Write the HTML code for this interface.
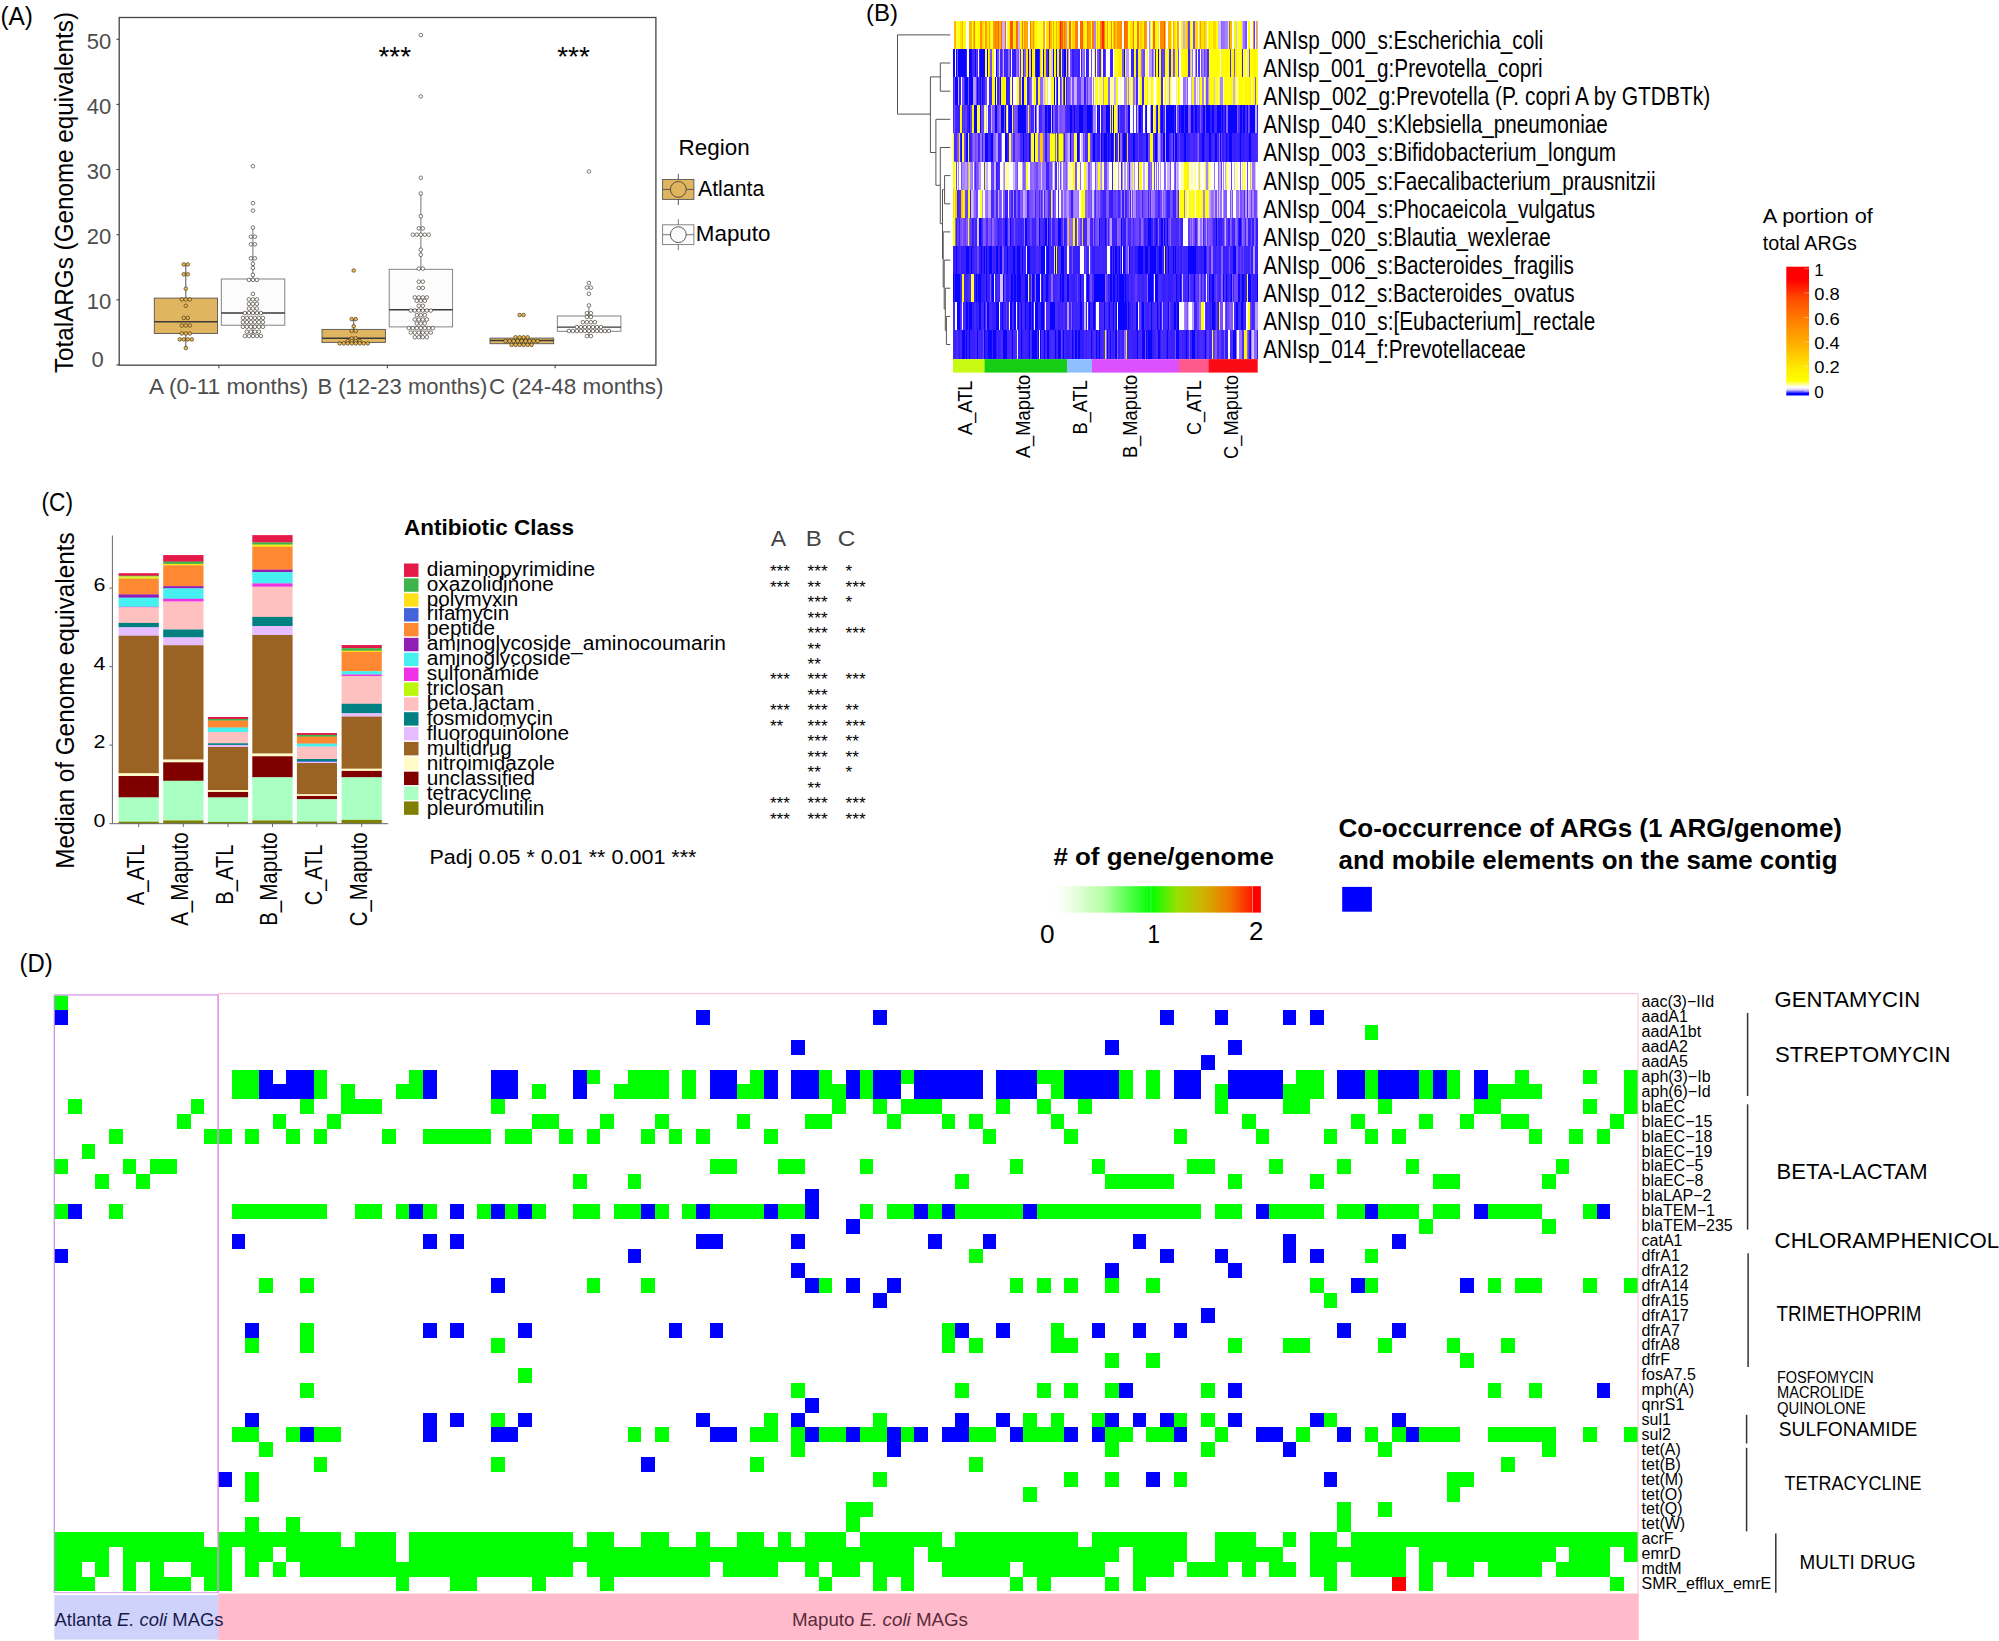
<!DOCTYPE html><html><head><meta charset="utf-8"><title>Figure</title><style>html,body{margin:0;padding:0;background:#fff}svg{display:block}text{font-family:'Liberation Sans', sans-serif;}</style></head><body>
<svg width="1999" height="1641" viewBox="0 0 1999 1641">
<rect width="1999" height="1641" fill="#fff"/>
<g id="panelA">
<text x="0.5" y="24.6" font-size="26" textLength="32.5" lengthAdjust="spacingAndGlyphs">(A)</text>
<rect x="119.2" y="17.5" width="536.7" height="347.7" fill="#fff" stroke="#444" stroke-width="1.3"/>
<line x1="116.4" x2="119.2" y1="364.9" y2="364.9" stroke="#444" stroke-width="1.1"/>
<text x="103.8" y="367.0" font-size="22" fill="#4d4d4d" text-anchor="end">0</text>
<line x1="116.4" x2="119.2" y1="299.8" y2="299.8" stroke="#444" stroke-width="1.1"/>
<text x="111.2" y="309.0" font-size="22" fill="#4d4d4d" text-anchor="end">10</text>
<line x1="116.4" x2="119.2" y1="234.7" y2="234.7" stroke="#444" stroke-width="1.1"/>
<text x="111.2" y="243.9" font-size="22" fill="#4d4d4d" text-anchor="end">20</text>
<line x1="116.4" x2="119.2" y1="169.5" y2="169.5" stroke="#444" stroke-width="1.1"/>
<text x="111.2" y="178.7" font-size="22" fill="#4d4d4d" text-anchor="end">30</text>
<line x1="116.4" x2="119.2" y1="104.4" y2="104.4" stroke="#444" stroke-width="1.1"/>
<text x="111.2" y="113.6" font-size="22" fill="#4d4d4d" text-anchor="end">40</text>
<line x1="116.4" x2="119.2" y1="39.3" y2="39.3" stroke="#444" stroke-width="1.1"/>
<text x="111.2" y="48.5" font-size="22" fill="#4d4d4d" text-anchor="end">50</text>
<text x="73.3" y="373.0" font-size="25" textLength="361.0" lengthAdjust="spacingAndGlyphs" transform="rotate(-90 73.3 373.0)">TotalARGs (Genome equivalents)</text>
<line x1="218.9" x2="218.9" y1="365.2" y2="368.2" stroke="#444" stroke-width="1.1"/>
<line x1="387.4" x2="387.4" y1="365.2" y2="368.2" stroke="#444" stroke-width="1.1"/>
<line x1="555.1" x2="555.1" y1="365.2" y2="368.2" stroke="#444" stroke-width="1.1"/>
<text x="148.9" y="394.2" font-size="22" fill="#4d4d4d" textLength="159.3" lengthAdjust="spacingAndGlyphs">A (0-11 months)</text>
<text x="317.4" y="394.2" font-size="22" fill="#4d4d4d" textLength="170.0" lengthAdjust="spacingAndGlyphs">B (12-23 months)</text>
<text x="489.0" y="394.2" font-size="22" fill="#4d4d4d" textLength="174.5" lengthAdjust="spacingAndGlyphs">C (24-48 months)</text>
<line x1="185.8" x2="185.8" y1="264.4" y2="298.1" stroke="#555" stroke-width="1"/>
<line x1="185.8" x2="185.8" y1="333.5" y2="348.0" stroke="#555" stroke-width="1"/>
<rect x="154.3" y="298.1" width="63.2" height="35.4" fill="#E0B55F" stroke="#555" stroke-width="0.9"/>
<line x1="154.3" x2="217.5" y1="321.7" y2="321.7" stroke="#3a3a3a" stroke-width="1.4"/>
<line x1="252.9" x2="252.9" y1="227.6" y2="279.0" stroke="#777" stroke-width="1"/>
<line x1="252.9" x2="252.9" y1="325.2" y2="336.0" stroke="#777" stroke-width="1"/>
<rect x="221.3" y="279.0" width="63.5" height="46.2" fill="#fcfcfc" stroke="#777" stroke-width="0.9"/>
<line x1="221.3" x2="284.8" y1="313.0" y2="313.0" stroke="#3a3a3a" stroke-width="1.4"/>
<line x1="353.7" x2="353.7" y1="319.1" y2="329.4" stroke="#555" stroke-width="1"/>
<line x1="353.7" x2="353.7" y1="342.4" y2="343.4" stroke="#555" stroke-width="1"/>
<rect x="322.0" y="329.4" width="63.4" height="13.0" fill="#E0B55F" stroke="#555" stroke-width="0.9"/>
<line x1="322.0" x2="385.4" y1="338.3" y2="338.3" stroke="#3a3a3a" stroke-width="1.4"/>
<line x1="420.9" x2="420.9" y1="193.8" y2="269.3" stroke="#777" stroke-width="1"/>
<line x1="420.9" x2="420.9" y1="326.9" y2="338.4" stroke="#777" stroke-width="1"/>
<rect x="389.2" y="269.3" width="63.4" height="57.6" fill="#fcfcfc" stroke="#777" stroke-width="0.9"/>
<line x1="389.2" x2="452.6" y1="309.7" y2="309.7" stroke="#3a3a3a" stroke-width="1.4"/>
<line x1="521.6" x2="521.6" y1="337.3" y2="338.1" stroke="#555" stroke-width="1"/>
<line x1="521.6" x2="521.6" y1="343.7" y2="344.9" stroke="#555" stroke-width="1"/>
<rect x="490.0" y="338.1" width="63.7" height="5.6" fill="#E0B55F" stroke="#555" stroke-width="0.9"/>
<line x1="490.0" x2="553.7" y1="340.5" y2="340.5" stroke="#3a3a3a" stroke-width="1.4"/>
<line x1="588.9" x2="588.9" y1="305.6" y2="316.0" stroke="#777" stroke-width="1"/>
<line x1="588.9" x2="588.9" y1="331.3" y2="336.0" stroke="#777" stroke-width="1"/>
<rect x="557.3" y="316.0" width="63.6" height="15.3" fill="#fcfcfc" stroke="#777" stroke-width="0.9"/>
<line x1="557.3" x2="620.9" y1="327.1" y2="327.1" stroke="#3a3a3a" stroke-width="1.4"/>
<circle cx="183.8" cy="264.4" r="1.8" fill="#eeb84c" stroke="#2a2418" stroke-width="0.6"/>
<circle cx="187.8" cy="264.4" r="1.8" fill="#eeb84c" stroke="#2a2418" stroke-width="0.6"/>
<circle cx="183.8" cy="274.3" r="1.8" fill="#eeb84c" stroke="#2a2418" stroke-width="0.6"/>
<circle cx="187.8" cy="274.3" r="1.8" fill="#eeb84c" stroke="#2a2418" stroke-width="0.6"/>
<circle cx="185.8" cy="288.7" r="1.8" fill="#eeb84c" stroke="#2a2418" stroke-width="0.6"/>
<circle cx="181.8" cy="299.4" r="1.8" fill="#eeb84c" stroke="#2a2418" stroke-width="0.6"/>
<circle cx="185.8" cy="299.4" r="1.8" fill="#eeb84c" stroke="#2a2418" stroke-width="0.6"/>
<circle cx="189.8" cy="299.4" r="1.8" fill="#eeb84c" stroke="#2a2418" stroke-width="0.6"/>
<circle cx="185.8" cy="305.8" r="1.8" fill="#eeb84c" stroke="#2a2418" stroke-width="0.6"/>
<circle cx="183.8" cy="317.9" r="1.8" fill="#eeb84c" stroke="#2a2418" stroke-width="0.6"/>
<circle cx="187.8" cy="317.9" r="1.8" fill="#eeb84c" stroke="#2a2418" stroke-width="0.6"/>
<circle cx="181.8" cy="325.5" r="1.8" fill="#eeb84c" stroke="#2a2418" stroke-width="0.6"/>
<circle cx="185.8" cy="325.5" r="1.8" fill="#eeb84c" stroke="#2a2418" stroke-width="0.6"/>
<circle cx="189.8" cy="325.5" r="1.8" fill="#eeb84c" stroke="#2a2418" stroke-width="0.6"/>
<circle cx="181.8" cy="333.5" r="1.8" fill="#eeb84c" stroke="#2a2418" stroke-width="0.6"/>
<circle cx="185.8" cy="333.5" r="1.8" fill="#eeb84c" stroke="#2a2418" stroke-width="0.6"/>
<circle cx="189.8" cy="333.5" r="1.8" fill="#eeb84c" stroke="#2a2418" stroke-width="0.6"/>
<circle cx="179.8" cy="339.4" r="1.8" fill="#eeb84c" stroke="#2a2418" stroke-width="0.6"/>
<circle cx="183.8" cy="339.4" r="1.8" fill="#eeb84c" stroke="#2a2418" stroke-width="0.6"/>
<circle cx="187.8" cy="339.4" r="1.8" fill="#eeb84c" stroke="#2a2418" stroke-width="0.6"/>
<circle cx="191.8" cy="339.4" r="1.8" fill="#eeb84c" stroke="#2a2418" stroke-width="0.6"/>
<circle cx="185.8" cy="348.0" r="1.8" fill="#eeb84c" stroke="#2a2418" stroke-width="0.6"/>
<circle cx="252.9" cy="166.2" r="1.8" fill="#fff" stroke="#2a2418" stroke-width="0.6"/>
<circle cx="252.9" cy="203.2" r="1.8" fill="#fff" stroke="#2a2418" stroke-width="0.6"/>
<circle cx="252.9" cy="210.6" r="1.8" fill="#fff" stroke="#2a2418" stroke-width="0.6"/>
<circle cx="252.9" cy="227.6" r="1.8" fill="#fff" stroke="#2a2418" stroke-width="0.6"/>
<circle cx="250.9" cy="236.7" r="1.8" fill="#fff" stroke="#2a2418" stroke-width="0.6"/>
<circle cx="254.9" cy="236.7" r="1.8" fill="#fff" stroke="#2a2418" stroke-width="0.6"/>
<circle cx="250.9" cy="244.3" r="1.8" fill="#fff" stroke="#2a2418" stroke-width="0.6"/>
<circle cx="254.9" cy="244.3" r="1.8" fill="#fff" stroke="#2a2418" stroke-width="0.6"/>
<circle cx="250.9" cy="258.3" r="1.8" fill="#fff" stroke="#2a2418" stroke-width="0.6"/>
<circle cx="254.9" cy="258.3" r="1.8" fill="#fff" stroke="#2a2418" stroke-width="0.6"/>
<circle cx="252.9" cy="263.8" r="1.8" fill="#fff" stroke="#2a2418" stroke-width="0.6"/>
<circle cx="252.9" cy="267.9" r="1.8" fill="#fff" stroke="#2a2418" stroke-width="0.6"/>
<circle cx="252.9" cy="275.0" r="1.8" fill="#fff" stroke="#2a2418" stroke-width="0.6"/>
<circle cx="248.9" cy="279.9" r="1.8" fill="#fff" stroke="#2a2418" stroke-width="0.6"/>
<circle cx="252.9" cy="279.9" r="1.8" fill="#fff" stroke="#2a2418" stroke-width="0.6"/>
<circle cx="256.9" cy="279.9" r="1.8" fill="#fff" stroke="#2a2418" stroke-width="0.6"/>
<circle cx="252.9" cy="293.9" r="1.8" fill="#fff" stroke="#2a2418" stroke-width="0.6"/>
<circle cx="248.9" cy="299.4" r="1.8" fill="#fff" stroke="#2a2418" stroke-width="0.6"/>
<circle cx="252.9" cy="299.4" r="1.8" fill="#fff" stroke="#2a2418" stroke-width="0.6"/>
<circle cx="256.9" cy="299.4" r="1.8" fill="#fff" stroke="#2a2418" stroke-width="0.6"/>
<circle cx="248.9" cy="303.9" r="1.8" fill="#fff" stroke="#2a2418" stroke-width="0.6"/>
<circle cx="252.9" cy="303.9" r="1.8" fill="#fff" stroke="#2a2418" stroke-width="0.6"/>
<circle cx="256.9" cy="303.9" r="1.8" fill="#fff" stroke="#2a2418" stroke-width="0.6"/>
<circle cx="248.9" cy="308.5" r="1.8" fill="#fff" stroke="#2a2418" stroke-width="0.6"/>
<circle cx="252.9" cy="308.5" r="1.8" fill="#fff" stroke="#2a2418" stroke-width="0.6"/>
<circle cx="256.9" cy="308.5" r="1.8" fill="#fff" stroke="#2a2418" stroke-width="0.6"/>
<circle cx="244.9" cy="313.0" r="1.8" fill="#fff" stroke="#2a2418" stroke-width="0.6"/>
<circle cx="248.9" cy="313.0" r="1.8" fill="#fff" stroke="#2a2418" stroke-width="0.6"/>
<circle cx="252.9" cy="313.0" r="1.8" fill="#fff" stroke="#2a2418" stroke-width="0.6"/>
<circle cx="256.9" cy="313.0" r="1.8" fill="#fff" stroke="#2a2418" stroke-width="0.6"/>
<circle cx="260.9" cy="313.0" r="1.8" fill="#fff" stroke="#2a2418" stroke-width="0.6"/>
<circle cx="242.9" cy="317.9" r="1.8" fill="#fff" stroke="#2a2418" stroke-width="0.6"/>
<circle cx="246.9" cy="317.9" r="1.8" fill="#fff" stroke="#2a2418" stroke-width="0.6"/>
<circle cx="250.9" cy="317.9" r="1.8" fill="#fff" stroke="#2a2418" stroke-width="0.6"/>
<circle cx="254.9" cy="317.9" r="1.8" fill="#fff" stroke="#2a2418" stroke-width="0.6"/>
<circle cx="258.9" cy="317.9" r="1.8" fill="#fff" stroke="#2a2418" stroke-width="0.6"/>
<circle cx="262.9" cy="317.9" r="1.8" fill="#fff" stroke="#2a2418" stroke-width="0.6"/>
<circle cx="242.9" cy="322.2" r="1.8" fill="#fff" stroke="#2a2418" stroke-width="0.6"/>
<circle cx="246.9" cy="322.2" r="1.8" fill="#fff" stroke="#2a2418" stroke-width="0.6"/>
<circle cx="250.9" cy="322.2" r="1.8" fill="#fff" stroke="#2a2418" stroke-width="0.6"/>
<circle cx="254.9" cy="322.2" r="1.8" fill="#fff" stroke="#2a2418" stroke-width="0.6"/>
<circle cx="258.9" cy="322.2" r="1.8" fill="#fff" stroke="#2a2418" stroke-width="0.6"/>
<circle cx="262.9" cy="322.2" r="1.8" fill="#fff" stroke="#2a2418" stroke-width="0.6"/>
<circle cx="242.9" cy="326.8" r="1.8" fill="#fff" stroke="#2a2418" stroke-width="0.6"/>
<circle cx="246.9" cy="326.8" r="1.8" fill="#fff" stroke="#2a2418" stroke-width="0.6"/>
<circle cx="250.9" cy="326.8" r="1.8" fill="#fff" stroke="#2a2418" stroke-width="0.6"/>
<circle cx="254.9" cy="326.8" r="1.8" fill="#fff" stroke="#2a2418" stroke-width="0.6"/>
<circle cx="258.9" cy="326.8" r="1.8" fill="#fff" stroke="#2a2418" stroke-width="0.6"/>
<circle cx="262.9" cy="326.8" r="1.8" fill="#fff" stroke="#2a2418" stroke-width="0.6"/>
<circle cx="246.9" cy="331.7" r="1.8" fill="#fff" stroke="#2a2418" stroke-width="0.6"/>
<circle cx="250.9" cy="331.7" r="1.8" fill="#fff" stroke="#2a2418" stroke-width="0.6"/>
<circle cx="254.9" cy="331.7" r="1.8" fill="#fff" stroke="#2a2418" stroke-width="0.6"/>
<circle cx="258.9" cy="331.7" r="1.8" fill="#fff" stroke="#2a2418" stroke-width="0.6"/>
<circle cx="244.9" cy="336.0" r="1.8" fill="#fff" stroke="#2a2418" stroke-width="0.6"/>
<circle cx="248.9" cy="336.0" r="1.8" fill="#fff" stroke="#2a2418" stroke-width="0.6"/>
<circle cx="252.9" cy="336.0" r="1.8" fill="#fff" stroke="#2a2418" stroke-width="0.6"/>
<circle cx="256.9" cy="336.0" r="1.8" fill="#fff" stroke="#2a2418" stroke-width="0.6"/>
<circle cx="260.9" cy="336.0" r="1.8" fill="#fff" stroke="#2a2418" stroke-width="0.6"/>
<circle cx="353.7" cy="270.5" r="1.8" fill="#eeb84c" stroke="#2a2418" stroke-width="0.6"/>
<circle cx="351.7" cy="319.1" r="1.8" fill="#eeb84c" stroke="#2a2418" stroke-width="0.6"/>
<circle cx="355.7" cy="319.1" r="1.8" fill="#eeb84c" stroke="#2a2418" stroke-width="0.6"/>
<circle cx="353.7" cy="326.3" r="1.8" fill="#eeb84c" stroke="#2a2418" stroke-width="0.6"/>
<circle cx="351.7" cy="330.9" r="1.8" fill="#eeb84c" stroke="#2a2418" stroke-width="0.6"/>
<circle cx="355.7" cy="330.9" r="1.8" fill="#eeb84c" stroke="#2a2418" stroke-width="0.6"/>
<circle cx="351.7" cy="338.3" r="1.8" fill="#eeb84c" stroke="#2a2418" stroke-width="0.6"/>
<circle cx="355.7" cy="338.3" r="1.8" fill="#eeb84c" stroke="#2a2418" stroke-width="0.6"/>
<circle cx="347.7" cy="341.1" r="1.8" fill="#eeb84c" stroke="#2a2418" stroke-width="0.6"/>
<circle cx="351.7" cy="341.1" r="1.8" fill="#eeb84c" stroke="#2a2418" stroke-width="0.6"/>
<circle cx="355.7" cy="341.1" r="1.8" fill="#eeb84c" stroke="#2a2418" stroke-width="0.6"/>
<circle cx="359.7" cy="341.1" r="1.8" fill="#eeb84c" stroke="#2a2418" stroke-width="0.6"/>
<circle cx="339.7" cy="343.4" r="1.8" fill="#eeb84c" stroke="#2a2418" stroke-width="0.6"/>
<circle cx="343.7" cy="343.4" r="1.8" fill="#eeb84c" stroke="#2a2418" stroke-width="0.6"/>
<circle cx="347.7" cy="343.4" r="1.8" fill="#eeb84c" stroke="#2a2418" stroke-width="0.6"/>
<circle cx="351.7" cy="343.4" r="1.8" fill="#eeb84c" stroke="#2a2418" stroke-width="0.6"/>
<circle cx="355.7" cy="343.4" r="1.8" fill="#eeb84c" stroke="#2a2418" stroke-width="0.6"/>
<circle cx="359.7" cy="343.4" r="1.8" fill="#eeb84c" stroke="#2a2418" stroke-width="0.6"/>
<circle cx="363.7" cy="343.4" r="1.8" fill="#eeb84c" stroke="#2a2418" stroke-width="0.6"/>
<circle cx="367.7" cy="343.4" r="1.8" fill="#eeb84c" stroke="#2a2418" stroke-width="0.6"/>
<circle cx="420.8" cy="35.1" r="1.8" fill="#fff" stroke="#2a2418" stroke-width="0.6"/>
<circle cx="420.8" cy="96.4" r="1.8" fill="#fff" stroke="#2a2418" stroke-width="0.6"/>
<circle cx="420.8" cy="177.8" r="1.8" fill="#fff" stroke="#2a2418" stroke-width="0.6"/>
<circle cx="420.8" cy="193.5" r="1.8" fill="#fff" stroke="#2a2418" stroke-width="0.6"/>
<circle cx="420.8" cy="216.2" r="1.8" fill="#fff" stroke="#2a2418" stroke-width="0.6"/>
<circle cx="418.8" cy="228.4" r="1.8" fill="#fff" stroke="#2a2418" stroke-width="0.6"/>
<circle cx="422.8" cy="228.4" r="1.8" fill="#fff" stroke="#2a2418" stroke-width="0.6"/>
<circle cx="412.8" cy="234.7" r="1.8" fill="#fff" stroke="#2a2418" stroke-width="0.6"/>
<circle cx="416.8" cy="234.7" r="1.8" fill="#fff" stroke="#2a2418" stroke-width="0.6"/>
<circle cx="420.8" cy="234.7" r="1.8" fill="#fff" stroke="#2a2418" stroke-width="0.6"/>
<circle cx="424.8" cy="234.7" r="1.8" fill="#fff" stroke="#2a2418" stroke-width="0.6"/>
<circle cx="428.8" cy="234.7" r="1.8" fill="#fff" stroke="#2a2418" stroke-width="0.6"/>
<circle cx="420.8" cy="249.7" r="1.8" fill="#fff" stroke="#2a2418" stroke-width="0.6"/>
<circle cx="420.8" cy="254.8" r="1.8" fill="#fff" stroke="#2a2418" stroke-width="0.6"/>
<circle cx="418.8" cy="268.6" r="1.8" fill="#fff" stroke="#2a2418" stroke-width="0.6"/>
<circle cx="422.8" cy="268.6" r="1.8" fill="#fff" stroke="#2a2418" stroke-width="0.6"/>
<circle cx="418.8" cy="281.7" r="1.8" fill="#fff" stroke="#2a2418" stroke-width="0.6"/>
<circle cx="422.8" cy="281.7" r="1.8" fill="#fff" stroke="#2a2418" stroke-width="0.6"/>
<circle cx="418.8" cy="287.9" r="1.8" fill="#fff" stroke="#2a2418" stroke-width="0.6"/>
<circle cx="422.8" cy="287.9" r="1.8" fill="#fff" stroke="#2a2418" stroke-width="0.6"/>
<circle cx="414.8" cy="297.4" r="1.8" fill="#fff" stroke="#2a2418" stroke-width="0.6"/>
<circle cx="418.8" cy="297.4" r="1.8" fill="#fff" stroke="#2a2418" stroke-width="0.6"/>
<circle cx="422.8" cy="297.4" r="1.8" fill="#fff" stroke="#2a2418" stroke-width="0.6"/>
<circle cx="426.8" cy="297.4" r="1.8" fill="#fff" stroke="#2a2418" stroke-width="0.6"/>
<circle cx="416.8" cy="300.8" r="1.8" fill="#fff" stroke="#2a2418" stroke-width="0.6"/>
<circle cx="420.8" cy="300.8" r="1.8" fill="#fff" stroke="#2a2418" stroke-width="0.6"/>
<circle cx="424.8" cy="300.8" r="1.8" fill="#fff" stroke="#2a2418" stroke-width="0.6"/>
<circle cx="418.8" cy="305.8" r="1.8" fill="#fff" stroke="#2a2418" stroke-width="0.6"/>
<circle cx="422.8" cy="305.8" r="1.8" fill="#fff" stroke="#2a2418" stroke-width="0.6"/>
<circle cx="410.8" cy="310.5" r="1.8" fill="#fff" stroke="#2a2418" stroke-width="0.6"/>
<circle cx="414.8" cy="310.5" r="1.8" fill="#fff" stroke="#2a2418" stroke-width="0.6"/>
<circle cx="418.8" cy="310.5" r="1.8" fill="#fff" stroke="#2a2418" stroke-width="0.6"/>
<circle cx="422.8" cy="310.5" r="1.8" fill="#fff" stroke="#2a2418" stroke-width="0.6"/>
<circle cx="426.8" cy="310.5" r="1.8" fill="#fff" stroke="#2a2418" stroke-width="0.6"/>
<circle cx="430.8" cy="310.5" r="1.8" fill="#fff" stroke="#2a2418" stroke-width="0.6"/>
<circle cx="416.8" cy="315.1" r="1.8" fill="#fff" stroke="#2a2418" stroke-width="0.6"/>
<circle cx="420.8" cy="315.1" r="1.8" fill="#fff" stroke="#2a2418" stroke-width="0.6"/>
<circle cx="424.8" cy="315.1" r="1.8" fill="#fff" stroke="#2a2418" stroke-width="0.6"/>
<circle cx="414.8" cy="319.5" r="1.8" fill="#fff" stroke="#2a2418" stroke-width="0.6"/>
<circle cx="418.8" cy="319.5" r="1.8" fill="#fff" stroke="#2a2418" stroke-width="0.6"/>
<circle cx="422.8" cy="319.5" r="1.8" fill="#fff" stroke="#2a2418" stroke-width="0.6"/>
<circle cx="426.8" cy="319.5" r="1.8" fill="#fff" stroke="#2a2418" stroke-width="0.6"/>
<circle cx="416.8" cy="323.5" r="1.8" fill="#fff" stroke="#2a2418" stroke-width="0.6"/>
<circle cx="420.8" cy="323.5" r="1.8" fill="#fff" stroke="#2a2418" stroke-width="0.6"/>
<circle cx="424.8" cy="323.5" r="1.8" fill="#fff" stroke="#2a2418" stroke-width="0.6"/>
<circle cx="408.8" cy="328.1" r="1.8" fill="#fff" stroke="#2a2418" stroke-width="0.6"/>
<circle cx="412.8" cy="328.1" r="1.8" fill="#fff" stroke="#2a2418" stroke-width="0.6"/>
<circle cx="416.8" cy="328.1" r="1.8" fill="#fff" stroke="#2a2418" stroke-width="0.6"/>
<circle cx="420.8" cy="328.1" r="1.8" fill="#fff" stroke="#2a2418" stroke-width="0.6"/>
<circle cx="424.8" cy="328.1" r="1.8" fill="#fff" stroke="#2a2418" stroke-width="0.6"/>
<circle cx="428.8" cy="328.1" r="1.8" fill="#fff" stroke="#2a2418" stroke-width="0.6"/>
<circle cx="432.8" cy="328.1" r="1.8" fill="#fff" stroke="#2a2418" stroke-width="0.6"/>
<circle cx="410.8" cy="332.6" r="1.8" fill="#fff" stroke="#2a2418" stroke-width="0.6"/>
<circle cx="414.8" cy="332.6" r="1.8" fill="#fff" stroke="#2a2418" stroke-width="0.6"/>
<circle cx="418.8" cy="332.6" r="1.8" fill="#fff" stroke="#2a2418" stroke-width="0.6"/>
<circle cx="422.8" cy="332.6" r="1.8" fill="#fff" stroke="#2a2418" stroke-width="0.6"/>
<circle cx="426.8" cy="332.6" r="1.8" fill="#fff" stroke="#2a2418" stroke-width="0.6"/>
<circle cx="430.8" cy="332.6" r="1.8" fill="#fff" stroke="#2a2418" stroke-width="0.6"/>
<circle cx="414.8" cy="337.2" r="1.8" fill="#fff" stroke="#2a2418" stroke-width="0.6"/>
<circle cx="418.8" cy="337.2" r="1.8" fill="#fff" stroke="#2a2418" stroke-width="0.6"/>
<circle cx="422.8" cy="337.2" r="1.8" fill="#fff" stroke="#2a2418" stroke-width="0.6"/>
<circle cx="426.8" cy="337.2" r="1.8" fill="#fff" stroke="#2a2418" stroke-width="0.6"/>
<circle cx="519.6" cy="315.0" r="1.8" fill="#eeb84c" stroke="#2a2418" stroke-width="0.6"/>
<circle cx="523.6" cy="315.0" r="1.8" fill="#eeb84c" stroke="#2a2418" stroke-width="0.6"/>
<circle cx="515.6" cy="337.3" r="1.8" fill="#eeb84c" stroke="#2a2418" stroke-width="0.6"/>
<circle cx="519.6" cy="337.3" r="1.8" fill="#eeb84c" stroke="#2a2418" stroke-width="0.6"/>
<circle cx="523.6" cy="337.3" r="1.8" fill="#eeb84c" stroke="#2a2418" stroke-width="0.6"/>
<circle cx="527.6" cy="337.3" r="1.8" fill="#eeb84c" stroke="#2a2418" stroke-width="0.6"/>
<circle cx="505.6" cy="341.0" r="1.8" fill="#eeb84c" stroke="#2a2418" stroke-width="0.6"/>
<circle cx="509.6" cy="341.0" r="1.8" fill="#eeb84c" stroke="#2a2418" stroke-width="0.6"/>
<circle cx="513.6" cy="341.0" r="1.8" fill="#eeb84c" stroke="#2a2418" stroke-width="0.6"/>
<circle cx="517.6" cy="341.0" r="1.8" fill="#eeb84c" stroke="#2a2418" stroke-width="0.6"/>
<circle cx="521.6" cy="341.0" r="1.8" fill="#eeb84c" stroke="#2a2418" stroke-width="0.6"/>
<circle cx="525.6" cy="341.0" r="1.8" fill="#eeb84c" stroke="#2a2418" stroke-width="0.6"/>
<circle cx="529.6" cy="341.0" r="1.8" fill="#eeb84c" stroke="#2a2418" stroke-width="0.6"/>
<circle cx="533.6" cy="341.0" r="1.8" fill="#eeb84c" stroke="#2a2418" stroke-width="0.6"/>
<circle cx="537.6" cy="341.0" r="1.8" fill="#eeb84c" stroke="#2a2418" stroke-width="0.6"/>
<circle cx="511.6" cy="344.9" r="1.8" fill="#eeb84c" stroke="#2a2418" stroke-width="0.6"/>
<circle cx="515.6" cy="344.9" r="1.8" fill="#eeb84c" stroke="#2a2418" stroke-width="0.6"/>
<circle cx="519.6" cy="344.9" r="1.8" fill="#eeb84c" stroke="#2a2418" stroke-width="0.6"/>
<circle cx="523.6" cy="344.9" r="1.8" fill="#eeb84c" stroke="#2a2418" stroke-width="0.6"/>
<circle cx="527.6" cy="344.9" r="1.8" fill="#eeb84c" stroke="#2a2418" stroke-width="0.6"/>
<circle cx="531.6" cy="344.9" r="1.8" fill="#eeb84c" stroke="#2a2418" stroke-width="0.6"/>
<circle cx="588.9" cy="171.5" r="1.8" fill="#fff" stroke="#2a2418" stroke-width="0.6"/>
<circle cx="588.9" cy="283.0" r="1.8" fill="#fff" stroke="#2a2418" stroke-width="0.6"/>
<circle cx="586.9" cy="287.6" r="1.8" fill="#fff" stroke="#2a2418" stroke-width="0.6"/>
<circle cx="590.9" cy="287.6" r="1.8" fill="#fff" stroke="#2a2418" stroke-width="0.6"/>
<circle cx="588.9" cy="293.8" r="1.8" fill="#fff" stroke="#2a2418" stroke-width="0.6"/>
<circle cx="588.9" cy="305.4" r="1.8" fill="#fff" stroke="#2a2418" stroke-width="0.6"/>
<circle cx="586.9" cy="313.2" r="1.8" fill="#fff" stroke="#2a2418" stroke-width="0.6"/>
<circle cx="590.9" cy="313.2" r="1.8" fill="#fff" stroke="#2a2418" stroke-width="0.6"/>
<circle cx="586.9" cy="317.0" r="1.8" fill="#fff" stroke="#2a2418" stroke-width="0.6"/>
<circle cx="590.9" cy="317.0" r="1.8" fill="#fff" stroke="#2a2418" stroke-width="0.6"/>
<circle cx="582.9" cy="322.2" r="1.8" fill="#fff" stroke="#2a2418" stroke-width="0.6"/>
<circle cx="586.9" cy="322.2" r="1.8" fill="#fff" stroke="#2a2418" stroke-width="0.6"/>
<circle cx="590.9" cy="322.2" r="1.8" fill="#fff" stroke="#2a2418" stroke-width="0.6"/>
<circle cx="594.9" cy="322.2" r="1.8" fill="#fff" stroke="#2a2418" stroke-width="0.6"/>
<circle cx="576.9" cy="327.1" r="1.8" fill="#fff" stroke="#2a2418" stroke-width="0.6"/>
<circle cx="580.9" cy="327.1" r="1.8" fill="#fff" stroke="#2a2418" stroke-width="0.6"/>
<circle cx="584.9" cy="327.1" r="1.8" fill="#fff" stroke="#2a2418" stroke-width="0.6"/>
<circle cx="588.9" cy="327.1" r="1.8" fill="#fff" stroke="#2a2418" stroke-width="0.6"/>
<circle cx="592.9" cy="327.1" r="1.8" fill="#fff" stroke="#2a2418" stroke-width="0.6"/>
<circle cx="596.9" cy="327.1" r="1.8" fill="#fff" stroke="#2a2418" stroke-width="0.6"/>
<circle cx="600.9" cy="327.1" r="1.8" fill="#fff" stroke="#2a2418" stroke-width="0.6"/>
<circle cx="568.9" cy="331.0" r="1.8" fill="#fff" stroke="#2a2418" stroke-width="0.6"/>
<circle cx="572.9" cy="331.0" r="1.8" fill="#fff" stroke="#2a2418" stroke-width="0.6"/>
<circle cx="576.9" cy="331.0" r="1.8" fill="#fff" stroke="#2a2418" stroke-width="0.6"/>
<circle cx="580.9" cy="331.0" r="1.8" fill="#fff" stroke="#2a2418" stroke-width="0.6"/>
<circle cx="584.9" cy="331.0" r="1.8" fill="#fff" stroke="#2a2418" stroke-width="0.6"/>
<circle cx="588.9" cy="331.0" r="1.8" fill="#fff" stroke="#2a2418" stroke-width="0.6"/>
<circle cx="592.9" cy="331.0" r="1.8" fill="#fff" stroke="#2a2418" stroke-width="0.6"/>
<circle cx="596.9" cy="331.0" r="1.8" fill="#fff" stroke="#2a2418" stroke-width="0.6"/>
<circle cx="600.9" cy="331.0" r="1.8" fill="#fff" stroke="#2a2418" stroke-width="0.6"/>
<circle cx="604.9" cy="331.0" r="1.8" fill="#fff" stroke="#2a2418" stroke-width="0.6"/>
<circle cx="608.9" cy="331.0" r="1.8" fill="#fff" stroke="#2a2418" stroke-width="0.6"/>
<circle cx="586.9" cy="336.1" r="1.8" fill="#fff" stroke="#2a2418" stroke-width="0.6"/>
<circle cx="590.9" cy="336.1" r="1.8" fill="#fff" stroke="#2a2418" stroke-width="0.6"/>
<text x="394.8" y="66.0" font-size="28" text-anchor="middle">***</text>
<text x="573.5" y="66.0" font-size="28" text-anchor="middle">***</text>
<text x="678.6" y="155.0" font-size="21.5" textLength="71.0" lengthAdjust="spacingAndGlyphs">Region</text>
<line x1="678.3" x2="678.3" y1="173.9" y2="205.0" stroke="#555" stroke-width="1"/>
<rect x="662.6" y="179.5" width="31.3" height="19.9" fill="#E0B55F" stroke="#555" stroke-width="0.9"/>
<line x1="662.6" x2="693.9" y1="189.4" y2="189.4" stroke="#555" stroke-width="1"/>
<circle cx="678.3" cy="189.4" r="7.9" fill="#E0B55F" stroke="#333" stroke-width="0.8"/>
<text x="698.0" y="195.6" font-size="22.5" textLength="66.3" lengthAdjust="spacingAndGlyphs">Atlanta</text>
<line x1="678.3" x2="678.3" y1="219.20000000000002" y2="250.2" stroke="#777" stroke-width="1"/>
<rect x="662.6" y="224.8" width="31.3" height="19.8" fill="#fcfcfc" stroke="#777" stroke-width="0.9"/>
<line x1="662.6" x2="693.9" y1="234.7" y2="234.7" stroke="#777" stroke-width="1"/>
<circle cx="678.3" cy="234.7" r="7.9" fill="#fcfcfc" stroke="#333" stroke-width="0.8"/>
<text x="695.8" y="240.8" font-size="22.5" textLength="74.7" lengthAdjust="spacingAndGlyphs">Maputo</text>
</g>
<g id="panelB">
<text x="866.0" y="21.3" font-size="24.5" textLength="32.0" lengthAdjust="spacingAndGlyphs">(B)</text>
<path d="M953 20.80h1v28.15h-1zM966 20.80h3v28.15h-3zM1006 20.80h1v28.15h-1zM1028 20.80h2v28.15h-2zM1045 20.80h1v28.15h-1zM1078 20.80h2v28.15h-2zM1122 20.80h2v28.15h-2zM1147 20.80h2v28.15h-2zM1151 20.80h1v28.15h-1zM1159 20.80h1v28.15h-1zM1166 20.80h2v28.15h-2zM1172 20.80h1v28.15h-1zM1179 20.80h2v28.15h-2zM1198 20.80h1v28.15h-1zM1207 20.80h1v28.15h-1zM1232 20.80h2v28.15h-2zM1247 20.80h1v28.15h-1zM1250 20.80h3v28.15h-3zM1255 20.80h1v28.15h-1z" fill="#ffffff" shape-rendering="crispEdges"/>
<path d="M954 20.80h2v28.15h-2zM962 20.80h1v28.15h-1zM969 20.80h3v28.15h-3zM999 20.80h2v28.15h-2zM1043 20.80h1v28.15h-1zM1050 20.80h2v28.15h-2zM1056 20.80h1v28.15h-1zM1168 20.80h1v28.15h-1zM1169 20.80h2v28.15h-2zM1204 20.80h1v28.15h-1zM1230 20.80h2v28.15h-2zM1257 20.80h1v28.15h-1z" fill="#ffb600" shape-rendering="crispEdges"/>
<path d="M956 20.80h2v28.15h-2zM958 20.80h2v28.15h-2zM976 20.80h1v28.15h-1zM991 20.80h2v28.15h-2zM1007 20.80h1v28.15h-1zM1037 20.80h3v28.15h-3zM1040 20.80h3v28.15h-3zM1071 20.80h1v28.15h-1zM1091 20.80h1v28.15h-1zM1108 20.80h1v28.15h-1zM1112 20.80h1v28.15h-1zM1128 20.80h2v28.15h-2zM1135 20.80h2v28.15h-2zM1157 20.80h1v28.15h-1zM1176 20.80h1v28.15h-1zM1191 20.80h2v28.15h-2zM1208 20.80h1v28.15h-1zM1237 20.80h2v28.15h-2zM1239 20.80h2v28.15h-2z" fill="#ffff26" shape-rendering="crispEdges"/>
<path d="M960 20.80h2v28.15h-2zM983 20.80h1v28.15h-1zM1014 20.80h2v28.15h-2zM1021 20.80h1v28.15h-1zM1034 20.80h1v28.15h-1zM1132 20.80h1v28.15h-1zM1174 20.80h1v28.15h-1zM1185 20.80h2v28.15h-2zM1203 20.80h1v28.15h-1zM1205 20.80h2v28.15h-2z" fill="#ffdf00" shape-rendering="crispEdges"/>
<path d="M963 20.80h3v28.15h-3zM972 20.80h1v28.15h-1zM975 20.80h1v28.15h-1zM977 20.80h3v28.15h-3zM1020 20.80h1v28.15h-1zM1085 20.80h1v28.15h-1zM1096 20.80h1v28.15h-1zM1134 20.80h1v28.15h-1zM1152 20.80h1v28.15h-1zM1171 20.80h1v28.15h-1zM1212 20.80h1v28.15h-1zM1216 20.80h2v28.15h-2zM1228 20.80h1v28.15h-1zM1241 20.80h1v28.15h-1zM1248 20.80h1v28.15h-1z" fill="#ffff00" shape-rendering="crispEdges"/>
<path d="M973 20.80h1v28.15h-1zM1073 20.80h1v28.15h-1zM1097 20.80h1v28.15h-1zM1113 20.80h1v28.15h-1zM1115 20.80h2v28.15h-2zM1165 20.80h1v28.15h-1z" fill="#ffc500" shape-rendering="crispEdges"/>
<path d="M974 20.80h1v28.15h-1zM995 20.80h1v28.15h-1zM1022 20.80h1v28.15h-1zM1030 20.80h1v28.15h-1zM1087 20.80h1v28.15h-1zM1100 20.80h2v28.15h-2zM1104 20.80h1v28.15h-1z" fill="#ff7f00" shape-rendering="crispEdges"/>
<path d="M980 20.80h2v28.15h-2zM996 20.80h2v28.15h-2zM1033 20.80h1v28.15h-1zM1120 20.80h2v28.15h-2zM1144 20.80h2v28.15h-2zM1253 20.80h1v28.15h-1z" fill="#ff9100" shape-rendering="crispEdges"/>
<path d="M982 20.80h1v28.15h-1zM1031 20.80h2v28.15h-2zM1140 20.80h2v28.15h-2z" fill="#ffd000" shape-rendering="crispEdges"/>
<path d="M984 20.80h1v28.15h-1zM1008 20.80h2v28.15h-2zM1035 20.80h2v28.15h-2zM1052 20.80h1v28.15h-1zM1054 20.80h2v28.15h-2zM1067 20.80h2v28.15h-2zM1099 20.80h1v28.15h-1zM1150 20.80h1v28.15h-1zM1190 20.80h1v28.15h-1zM1210 20.80h2v28.15h-2zM1249 20.80h1v28.15h-1z" fill="#fffa00" shape-rendering="crispEdges"/>
<path d="M985 20.80h2v28.15h-2zM993 20.80h2v28.15h-2zM1024 20.80h1v28.15h-1zM1065 20.80h1v28.15h-1zM1088 20.80h2v28.15h-2zM1117 20.80h3v28.15h-3zM1146 20.80h1v28.15h-1zM1200 20.80h1v28.15h-1z" fill="#ff9d00" shape-rendering="crispEdges"/>
<path d="M987 20.80h2v28.15h-2zM1023 20.80h1v28.15h-1zM1046 20.80h3v28.15h-3zM1057 20.80h2v28.15h-2zM1083 20.80h2v28.15h-2zM1130 20.80h2v28.15h-2zM1142 20.80h1v28.15h-1zM1158 20.80h1v28.15h-1zM1175 20.80h1v28.15h-1zM1199 20.80h1v28.15h-1zM1201 20.80h2v28.15h-2zM1209 20.80h1v28.15h-1z" fill="#ffe700" shape-rendering="crispEdges"/>
<path d="M989 20.80h1v28.15h-1zM1025 20.80h3v28.15h-3zM1044 20.80h1v28.15h-1zM1053 20.80h1v28.15h-1zM1059 20.80h1v28.15h-1zM1063 20.80h1v28.15h-1zM1090 20.80h1v28.15h-1zM1107 20.80h1v28.15h-1zM1173 20.80h1v28.15h-1zM1177 20.80h2v28.15h-2zM1187 20.80h1v28.15h-1z" fill="#ffa900" shape-rendering="crispEdges"/>
<path d="M990 20.80h1v28.15h-1zM1013 20.80h1v28.15h-1zM1086 20.80h1v28.15h-1zM1098 20.80h1v28.15h-1zM1105 20.80h2v28.15h-2zM1109 20.80h2v28.15h-2zM1139 20.80h1v28.15h-1zM1143 20.80h1v28.15h-1zM1155 20.80h2v28.15h-2zM1181 20.80h2v28.15h-2zM1234 20.80h2v28.15h-2z" fill="#fff400" shape-rendering="crispEdges"/>
<path d="M998 20.80h1v28.15h-1zM1001 20.80h1v28.15h-1zM1005 20.80h1v28.15h-1zM1016 20.80h2v28.15h-2zM1061 20.80h2v28.15h-2zM1069 20.80h2v28.15h-2zM1080 20.80h2v28.15h-2zM1124 20.80h2v28.15h-2zM1153 20.80h2v28.15h-2z" fill="#ff6700" shape-rendering="crispEdges"/>
<path d="M1002 20.80h3v28.15h-3zM1018 20.80h2v28.15h-2zM1183 20.80h2v28.15h-2zM1242 20.80h1v28.15h-1z" fill="#c6adff" shape-rendering="crispEdges"/>
<path d="M1010 20.80h1v28.15h-1zM1011 20.80h2v28.15h-2zM1049 20.80h1v28.15h-1zM1082 20.80h1v28.15h-1zM1164 20.80h1v28.15h-1z" fill="#ff5300" shape-rendering="crispEdges"/>
<path d="M1060 20.80h1v28.15h-1zM1102 20.80h2v28.15h-2z" fill="#ff2700" shape-rendering="crispEdges"/>
<path d="M1064 20.80h1v28.15h-1zM1076 20.80h2v28.15h-2zM1092 20.80h2v28.15h-2zM1126 20.80h2v28.15h-2zM1133 20.80h1v28.15h-1zM1137 20.80h2v28.15h-2z" fill="#ff7900" shape-rendering="crispEdges"/>
<path d="M1066 20.80h1v28.15h-1zM1256 20.80h1v28.15h-1z" fill="#b898ff" shape-rendering="crispEdges"/>
<path d="M1072 20.80h1v28.15h-1zM1074 20.80h1v28.15h-1zM1195 20.80h3v28.15h-3zM1213 20.80h3v28.15h-3z" fill="#ffd800" shape-rendering="crispEdges"/>
<path d="M1075 20.80h1v28.15h-1zM1111 20.80h1v28.15h-1zM1114 20.80h1v28.15h-1zM1160 20.80h1v28.15h-1zM1161 20.80h3v28.15h-3z" fill="#ff8a00" shape-rendering="crispEdges"/>
<path d="M1094 20.80h2v28.15h-2zM1149 20.80h1v28.15h-1zM1225 20.80h3v28.15h-3z" fill="#a884ff" shape-rendering="crispEdges"/>
<path d="M1188 20.80h2v28.15h-2zM1254 20.80h1v28.15h-1z" fill="#623dff" shape-rendering="crispEdges"/>
<path d="M1193 20.80h2v28.15h-2zM1245 20.80h2v28.15h-2z" fill="#7a4eff" shape-rendering="crispEdges"/>
<path d="M1218 20.80h1v28.15h-1zM1219 20.80h2v28.15h-2zM1236 20.80h1v28.15h-1z" fill="#d5c2ff" shape-rendering="crispEdges"/>
<path d="M1221 20.80h1v28.15h-1z" fill="#8e65ff" shape-rendering="crispEdges"/>
<path d="M1222 20.80h3v28.15h-3zM1243 20.80h2v28.15h-2z" fill="#9871ff" shape-rendering="crispEdges"/>
<path d="M1229 20.80h1v28.15h-1z" fill="#845aff" shape-rendering="crispEdges"/>
<path d="M953 48.95h2v28.15h-2zM956 48.95h1v28.15h-1zM958 48.95h1v28.15h-1zM959 48.95h1v28.15h-1zM960 48.95h1v28.15h-1zM961 48.95h2v28.15h-2zM963 48.95h1v28.15h-1zM964 48.95h2v28.15h-2zM969 48.95h2v28.15h-2zM971 48.95h1v28.15h-1zM975 48.95h1v28.15h-1zM980 48.95h1v28.15h-1zM981 48.95h2v28.15h-2zM983 48.95h2v28.15h-2zM987 48.95h1v28.15h-1zM996 48.95h1v28.15h-1zM1028 48.95h1v28.15h-1zM1031 48.95h1v28.15h-1zM1036 48.95h2v28.15h-2zM1038 48.95h1v28.15h-1zM1043 48.95h1v28.15h-1zM1048 48.95h1v28.15h-1zM1053 48.95h1v28.15h-1zM1056 48.95h1v28.15h-1zM1064 48.95h2v28.15h-2zM1124 48.95h1v28.15h-1zM1158 48.95h1v28.15h-1z" fill="#0804ff" shape-rendering="crispEdges"/>
<path d="M955 48.95h1v28.15h-1zM967 48.95h2v28.15h-2zM978 48.95h1v28.15h-1zM994 48.95h2v28.15h-2zM1011 48.95h1v28.15h-1zM1069 48.95h1v28.15h-1zM1080 48.95h1v28.15h-1zM1085 48.95h1v28.15h-1zM1089 48.95h2v28.15h-2zM1092 48.95h2v28.15h-2zM1096 48.95h1v28.15h-1zM1102 48.95h1v28.15h-1zM1106 48.95h3v28.15h-3zM1109 48.95h1v28.15h-1zM1113 48.95h1v28.15h-1zM1129 48.95h2v28.15h-2zM1148 48.95h1v28.15h-1zM1179 48.95h2v28.15h-2zM1193 48.95h2v28.15h-2zM1197 48.95h1v28.15h-1zM1200 48.95h1v28.15h-1zM1220 48.95h1v28.15h-1zM1246 48.95h1v28.15h-1z" fill="#ffffff" shape-rendering="crispEdges"/>
<path d="M957 48.95h1v28.15h-1zM1024 48.95h2v28.15h-2zM1084 48.95h1v28.15h-1zM1122 48.95h2v28.15h-2zM1142 48.95h1v28.15h-1zM1174 48.95h1v28.15h-1z" fill="#845aff" shape-rendering="crispEdges"/>
<path d="M966 48.95h1v28.15h-1zM1004 48.95h1v28.15h-1zM1010 48.95h1v28.15h-1zM1023 48.95h1v28.15h-1zM1067 48.95h1v28.15h-1zM1081 48.95h1v28.15h-1zM1131 48.95h3v28.15h-3z" fill="#3820ff" shape-rendering="crispEdges"/>
<path d="M972 48.95h2v28.15h-2zM974 48.95h1v28.15h-1zM977 48.95h1v28.15h-1zM1000 48.95h1v28.15h-1zM1005 48.95h1v28.15h-1zM1059 48.95h1v28.15h-1zM1074 48.95h3v28.15h-3zM1095 48.95h1v28.15h-1zM1099 48.95h2v28.15h-2zM1230 48.95h1v28.15h-1z" fill="#4428ff" shape-rendering="crispEdges"/>
<path d="M976 48.95h1v28.15h-1zM1105 48.95h1v28.15h-1zM1162 48.95h3v28.15h-3zM1204 48.95h1v28.15h-1z" fill="#623dff" shape-rendering="crispEdges"/>
<path d="M979 48.95h1v28.15h-1zM1001 48.95h1v28.15h-1zM1006 48.95h2v28.15h-2zM1012 48.95h1v28.15h-1zM1062 48.95h2v28.15h-2zM1079 48.95h1v28.15h-1zM1088 48.95h1v28.15h-1zM1110 48.95h3v28.15h-3zM1155 48.95h1v28.15h-1zM1169 48.95h1v28.15h-1zM1170 48.95h1v28.15h-1zM1188 48.95h2v28.15h-2z" fill="#3e24ff" shape-rendering="crispEdges"/>
<path d="M985 48.95h2v28.15h-2zM1041 48.95h2v28.15h-2zM1114 48.95h3v28.15h-3zM1117 48.95h1v28.15h-1zM1147 48.95h1v28.15h-1zM1157 48.95h1v28.15h-1zM1166 48.95h2v28.15h-2zM1219 48.95h1v28.15h-1zM1237 48.95h2v28.15h-2zM1239 48.95h1v28.15h-1zM1240 48.95h1v28.15h-1zM1243 48.95h3v28.15h-3z" fill="#ffff26" shape-rendering="crispEdges"/>
<path d="M988 48.95h1v28.15h-1zM1021 48.95h2v28.15h-2zM1034 48.95h1v28.15h-1zM1050 48.95h1v28.15h-1zM1125 48.95h1v28.15h-1zM1134 48.95h2v28.15h-2zM1154 48.95h1v28.15h-1zM1156 48.95h1v28.15h-1zM1160 48.95h1v28.15h-1zM1165 48.95h1v28.15h-1zM1171 48.95h1v28.15h-1zM1177 48.95h1v28.15h-1zM1209 48.95h1v28.15h-1zM1210 48.95h3v28.15h-3zM1213 48.95h2v28.15h-2zM1215 48.95h1v28.15h-1zM1216 48.95h2v28.15h-2zM1218 48.95h1v28.15h-1zM1224 48.95h2v28.15h-2zM1228 48.95h2v28.15h-2zM1247 48.95h2v28.15h-2zM1250 48.95h3v28.15h-3zM1256 48.95h1v28.15h-1zM1257 48.95h1v28.15h-1z" fill="#ffff00" shape-rendering="crispEdges"/>
<path d="M989 48.95h1v28.15h-1zM1029 48.95h2v28.15h-2z" fill="#ffd000" shape-rendering="crispEdges"/>
<path d="M990 48.95h2v28.15h-2zM1018 48.95h1v28.15h-1zM1097 48.95h2v28.15h-2zM1173 48.95h1v28.15h-1zM1201 48.95h1v28.15h-1zM1234 48.95h1v28.15h-1zM1249 48.95h1v28.15h-1z" fill="#7a4eff" shape-rendering="crispEdges"/>
<path d="M992 48.95h2v28.15h-2zM1032 48.95h2v28.15h-2zM1057 48.95h2v28.15h-2zM1094 48.95h1v28.15h-1zM1101 48.95h1v28.15h-1zM1118 48.95h2v28.15h-2zM1120 48.95h2v28.15h-2zM1172 48.95h1v28.15h-1zM1175 48.95h2v28.15h-2zM1185 48.95h3v28.15h-3zM1191 48.95h1v28.15h-1zM1231 48.95h2v28.15h-2zM1233 48.95h1v28.15h-1zM1235 48.95h2v28.15h-2zM1241 48.95h1v28.15h-1zM1254 48.95h2v28.15h-2z" fill="#fff400" shape-rendering="crispEdges"/>
<path d="M997 48.95h2v28.15h-2zM1002 48.95h1v28.15h-1zM1070 48.95h2v28.15h-2zM1091 48.95h1v28.15h-1zM1143 48.95h2v28.15h-2zM1152 48.95h1v28.15h-1zM1178 48.95h1v28.15h-1z" fill="#6e46ff" shape-rendering="crispEdges"/>
<path d="M999 48.95h1v28.15h-1zM1019 48.95h1v28.15h-1zM1051 48.95h2v28.15h-2z" fill="#d5c2ff" shape-rendering="crispEdges"/>
<path d="M1003 48.95h1v28.15h-1zM1190 48.95h1v28.15h-1z" fill="#c6adff" shape-rendering="crispEdges"/>
<path d="M1008 48.95h2v28.15h-2zM1016 48.95h2v28.15h-2zM1205 48.95h2v28.15h-2z" fill="#8e65ff" shape-rendering="crispEdges"/>
<path d="M1013 48.95h3v28.15h-3zM1035 48.95h1v28.15h-1zM1039 48.95h1v28.15h-1zM1060 48.95h1v28.15h-1zM1072 48.95h2v28.15h-2zM1078 48.95h1v28.15h-1zM1086 48.95h2v28.15h-2zM1103 48.95h2v28.15h-2zM1136 48.95h2v28.15h-2zM1242 48.95h1v28.15h-1z" fill="#321dff" shape-rendering="crispEdges"/>
<path d="M1020 48.95h1v28.15h-1zM1046 48.95h2v28.15h-2zM1077 48.95h1v28.15h-1zM1161 48.95h1v28.15h-1zM1196 48.95h1v28.15h-1zM1198 48.95h2v28.15h-2zM1207 48.95h2v28.15h-2z" fill="#4a2cff" shape-rendering="crispEdges"/>
<path d="M1026 48.95h2v28.15h-2zM1140 48.95h1v28.15h-1z" fill="#ffe700" shape-rendering="crispEdges"/>
<path d="M1040 48.95h1v28.15h-1zM1049 48.95h1v28.15h-1zM1066 48.95h1v28.15h-1z" fill="#ffd800" shape-rendering="crispEdges"/>
<path d="M1044 48.95h2v28.15h-2z" fill="#ffdf00" shape-rendering="crispEdges"/>
<path d="M1054 48.95h2v28.15h-2zM1061 48.95h1v28.15h-1zM1138 48.95h2v28.15h-2zM1159 48.95h1v28.15h-1zM1168 48.95h1v28.15h-1zM1181 48.95h2v28.15h-2zM1183 48.95h2v28.15h-2zM1221 48.95h3v28.15h-3zM1226 48.95h2v28.15h-2zM1253 48.95h1v28.15h-1z" fill="#fffa00" shape-rendering="crispEdges"/>
<path d="M1068 48.95h1v28.15h-1zM1126 48.95h3v28.15h-3zM1149 48.95h3v28.15h-3z" fill="#b898ff" shape-rendering="crispEdges"/>
<path d="M1082 48.95h2v28.15h-2zM1141 48.95h1v28.15h-1zM1192 48.95h1v28.15h-1zM1202 48.95h1v28.15h-1z" fill="#9871ff" shape-rendering="crispEdges"/>
<path d="M1145 48.95h2v28.15h-2z" fill="#ffffa0" shape-rendering="crispEdges"/>
<path d="M1153 48.95h1v28.15h-1zM1195 48.95h1v28.15h-1zM1203 48.95h1v28.15h-1z" fill="#a884ff" shape-rendering="crispEdges"/>
<path d="M953 77.10h1v28.15h-1zM964 77.10h1v28.15h-1zM978 77.10h2v28.15h-2zM989 77.10h3v28.15h-3zM1142 77.10h2v28.15h-2z" fill="#3e24ff" shape-rendering="crispEdges"/>
<path d="M954 77.10h1v28.15h-1zM976 77.10h1v28.15h-1zM985 77.10h2v28.15h-2zM1056 77.10h1v28.15h-1zM1063 77.10h1v28.15h-1z" fill="#6e46ff" shape-rendering="crispEdges"/>
<path d="M955 77.10h1v28.15h-1zM956 77.10h2v28.15h-2zM965 77.10h3v28.15h-3zM969 77.10h1v28.15h-1zM970 77.10h1v28.15h-1zM971 77.10h2v28.15h-2zM977 77.10h1v28.15h-1zM980 77.10h1v28.15h-1zM982 77.10h1v28.15h-1zM995 77.10h1v28.15h-1zM1000 77.10h1v28.15h-1zM1022 77.10h2v28.15h-2zM1054 77.10h1v28.15h-1zM1057 77.10h1v28.15h-1zM1064 77.10h1v28.15h-1z" fill="#0804ff" shape-rendering="crispEdges"/>
<path d="M958 77.10h1v28.15h-1zM1074 77.10h3v28.15h-3zM1114 77.10h2v28.15h-2zM1135 77.10h1v28.15h-1zM1186 77.10h1v28.15h-1zM1191 77.10h1v28.15h-1zM1199 77.10h1v28.15h-1zM1233 77.10h2v28.15h-2z" fill="#c6adff" shape-rendering="crispEdges"/>
<path d="M959 77.10h2v28.15h-2zM983 77.10h2v28.15h-2zM1006 77.10h1v28.15h-1zM1007 77.10h1v28.15h-1zM1027 77.10h2v28.15h-2zM1066 77.10h1v28.15h-1z" fill="#321dff" shape-rendering="crispEdges"/>
<path d="M961 77.10h1v28.15h-1zM987 77.10h2v28.15h-2zM1011 77.10h1v28.15h-1zM1013 77.10h2v28.15h-2zM1015 77.10h2v28.15h-2zM1046 77.10h1v28.15h-1zM1048 77.10h3v28.15h-3zM1055 77.10h1v28.15h-1zM1094 77.10h1v28.15h-1zM1098 77.10h1v28.15h-1zM1118 77.10h2v28.15h-2zM1121 77.10h1v28.15h-1zM1122 77.10h1v28.15h-1zM1123 77.10h1v28.15h-1zM1131 77.10h1v28.15h-1zM1154 77.10h2v28.15h-2zM1166 77.10h1v28.15h-1zM1171 77.10h2v28.15h-2zM1173 77.10h3v28.15h-3zM1177 77.10h1v28.15h-1zM1180 77.10h2v28.15h-2zM1182 77.10h1v28.15h-1zM1188 77.10h2v28.15h-2zM1190 77.10h1v28.15h-1zM1204 77.10h1v28.15h-1z" fill="#ffffff" shape-rendering="crispEdges"/>
<path d="M962 77.10h2v28.15h-2zM999 77.10h1v28.15h-1zM1019 77.10h2v28.15h-2zM1030 77.10h1v28.15h-1zM1067 77.10h1v28.15h-1zM1068 77.10h2v28.15h-2zM1072 77.10h2v28.15h-2zM1206 77.10h2v28.15h-2z" fill="#7a4eff" shape-rendering="crispEdges"/>
<path d="M968 77.10h1v28.15h-1zM1187 77.10h1v28.15h-1zM1255 77.10h1v28.15h-1z" fill="#845aff" shape-rendering="crispEdges"/>
<path d="M973 77.10h3v28.15h-3zM1103 77.10h1v28.15h-1zM1208 77.10h1v28.15h-1z" fill="#b898ff" shape-rendering="crispEdges"/>
<path d="M981 77.10h1v28.15h-1zM1029 77.10h1v28.15h-1zM1077 77.10h1v28.15h-1zM1078 77.10h1v28.15h-1zM1079 77.10h2v28.15h-2zM1087 77.10h1v28.15h-1z" fill="#623dff" shape-rendering="crispEdges"/>
<path d="M992 77.10h3v28.15h-3zM1017 77.10h2v28.15h-2zM1051 77.10h3v28.15h-3zM1104 77.10h2v28.15h-2zM1106 77.10h2v28.15h-2zM1116 77.10h2v28.15h-2zM1151 77.10h2v28.15h-2zM1157 77.10h1v28.15h-1zM1158 77.10h2v28.15h-2zM1170 77.10h1v28.15h-1zM1179 77.10h1v28.15h-1zM1200 77.10h2v28.15h-2zM1205 77.10h1v28.15h-1zM1215 77.10h1v28.15h-1zM1224 77.10h2v28.15h-2zM1226 77.10h1v28.15h-1zM1232 77.10h1v28.15h-1zM1239 77.10h2v28.15h-2zM1241 77.10h2v28.15h-2zM1257 77.10h1v28.15h-1z" fill="#ffff00" shape-rendering="crispEdges"/>
<path d="M996 77.10h1v28.15h-1zM1026 77.10h1v28.15h-1zM1032 77.10h2v28.15h-2zM1058 77.10h1v28.15h-1zM1059 77.10h1v28.15h-1zM1092 77.10h1v28.15h-1zM1110 77.10h3v28.15h-3zM1113 77.10h1v28.15h-1zM1120 77.10h1v28.15h-1zM1138 77.10h2v28.15h-2zM1148 77.10h3v28.15h-3zM1153 77.10h1v28.15h-1zM1156 77.10h1v28.15h-1zM1163 77.10h2v28.15h-2zM1196 77.10h1v28.15h-1zM1198 77.10h1v28.15h-1zM1218 77.10h1v28.15h-1zM1223 77.10h1v28.15h-1zM1236 77.10h2v28.15h-2zM1251 77.10h1v28.15h-1z" fill="#ffffa0" shape-rendering="crispEdges"/>
<path d="M997 77.10h2v28.15h-2zM1008 77.10h2v28.15h-2zM1012 77.10h1v28.15h-1zM1037 77.10h1v28.15h-1zM1084 77.10h2v28.15h-2z" fill="#3820ff" shape-rendering="crispEdges"/>
<path d="M1001 77.10h2v28.15h-2zM1003 77.10h3v28.15h-3zM1021 77.10h1v28.15h-1zM1024 77.10h2v28.15h-2zM1045 77.10h1v28.15h-1zM1047 77.10h1v28.15h-1zM1062 77.10h1v28.15h-1zM1147 77.10h1v28.15h-1zM1160 77.10h1v28.15h-1zM1178 77.10h1v28.15h-1zM1192 77.10h2v28.15h-2zM1209 77.10h1v28.15h-1zM1213 77.10h1v28.15h-1zM1245 77.10h1v28.15h-1zM1249 77.10h2v28.15h-2zM1254 77.10h1v28.15h-1z" fill="#fff400" shape-rendering="crispEdges"/>
<path d="M1010 77.10h1v28.15h-1zM1095 77.10h1v28.15h-1zM1096 77.10h2v28.15h-2zM1099 77.10h2v28.15h-2zM1101 77.10h2v28.15h-2zM1129 77.10h1v28.15h-1zM1130 77.10h1v28.15h-1zM1144 77.10h3v28.15h-3zM1167 77.10h2v28.15h-2zM1176 77.10h1v28.15h-1zM1216 77.10h2v28.15h-2zM1227 77.10h3v28.15h-3zM1238 77.10h1v28.15h-1zM1243 77.10h2v28.15h-2zM1252 77.10h1v28.15h-1z" fill="#ffff26" shape-rendering="crispEdges"/>
<path d="M1031 77.10h1v28.15h-1zM1040 77.10h3v28.15h-3zM1061 77.10h1v28.15h-1zM1090 77.10h2v28.15h-2zM1108 77.10h2v28.15h-2z" fill="#8e65ff" shape-rendering="crispEdges"/>
<path d="M1034 77.10h2v28.15h-2zM1038 77.10h1v28.15h-1zM1039 77.10h1v28.15h-1zM1065 77.10h1v28.15h-1zM1127 77.10h1v28.15h-1zM1132 77.10h1v28.15h-1zM1140 77.10h2v28.15h-2zM1165 77.10h1v28.15h-1zM1210 77.10h3v28.15h-3zM1219 77.10h1v28.15h-1zM1230 77.10h2v28.15h-2zM1235 77.10h1v28.15h-1zM1246 77.10h3v28.15h-3zM1253 77.10h1v28.15h-1zM1256 77.10h1v28.15h-1z" fill="#fffa00" shape-rendering="crispEdges"/>
<path d="M1036 77.10h1v28.15h-1zM1060 77.10h1v28.15h-1z" fill="#4a2cff" shape-rendering="crispEdges"/>
<path d="M1043 77.10h2v28.15h-2zM1071 77.10h1v28.15h-1zM1197 77.10h1v28.15h-1zM1214 77.10h1v28.15h-1z" fill="#d5c2ff" shape-rendering="crispEdges"/>
<path d="M1070 77.10h1v28.15h-1zM1086 77.10h1v28.15h-1zM1133 77.10h2v28.15h-2zM1183 77.10h3v28.15h-3z" fill="#9871ff" shape-rendering="crispEdges"/>
<path d="M1081 77.10h3v28.15h-3zM1088 77.10h2v28.15h-2zM1093 77.10h1v28.15h-1zM1124 77.10h3v28.15h-3zM1128 77.10h1v28.15h-1zM1169 77.10h1v28.15h-1zM1194 77.10h2v28.15h-2zM1202 77.10h2v28.15h-2zM1220 77.10h3v28.15h-3z" fill="#a884ff" shape-rendering="crispEdges"/>
<path d="M1136 77.10h2v28.15h-2zM1161 77.10h2v28.15h-2z" fill="#4428ff" shape-rendering="crispEdges"/>
<path d="M953 105.25h1v28.15h-1zM955 105.25h1v28.15h-1zM1032 105.25h2v28.15h-2zM1040 105.25h2v28.15h-2zM1056 105.25h2v28.15h-2zM1092 105.25h1v28.15h-1zM1120 105.25h1v28.15h-1zM1123 105.25h2v28.15h-2zM1160 105.25h1v28.15h-1zM1164 105.25h1v28.15h-1zM1194 105.25h1v28.15h-1zM1214 105.25h3v28.15h-3z" fill="#4428ff" shape-rendering="crispEdges"/>
<path d="M954 105.25h1v28.15h-1zM1015 105.25h2v28.15h-2zM1026 105.25h2v28.15h-2zM1060 105.25h2v28.15h-2zM1190 105.25h1v28.15h-1zM1248 105.25h1v28.15h-1z" fill="#7a4eff" shape-rendering="crispEdges"/>
<path d="M956 105.25h2v28.15h-2zM962 105.25h1v28.15h-1zM988 105.25h1v28.15h-1zM1008 105.25h1v28.15h-1zM1047 105.25h1v28.15h-1zM1068 105.25h2v28.15h-2zM1075 105.25h1v28.15h-1zM1076 105.25h1v28.15h-1zM1085 105.25h1v28.15h-1zM1121 105.25h1v28.15h-1zM1122 105.25h1v28.15h-1zM1136 105.25h1v28.15h-1zM1156 105.25h1v28.15h-1zM1184 105.25h1v28.15h-1zM1197 105.25h1v28.15h-1zM1223 105.25h2v28.15h-2zM1242 105.25h1v28.15h-1z" fill="#3e24ff" shape-rendering="crispEdges"/>
<path d="M958 105.25h2v28.15h-2zM1031 105.25h1v28.15h-1zM1039 105.25h1v28.15h-1zM1067 105.25h1v28.15h-1zM1072 105.25h2v28.15h-2zM1077 105.25h2v28.15h-2zM1083 105.25h2v28.15h-2zM1111 105.25h1v28.15h-1zM1141 105.25h2v28.15h-2zM1145 105.25h1v28.15h-1zM1174 105.25h1v28.15h-1zM1180 105.25h1v28.15h-1z" fill="#3820ff" shape-rendering="crispEdges"/>
<path d="M960 105.25h2v28.15h-2zM1012 105.25h1v28.15h-1z" fill="#fffa00" shape-rendering="crispEdges"/>
<path d="M963 105.25h1v28.15h-1zM965 105.25h2v28.15h-2zM970 105.25h2v28.15h-2zM983 105.25h1v28.15h-1zM1013 105.25h1v28.15h-1zM1017 105.25h1v28.15h-1zM1103 105.25h3v28.15h-3zM1133 105.25h1v28.15h-1zM1249 105.25h1v28.15h-1z" fill="#623dff" shape-rendering="crispEdges"/>
<path d="M964 105.25h1v28.15h-1zM989 105.25h1v28.15h-1zM990 105.25h1v28.15h-1zM1055 105.25h1v28.15h-1zM1065 105.25h2v28.15h-2zM1163 105.25h1v28.15h-1zM1201 105.25h2v28.15h-2zM1238 105.25h2v28.15h-2zM1245 105.25h1v28.15h-1zM1246 105.25h1v28.15h-1z" fill="#4a2cff" shape-rendering="crispEdges"/>
<path d="M967 105.25h2v28.15h-2zM1086 105.25h1v28.15h-1zM1098 105.25h1v28.15h-1zM1101 105.25h2v28.15h-2zM1193 105.25h1v28.15h-1zM1198 105.25h2v28.15h-2zM1210 105.25h2v28.15h-2zM1221 105.25h1v28.15h-1zM1257 105.25h1v28.15h-1z" fill="#321dff" shape-rendering="crispEdges"/>
<path d="M969 105.25h1v28.15h-1zM974 105.25h3v28.15h-3zM980 105.25h1v28.15h-1zM995 105.25h2v28.15h-2zM1001 105.25h1v28.15h-1zM1002 105.25h2v28.15h-2zM1005 105.25h1v28.15h-1zM1009 105.25h3v28.15h-3zM1018 105.25h1v28.15h-1zM1019 105.25h3v28.15h-3zM1022 105.25h1v28.15h-1zM1023 105.25h3v28.15h-3zM1035 105.25h1v28.15h-1zM1045 105.25h2v28.15h-2zM1048 105.25h2v28.15h-2zM1050 105.25h1v28.15h-1zM1052 105.25h1v28.15h-1zM1070 105.25h2v28.15h-2zM1074 105.25h1v28.15h-1zM1079 105.25h1v28.15h-1zM1080 105.25h2v28.15h-2zM1082 105.25h1v28.15h-1zM1087 105.25h1v28.15h-1zM1088 105.25h3v28.15h-3zM1091 105.25h1v28.15h-1zM1097 105.25h1v28.15h-1zM1099 105.25h1v28.15h-1zM1106 105.25h1v28.15h-1zM1107 105.25h3v28.15h-3zM1113 105.25h1v28.15h-1zM1118 105.25h1v28.15h-1zM1128 105.25h1v28.15h-1zM1129 105.25h1v28.15h-1zM1139 105.25h1v28.15h-1zM1140 105.25h1v28.15h-1zM1146 105.25h1v28.15h-1zM1151 105.25h2v28.15h-2zM1157 105.25h1v28.15h-1zM1161 105.25h1v28.15h-1zM1162 105.25h1v28.15h-1zM1166 105.25h1v28.15h-1zM1167 105.25h2v28.15h-2zM1169 105.25h2v28.15h-2zM1171 105.25h3v28.15h-3zM1175 105.25h1v28.15h-1zM1179 105.25h1v28.15h-1zM1181 105.25h1v28.15h-1zM1182 105.25h2v28.15h-2zM1185 105.25h1v28.15h-1zM1186 105.25h2v28.15h-2zM1191 105.25h1v28.15h-1zM1192 105.25h1v28.15h-1zM1195 105.25h2v28.15h-2zM1203 105.25h2v28.15h-2zM1206 105.25h3v28.15h-3zM1209 105.25h1v28.15h-1zM1212 105.25h1v28.15h-1zM1213 105.25h1v28.15h-1zM1217 105.25h2v28.15h-2zM1219 105.25h2v28.15h-2zM1222 105.25h1v28.15h-1zM1225 105.25h1v28.15h-1zM1228 105.25h3v28.15h-3zM1231 105.25h1v28.15h-1zM1232 105.25h3v28.15h-3zM1235 105.25h2v28.15h-2zM1240 105.25h2v28.15h-2zM1243 105.25h2v28.15h-2zM1247 105.25h1v28.15h-1zM1250 105.25h1v28.15h-1zM1251 105.25h1v28.15h-1zM1252 105.25h2v28.15h-2zM1254 105.25h1v28.15h-1z" fill="#0804ff" shape-rendering="crispEdges"/>
<path d="M972 105.25h2v28.15h-2zM1028 105.25h1v28.15h-1zM1110 105.25h1v28.15h-1zM1158 105.25h1v28.15h-1z" fill="#fff400" shape-rendering="crispEdges"/>
<path d="M977 105.25h3v28.15h-3zM984 105.25h1v28.15h-1zM1114 105.25h1v28.15h-1zM1115 105.25h2v28.15h-2zM1153 105.25h2v28.15h-2z" fill="#ffff26" shape-rendering="crispEdges"/>
<path d="M981 105.25h2v28.15h-2zM997 105.25h2v28.15h-2zM1029 105.25h2v28.15h-2zM1042 105.25h3v28.15h-3zM1119 105.25h1v28.15h-1zM1126 105.25h2v28.15h-2zM1138 105.25h1v28.15h-1zM1177 105.25h2v28.15h-2zM1205 105.25h1v28.15h-1z" fill="#6e46ff" shape-rendering="crispEdges"/>
<path d="M985 105.25h1v28.15h-1zM987 105.25h1v28.15h-1zM1007 105.25h1v28.15h-1zM1037 105.25h1v28.15h-1zM1096 105.25h1v28.15h-1zM1100 105.25h1v28.15h-1zM1130 105.25h3v28.15h-3zM1134 105.25h2v28.15h-2zM1143 105.25h2v28.15h-2zM1147 105.25h3v28.15h-3z" fill="#ffffff" shape-rendering="crispEdges"/>
<path d="M986 105.25h1v28.15h-1zM1034 105.25h1v28.15h-1zM1038 105.25h1v28.15h-1zM1051 105.25h1v28.15h-1zM1165 105.25h1v28.15h-1zM1176 105.25h1v28.15h-1z" fill="#d5c2ff" shape-rendering="crispEdges"/>
<path d="M991 105.25h1v28.15h-1zM1117 105.25h1v28.15h-1zM1137 105.25h1v28.15h-1zM1255 105.25h2v28.15h-2z" fill="#c6adff" shape-rendering="crispEdges"/>
<path d="M992 105.25h3v28.15h-3zM1004 105.25h1v28.15h-1zM1014 105.25h1v28.15h-1zM1053 105.25h2v28.15h-2zM1059 105.25h1v28.15h-1zM1062 105.25h3v28.15h-3zM1188 105.25h2v28.15h-2zM1200 105.25h1v28.15h-1zM1237 105.25h1v28.15h-1z" fill="#845aff" shape-rendering="crispEdges"/>
<path d="M999 105.25h2v28.15h-2zM1036 105.25h1v28.15h-1zM1226 105.25h2v28.15h-2z" fill="#8e65ff" shape-rendering="crispEdges"/>
<path d="M1006 105.25h1v28.15h-1zM1155 105.25h1v28.15h-1z" fill="#ffe700" shape-rendering="crispEdges"/>
<path d="M1058 105.25h1v28.15h-1zM1093 105.25h3v28.15h-3z" fill="#a884ff" shape-rendering="crispEdges"/>
<path d="M1112 105.25h1v28.15h-1z" fill="#ffff00" shape-rendering="crispEdges"/>
<path d="M1125 105.25h1v28.15h-1z" fill="#9871ff" shape-rendering="crispEdges"/>
<path d="M1150 105.25h1v28.15h-1z" fill="#b898ff" shape-rendering="crispEdges"/>
<path d="M1159 105.25h1v28.15h-1z" fill="#ffdf00" shape-rendering="crispEdges"/>
<path d="M953 133.40h1v28.15h-1zM1035 133.40h3v28.15h-3zM1150 133.40h3v28.15h-3z" fill="#fffa00" shape-rendering="crispEdges"/>
<path d="M954 133.40h3v28.15h-3zM1013 133.40h1v28.15h-1zM1027 133.40h2v28.15h-2zM1030 133.40h1v28.15h-1zM1052 133.40h1v28.15h-1zM1057 133.40h2v28.15h-2zM1059 133.40h3v28.15h-3zM1079 133.40h1v28.15h-1zM1085 133.40h3v28.15h-3zM1092 133.40h1v28.15h-1zM1116 133.40h2v28.15h-2zM1143 133.40h2v28.15h-2zM1153 133.40h2v28.15h-2zM1190 133.40h3v28.15h-3zM1195 133.40h2v28.15h-2zM1217 133.40h1v28.15h-1zM1256 133.40h2v28.15h-2z" fill="#4a2cff" shape-rendering="crispEdges"/>
<path d="M957 133.40h1v28.15h-1zM972 133.40h1v28.15h-1zM993 133.40h1v28.15h-1zM1018 133.40h2v28.15h-2zM1071 133.40h3v28.15h-3zM1148 133.40h2v28.15h-2zM1174 133.40h1v28.15h-1z" fill="#7a4eff" shape-rendering="crispEdges"/>
<path d="M958 133.40h1v28.15h-1zM976 133.40h2v28.15h-2zM1015 133.40h3v28.15h-3zM1043 133.40h2v28.15h-2zM1047 133.40h3v28.15h-3z" fill="#845aff" shape-rendering="crispEdges"/>
<path d="M959 133.40h1v28.15h-1zM1127 133.40h1v28.15h-1z" fill="#ffd800" shape-rendering="crispEdges"/>
<path d="M960 133.40h1v28.15h-1zM969 133.40h3v28.15h-3zM982 133.40h1v28.15h-1zM989 133.40h2v28.15h-2zM998 133.40h1v28.15h-1zM1007 133.40h2v28.15h-2zM1026 133.40h1v28.15h-1zM1102 133.40h1v28.15h-1zM1126 133.40h1v28.15h-1zM1137 133.40h1v28.15h-1zM1139 133.40h1v28.15h-1zM1140 133.40h2v28.15h-2zM1142 133.40h1v28.15h-1zM1188 133.40h2v28.15h-2zM1199 133.40h3v28.15h-3zM1218 133.40h1v28.15h-1zM1227 133.40h2v28.15h-2zM1232 133.40h1v28.15h-1zM1233 133.40h1v28.15h-1zM1235 133.40h2v28.15h-2zM1246 133.40h3v28.15h-3z" fill="#3820ff" shape-rendering="crispEdges"/>
<path d="M961 133.40h1v28.15h-1zM966 133.40h2v28.15h-2zM985 133.40h2v28.15h-2zM987 133.40h1v28.15h-1zM991 133.40h1v28.15h-1zM992 133.40h1v28.15h-1zM1005 133.40h2v28.15h-2zM1023 133.40h1v28.15h-1zM1029 133.40h1v28.15h-1zM1034 133.40h1v28.15h-1zM1051 133.40h1v28.15h-1zM1053 133.40h3v28.15h-3zM1062 133.40h1v28.15h-1zM1070 133.40h1v28.15h-1zM1077 133.40h2v28.15h-2zM1093 133.40h1v28.15h-1zM1094 133.40h1v28.15h-1zM1101 133.40h1v28.15h-1zM1104 133.40h3v28.15h-3zM1108 133.40h1v28.15h-1zM1111 133.40h2v28.15h-2zM1115 133.40h1v28.15h-1zM1119 133.40h1v28.15h-1zM1123 133.40h2v28.15h-2zM1125 133.40h1v28.15h-1zM1133 133.40h2v28.15h-2zM1146 133.40h2v28.15h-2zM1155 133.40h2v28.15h-2zM1163 133.40h1v28.15h-1zM1164 133.40h1v28.15h-1zM1166 133.40h1v28.15h-1zM1167 133.40h1v28.15h-1zM1168 133.40h1v28.15h-1zM1173 133.40h1v28.15h-1zM1175 133.40h2v28.15h-2zM1184 133.40h2v28.15h-2zM1202 133.40h1v28.15h-1zM1203 133.40h1v28.15h-1zM1209 133.40h2v28.15h-2zM1215 133.40h2v28.15h-2zM1220 133.40h1v28.15h-1zM1226 133.40h1v28.15h-1zM1229 133.40h1v28.15h-1zM1230 133.40h2v28.15h-2zM1240 133.40h1v28.15h-1zM1249 133.40h2v28.15h-2z" fill="#0804ff" shape-rendering="crispEdges"/>
<path d="M962 133.40h2v28.15h-2zM1009 133.40h2v28.15h-2zM1032 133.40h2v28.15h-2zM1074 133.40h3v28.15h-3z" fill="#ffff26" shape-rendering="crispEdges"/>
<path d="M964 133.40h2v28.15h-2zM975 133.40h1v28.15h-1zM1083 133.40h1v28.15h-1zM1090 133.40h2v28.15h-2zM1162 133.40h1v28.15h-1zM1171 133.40h2v28.15h-2zM1221 133.40h1v28.15h-1z" fill="#6e46ff" shape-rendering="crispEdges"/>
<path d="M968 133.40h1v28.15h-1zM1056 133.40h1v28.15h-1zM1118 133.40h1v28.15h-1z" fill="#fff400" shape-rendering="crispEdges"/>
<path d="M973 133.40h2v28.15h-2zM983 133.40h2v28.15h-2zM994 133.40h2v28.15h-2zM1001 133.40h1v28.15h-1zM1011 133.40h2v28.15h-2zM1038 133.40h2v28.15h-2zM1050 133.40h1v28.15h-1zM1065 133.40h1v28.15h-1zM1066 133.40h1v28.15h-1zM1084 133.40h1v28.15h-1zM1100 133.40h1v28.15h-1zM1120 133.40h2v28.15h-2zM1160 133.40h1v28.15h-1zM1198 133.40h1v28.15h-1zM1219 133.40h1v28.15h-1z" fill="#8e65ff" shape-rendering="crispEdges"/>
<path d="M978 133.40h2v28.15h-2zM1020 133.40h1v28.15h-1zM1021 133.40h2v28.15h-2zM1095 133.40h2v28.15h-2zM1107 133.40h1v28.15h-1zM1122 133.40h1v28.15h-1zM1130 133.40h1v28.15h-1zM1145 133.40h1v28.15h-1zM1161 133.40h1v28.15h-1zM1169 133.40h2v28.15h-2zM1177 133.40h2v28.15h-2zM1205 133.40h2v28.15h-2zM1213 133.40h2v28.15h-2zM1224 133.40h1v28.15h-1zM1237 133.40h1v28.15h-1zM1245 133.40h1v28.15h-1zM1251 133.40h1v28.15h-1zM1253 133.40h3v28.15h-3z" fill="#4428ff" shape-rendering="crispEdges"/>
<path d="M980 133.40h2v28.15h-2z" fill="#9871ff" shape-rendering="crispEdges"/>
<path d="M988 133.40h1v28.15h-1zM999 133.40h2v28.15h-2zM1014 133.40h1v28.15h-1zM1024 133.40h2v28.15h-2zM1132 133.40h1v28.15h-1zM1135 133.40h1v28.15h-1zM1136 133.40h1v28.15h-1zM1180 133.40h1v28.15h-1zM1186 133.40h1v28.15h-1zM1193 133.40h2v28.15h-2zM1207 133.40h2v28.15h-2zM1211 133.40h2v28.15h-2zM1225 133.40h1v28.15h-1zM1252 133.40h1v28.15h-1z" fill="#3e24ff" shape-rendering="crispEdges"/>
<path d="M996 133.40h2v28.15h-2zM1165 133.40h1v28.15h-1z" fill="#b898ff" shape-rendering="crispEdges"/>
<path d="M1002 133.40h3v28.15h-3zM1080 133.40h1v28.15h-1z" fill="#ffffff" shape-rendering="crispEdges"/>
<path d="M1031 133.40h1v28.15h-1zM1088 133.40h2v28.15h-2zM1114 133.40h1v28.15h-1z" fill="#ffff00" shape-rendering="crispEdges"/>
<path d="M1040 133.40h3v28.15h-3z" fill="#ffc500" shape-rendering="crispEdges"/>
<path d="M1045 133.40h2v28.15h-2zM1063 133.40h1v28.15h-1zM1064 133.40h1v28.15h-1zM1097 133.40h3v28.15h-3zM1103 133.40h1v28.15h-1zM1109 133.40h2v28.15h-2zM1113 133.40h1v28.15h-1zM1128 133.40h2v28.15h-2zM1131 133.40h1v28.15h-1zM1181 133.40h3v28.15h-3zM1187 133.40h1v28.15h-1zM1204 133.40h1v28.15h-1zM1222 133.40h2v28.15h-2zM1234 133.40h1v28.15h-1zM1238 133.40h2v28.15h-2zM1241 133.40h2v28.15h-2zM1243 133.40h1v28.15h-1zM1244 133.40h1v28.15h-1z" fill="#321dff" shape-rendering="crispEdges"/>
<path d="M1067 133.40h1v28.15h-1z" fill="#a884ff" shape-rendering="crispEdges"/>
<path d="M1068 133.40h2v28.15h-2zM1158 133.40h2v28.15h-2z" fill="#c6adff" shape-rendering="crispEdges"/>
<path d="M1081 133.40h2v28.15h-2z" fill="#d5c2ff" shape-rendering="crispEdges"/>
<path d="M1138 133.40h1v28.15h-1zM1157 133.40h1v28.15h-1zM1179 133.40h1v28.15h-1zM1197 133.40h1v28.15h-1z" fill="#623dff" shape-rendering="crispEdges"/>
<path d="M953 161.55h1v28.15h-1zM956 161.55h1v28.15h-1zM984 161.55h1v28.15h-1zM991 161.55h3v28.15h-3zM1154 161.55h1v28.15h-1zM1175 161.55h1v28.15h-1zM1221 161.55h1v28.15h-1zM1231 161.55h1v28.15h-1z" fill="#623dff" shape-rendering="crispEdges"/>
<path d="M954 161.55h1v28.15h-1zM955 161.55h1v28.15h-1zM957 161.55h1v28.15h-1zM959 161.55h2v28.15h-2zM973 161.55h1v28.15h-1zM981 161.55h1v28.15h-1zM982 161.55h2v28.15h-2zM988 161.55h3v28.15h-3zM1000 161.55h1v28.15h-1zM1001 161.55h1v28.15h-1zM1002 161.55h1v28.15h-1zM1009 161.55h1v28.15h-1zM1010 161.55h2v28.15h-2zM1012 161.55h1v28.15h-1zM1018 161.55h2v28.15h-2zM1021 161.55h1v28.15h-1zM1028 161.55h2v28.15h-2zM1053 161.55h1v28.15h-1zM1057 161.55h1v28.15h-1zM1059 161.55h1v28.15h-1zM1062 161.55h1v28.15h-1zM1077 161.55h1v28.15h-1zM1081 161.55h3v28.15h-3zM1092 161.55h3v28.15h-3zM1109 161.55h1v28.15h-1zM1110 161.55h2v28.15h-2zM1116 161.55h2v28.15h-2zM1120 161.55h1v28.15h-1zM1135 161.55h1v28.15h-1zM1136 161.55h2v28.15h-2zM1142 161.55h1v28.15h-1zM1145 161.55h1v28.15h-1zM1155 161.55h1v28.15h-1zM1157 161.55h1v28.15h-1zM1159 161.55h1v28.15h-1zM1161 161.55h1v28.15h-1zM1162 161.55h2v28.15h-2zM1166 161.55h1v28.15h-1zM1171 161.55h3v28.15h-3zM1179 161.55h2v28.15h-2zM1189 161.55h2v28.15h-2zM1193 161.55h1v28.15h-1zM1196 161.55h1v28.15h-1zM1197 161.55h1v28.15h-1zM1201 161.55h1v28.15h-1zM1202 161.55h3v28.15h-3zM1209 161.55h1v28.15h-1zM1211 161.55h2v28.15h-2zM1213 161.55h1v28.15h-1zM1215 161.55h1v28.15h-1zM1216 161.55h2v28.15h-2zM1222 161.55h1v28.15h-1zM1224 161.55h1v28.15h-1zM1227 161.55h2v28.15h-2zM1230 161.55h1v28.15h-1zM1232 161.55h2v28.15h-2zM1238 161.55h1v28.15h-1zM1239 161.55h1v28.15h-1zM1241 161.55h1v28.15h-1zM1243 161.55h1v28.15h-1zM1246 161.55h1v28.15h-1zM1248 161.55h2v28.15h-2zM1256 161.55h1v28.15h-1zM1257 161.55h1v28.15h-1z" fill="#ffffff" shape-rendering="crispEdges"/>
<path d="M958 161.55h1v28.15h-1zM962 161.55h3v28.15h-3zM970 161.55h2v28.15h-2zM1004 161.55h1v28.15h-1zM1090 161.55h2v28.15h-2zM1101 161.55h1v28.15h-1zM1122 161.55h1v28.15h-1zM1127 161.55h2v28.15h-2zM1206 161.55h2v28.15h-2zM1223 161.55h1v28.15h-1z" fill="#a884ff" shape-rendering="crispEdges"/>
<path d="M961 161.55h1v28.15h-1zM976 161.55h2v28.15h-2zM1049 161.55h3v28.15h-3zM1066 161.55h1v28.15h-1zM1075 161.55h2v28.15h-2zM1088 161.55h2v28.15h-2zM1095 161.55h1v28.15h-1zM1170 161.55h1v28.15h-1z" fill="#7a4eff" shape-rendering="crispEdges"/>
<path d="M965 161.55h1v28.15h-1zM966 161.55h1v28.15h-1zM979 161.55h2v28.15h-2zM1022 161.55h1v28.15h-1zM1052 161.55h1v28.15h-1zM1067 161.55h1v28.15h-1zM1107 161.55h1v28.15h-1zM1108 161.55h1v28.15h-1zM1118 161.55h1v28.15h-1zM1124 161.55h2v28.15h-2zM1134 161.55h1v28.15h-1zM1160 161.55h1v28.15h-1zM1177 161.55h1v28.15h-1z" fill="#b898ff" shape-rendering="crispEdges"/>
<path d="M967 161.55h1v28.15h-1zM972 161.55h1v28.15h-1zM1015 161.55h2v28.15h-2zM1025 161.55h1v28.15h-1zM1032 161.55h2v28.15h-2zM1038 161.55h3v28.15h-3zM1042 161.55h1v28.15h-1zM1044 161.55h1v28.15h-1zM1045 161.55h1v28.15h-1zM1063 161.55h3v28.15h-3zM1150 161.55h1v28.15h-1zM1214 161.55h1v28.15h-1zM1252 161.55h3v28.15h-3z" fill="#9871ff" shape-rendering="crispEdges"/>
<path d="M968 161.55h1v28.15h-1zM986 161.55h2v28.15h-2zM994 161.55h2v28.15h-2zM1003 161.55h1v28.15h-1zM1013 161.55h1v28.15h-1zM1061 161.55h1v28.15h-1zM1096 161.55h2v28.15h-2zM1100 161.55h1v28.15h-1zM1130 161.55h1v28.15h-1zM1143 161.55h2v28.15h-2zM1167 161.55h3v28.15h-3zM1219 161.55h2v28.15h-2zM1225 161.55h1v28.15h-1zM1250 161.55h1v28.15h-1z" fill="#c6adff" shape-rendering="crispEdges"/>
<path d="M969 161.55h1v28.15h-1zM1084 161.55h2v28.15h-2zM1187 161.55h2v28.15h-2zM1208 161.55h1v28.15h-1z" fill="#fff400" shape-rendering="crispEdges"/>
<path d="M974 161.55h1v28.15h-1zM1023 161.55h2v28.15h-2zM1034 161.55h2v28.15h-2zM1151 161.55h1v28.15h-1zM1164 161.55h1v28.15h-1zM1240 161.55h1v28.15h-1z" fill="#845aff" shape-rendering="crispEdges"/>
<path d="M975 161.55h1v28.15h-1zM1055 161.55h2v28.15h-2z" fill="#4428ff" shape-rendering="crispEdges"/>
<path d="M978 161.55h1v28.15h-1zM1030 161.55h2v28.15h-2zM1043 161.55h1v28.15h-1zM1058 161.55h1v28.15h-1zM1080 161.55h1v28.15h-1zM1156 161.55h1v28.15h-1zM1158 161.55h1v28.15h-1zM1165 161.55h1v28.15h-1zM1174 161.55h1v28.15h-1zM1218 161.55h1v28.15h-1z" fill="#8e65ff" shape-rendering="crispEdges"/>
<path d="M985 161.55h1v28.15h-1zM1139 161.55h3v28.15h-3zM1198 161.55h1v28.15h-1zM1205 161.55h1v28.15h-1zM1226 161.55h1v28.15h-1z" fill="#ffff00" shape-rendering="crispEdges"/>
<path d="M996 161.55h2v28.15h-2zM1046 161.55h3v28.15h-3zM1129 161.55h1v28.15h-1z" fill="#3820ff" shape-rendering="crispEdges"/>
<path d="M998 161.55h2v28.15h-2z" fill="#4a2cff" shape-rendering="crispEdges"/>
<path d="M1005 161.55h1v28.15h-1zM1006 161.55h2v28.15h-2zM1008 161.55h1v28.15h-1zM1020 161.55h1v28.15h-1zM1068 161.55h2v28.15h-2zM1070 161.55h3v28.15h-3zM1078 161.55h2v28.15h-2zM1102 161.55h2v28.15h-2zM1113 161.55h2v28.15h-2zM1115 161.55h1v28.15h-1zM1119 161.55h1v28.15h-1zM1123 161.55h1v28.15h-1zM1126 161.55h1v28.15h-1zM1146 161.55h1v28.15h-1zM1147 161.55h1v28.15h-1zM1152 161.55h1v28.15h-1zM1153 161.55h1v28.15h-1zM1181 161.55h3v28.15h-3zM1191 161.55h2v28.15h-2zM1194 161.55h1v28.15h-1zM1195 161.55h1v28.15h-1zM1200 161.55h1v28.15h-1zM1210 161.55h1v28.15h-1zM1229 161.55h1v28.15h-1zM1235 161.55h3v28.15h-3zM1245 161.55h1v28.15h-1z" fill="#ffffa0" shape-rendering="crispEdges"/>
<path d="M1014 161.55h1v28.15h-1zM1041 161.55h1v28.15h-1zM1054 161.55h1v28.15h-1zM1086 161.55h2v28.15h-2zM1131 161.55h2v28.15h-2zM1176 161.55h1v28.15h-1zM1178 161.55h1v28.15h-1zM1199 161.55h1v28.15h-1zM1234 161.55h1v28.15h-1zM1255 161.55h1v28.15h-1z" fill="#d5c2ff" shape-rendering="crispEdges"/>
<path d="M1017 161.55h1v28.15h-1zM1036 161.55h2v28.15h-2zM1060 161.55h1v28.15h-1zM1104 161.55h3v28.15h-3zM1138 161.55h1v28.15h-1zM1148 161.55h2v28.15h-2zM1247 161.55h1v28.15h-1z" fill="#6e46ff" shape-rendering="crispEdges"/>
<path d="M1026 161.55h2v28.15h-2zM1133 161.55h1v28.15h-1zM1244 161.55h1v28.15h-1zM1251 161.55h1v28.15h-1z" fill="#ffff26" shape-rendering="crispEdges"/>
<path d="M1073 161.55h2v28.15h-2zM1098 161.55h2v28.15h-2zM1184 161.55h1v28.15h-1zM1185 161.55h2v28.15h-2zM1242 161.55h1v28.15h-1z" fill="#fffa00" shape-rendering="crispEdges"/>
<path d="M1112 161.55h1v28.15h-1z" fill="#321dff" shape-rendering="crispEdges"/>
<path d="M1121 161.55h1v28.15h-1z" fill="#3e24ff" shape-rendering="crispEdges"/>
<path d="M953 189.70h1v28.15h-1z" fill="#ffd800" shape-rendering="crispEdges"/>
<path d="M954 189.70h1v28.15h-1zM963 189.70h1v28.15h-1zM980 189.70h2v28.15h-2zM1179 189.70h1v28.15h-1zM1190 189.70h2v28.15h-2zM1192 189.70h1v28.15h-1zM1194 189.70h1v28.15h-1zM1196 189.70h1v28.15h-1zM1199 189.70h3v28.15h-3zM1208 189.70h1v28.15h-1z" fill="#ffff26" shape-rendering="crispEdges"/>
<path d="M955 189.70h2v28.15h-2zM961 189.70h2v28.15h-2z" fill="#ffc500" shape-rendering="crispEdges"/>
<path d="M957 189.70h2v28.15h-2zM1005 189.70h3v28.15h-3zM1027 189.70h2v28.15h-2zM1071 189.70h2v28.15h-2zM1103 189.70h1v28.15h-1zM1104 189.70h2v28.15h-2zM1109 189.70h2v28.15h-2zM1158 189.70h1v28.15h-1zM1167 189.70h3v28.15h-3z" fill="#3820ff" shape-rendering="crispEdges"/>
<path d="M959 189.70h2v28.15h-2zM1048 189.70h3v28.15h-3zM1058 189.70h1v28.15h-1zM1101 189.70h2v28.15h-2zM1166 189.70h1v28.15h-1z" fill="#4a2cff" shape-rendering="crispEdges"/>
<path d="M964 189.70h1v28.15h-1z" fill="#ffdf00" shape-rendering="crispEdges"/>
<path d="M965 189.70h1v28.15h-1zM976 189.70h2v28.15h-2zM1009 189.70h2v28.15h-2zM1029 189.70h1v28.15h-1zM1091 189.70h1v28.15h-1zM1094 189.70h1v28.15h-1zM1116 189.70h2v28.15h-2zM1120 189.70h1v28.15h-1zM1127 189.70h2v28.15h-2zM1132 189.70h1v28.15h-1zM1139 189.70h1v28.15h-1zM1143 189.70h1v28.15h-1zM1160 189.70h1v28.15h-1zM1161 189.70h1v28.15h-1zM1172 189.70h1v28.15h-1zM1254 189.70h2v28.15h-2z" fill="#6e46ff" shape-rendering="crispEdges"/>
<path d="M966 189.70h1v28.15h-1zM967 189.70h1v28.15h-1zM1100 189.70h1v28.15h-1zM1113 189.70h3v28.15h-3zM1136 189.70h1v28.15h-1zM1138 189.70h1v28.15h-1zM1155 189.70h3v28.15h-3zM1251 189.70h1v28.15h-1z" fill="#623dff" shape-rendering="crispEdges"/>
<path d="M968 189.70h2v28.15h-2zM1051 189.70h1v28.15h-1z" fill="#fffa00" shape-rendering="crispEdges"/>
<path d="M970 189.70h1v28.15h-1zM1014 189.70h2v28.15h-2zM1111 189.70h1v28.15h-1zM1112 189.70h1v28.15h-1zM1122 189.70h2v28.15h-2zM1173 189.70h1v28.15h-1zM1175 189.70h1v28.15h-1z" fill="#321dff" shape-rendering="crispEdges"/>
<path d="M971 189.70h2v28.15h-2zM1092 189.70h2v28.15h-2zM1131 189.70h1v28.15h-1zM1217 189.70h1v28.15h-1zM1219 189.70h1v28.15h-1z" fill="#d5c2ff" shape-rendering="crispEdges"/>
<path d="M973 189.70h1v28.15h-1zM982 189.70h1v28.15h-1zM1052 189.70h1v28.15h-1zM1067 189.70h2v28.15h-2zM1133 189.70h1v28.15h-1zM1162 189.70h1v28.15h-1zM1210 189.70h1v28.15h-1zM1245 189.70h2v28.15h-2z" fill="#b898ff" shape-rendering="crispEdges"/>
<path d="M974 189.70h2v28.15h-2zM987 189.70h1v28.15h-1zM994 189.70h2v28.15h-2zM1001 189.70h1v28.15h-1zM1033 189.70h2v28.15h-2zM1045 189.70h2v28.15h-2zM1064 189.70h2v28.15h-2zM1085 189.70h1v28.15h-1zM1086 189.70h1v28.15h-1zM1096 189.70h2v28.15h-2zM1099 189.70h1v28.15h-1zM1149 189.70h1v28.15h-1zM1177 189.70h1v28.15h-1zM1218 189.70h1v28.15h-1zM1242 189.70h2v28.15h-2z" fill="#8e65ff" shape-rendering="crispEdges"/>
<path d="M978 189.70h2v28.15h-2zM983 189.70h2v28.15h-2zM1002 189.70h1v28.15h-1zM1008 189.70h1v28.15h-1zM1056 189.70h2v28.15h-2zM1059 189.70h2v28.15h-2zM1079 189.70h2v28.15h-2zM1187 189.70h1v28.15h-1zM1195 189.70h1v28.15h-1zM1222 189.70h1v28.15h-1zM1227 189.70h3v28.15h-3zM1233 189.70h3v28.15h-3z" fill="#ffffff" shape-rendering="crispEdges"/>
<path d="M985 189.70h1v28.15h-1zM986 189.70h1v28.15h-1zM1073 189.70h1v28.15h-1zM1078 189.70h1v28.15h-1zM1087 189.70h1v28.15h-1zM1124 189.70h1v28.15h-1zM1152 189.70h3v28.15h-3zM1164 189.70h1v28.15h-1zM1176 189.70h1v28.15h-1zM1184 189.70h1v28.15h-1zM1211 189.70h1v28.15h-1zM1212 189.70h1v28.15h-1zM1213 189.70h1v28.15h-1zM1220 189.70h2v28.15h-2zM1236 189.70h2v28.15h-2zM1238 189.70h1v28.15h-1z" fill="#9871ff" shape-rendering="crispEdges"/>
<path d="M988 189.70h1v28.15h-1zM989 189.70h2v28.15h-2zM998 189.70h1v28.15h-1zM1023 189.70h2v28.15h-2zM1043 189.70h1v28.15h-1zM1063 189.70h1v28.15h-1zM1209 189.70h1v28.15h-1zM1214 189.70h1v28.15h-1zM1231 189.70h1v28.15h-1zM1239 189.70h1v28.15h-1zM1248 189.70h1v28.15h-1zM1257 189.70h1v28.15h-1z" fill="#c6adff" shape-rendering="crispEdges"/>
<path d="M991 189.70h3v28.15h-3zM996 189.70h2v28.15h-2zM1039 189.70h1v28.15h-1zM1041 189.70h1v28.15h-1zM1053 189.70h1v28.15h-1zM1130 189.70h1v28.15h-1zM1150 189.70h1v28.15h-1zM1174 189.70h1v28.15h-1zM1178 189.70h1v28.15h-1zM1244 189.70h1v28.15h-1z" fill="#4428ff" shape-rendering="crispEdges"/>
<path d="M999 189.70h2v28.15h-2zM1017 189.70h1v28.15h-1zM1022 189.70h1v28.15h-1zM1030 189.70h3v28.15h-3zM1036 189.70h1v28.15h-1zM1037 189.70h2v28.15h-2zM1042 189.70h1v28.15h-1zM1088 189.70h1v28.15h-1zM1098 189.70h1v28.15h-1zM1137 189.70h1v28.15h-1zM1144 189.70h2v28.15h-2zM1170 189.70h2v28.15h-2zM1215 189.70h2v28.15h-2zM1232 189.70h1v28.15h-1zM1240 189.70h2v28.15h-2zM1256 189.70h1v28.15h-1z" fill="#7a4eff" shape-rendering="crispEdges"/>
<path d="M1003 189.70h1v28.15h-1zM1004 189.70h1v28.15h-1zM1016 189.70h1v28.15h-1zM1020 189.70h2v28.15h-2zM1040 189.70h1v28.15h-1zM1047 189.70h1v28.15h-1zM1054 189.70h2v28.15h-2zM1061 189.70h2v28.15h-2zM1069 189.70h2v28.15h-2zM1089 189.70h2v28.15h-2zM1106 189.70h3v28.15h-3zM1140 189.70h2v28.15h-2zM1146 189.70h2v28.15h-2zM1163 189.70h1v28.15h-1zM1165 189.70h1v28.15h-1zM1224 189.70h1v28.15h-1zM1225 189.70h2v28.15h-2zM1230 189.70h1v28.15h-1z" fill="#845aff" shape-rendering="crispEdges"/>
<path d="M1011 189.70h2v28.15h-2zM1018 189.70h2v28.15h-2zM1035 189.70h1v28.15h-1zM1044 189.70h1v28.15h-1zM1095 189.70h1v28.15h-1zM1118 189.70h2v28.15h-2zM1125 189.70h2v28.15h-2zM1142 189.70h1v28.15h-1zM1148 189.70h1v28.15h-1zM1159 189.70h1v28.15h-1zM1247 189.70h1v28.15h-1z" fill="#3e24ff" shape-rendering="crispEdges"/>
<path d="M1013 189.70h1v28.15h-1zM1025 189.70h2v28.15h-2zM1066 189.70h1v28.15h-1zM1074 189.70h1v28.15h-1zM1075 189.70h3v28.15h-3zM1121 189.70h1v28.15h-1zM1129 189.70h1v28.15h-1zM1134 189.70h2v28.15h-2zM1151 189.70h1v28.15h-1zM1203 189.70h2v28.15h-2zM1223 189.70h1v28.15h-1zM1249 189.70h2v28.15h-2zM1252 189.70h2v28.15h-2z" fill="#a884ff" shape-rendering="crispEdges"/>
<path d="M1081 189.70h2v28.15h-2zM1083 189.70h2v28.15h-2zM1180 189.70h2v28.15h-2zM1182 189.70h1v28.15h-1zM1183 189.70h1v28.15h-1zM1185 189.70h2v28.15h-2zM1193 189.70h1v28.15h-1zM1197 189.70h1v28.15h-1zM1205 189.70h1v28.15h-1zM1206 189.70h1v28.15h-1zM1207 189.70h1v28.15h-1z" fill="#ffff00" shape-rendering="crispEdges"/>
<path d="M1188 189.70h1v28.15h-1z" fill="#ffffa0" shape-rendering="crispEdges"/>
<path d="M1189 189.70h1v28.15h-1zM1198 189.70h1v28.15h-1zM1202 189.70h1v28.15h-1z" fill="#fff400" shape-rendering="crispEdges"/>
<path d="M953 217.85h1v28.15h-1zM962 217.85h1v28.15h-1zM992 217.85h2v28.15h-2zM1051 217.85h1v28.15h-1zM1063 217.85h1v28.15h-1zM1069 217.85h3v28.15h-3zM1072 217.85h1v28.15h-1zM1078 217.85h2v28.15h-2zM1093 217.85h1v28.15h-1zM1098 217.85h1v28.15h-1zM1117 217.85h1v28.15h-1zM1126 217.85h1v28.15h-1zM1141 217.85h2v28.15h-2zM1158 217.85h1v28.15h-1zM1170 217.85h1v28.15h-1zM1224 217.85h1v28.15h-1zM1230 217.85h1v28.15h-1zM1235 217.85h1v28.15h-1zM1236 217.85h1v28.15h-1zM1242 217.85h1v28.15h-1zM1254 217.85h1v28.15h-1z" fill="#8e65ff" shape-rendering="crispEdges"/>
<path d="M954 217.85h3v28.15h-3zM959 217.85h1v28.15h-1zM1044 217.85h1v28.15h-1zM1052 217.85h2v28.15h-2zM1092 217.85h1v28.15h-1zM1094 217.85h1v28.15h-1zM1101 217.85h1v28.15h-1zM1108 217.85h1v28.15h-1zM1112 217.85h1v28.15h-1zM1116 217.85h1v28.15h-1zM1144 217.85h2v28.15h-2zM1154 217.85h1v28.15h-1zM1155 217.85h1v28.15h-1zM1157 217.85h1v28.15h-1zM1159 217.85h2v28.15h-2zM1181 217.85h2v28.15h-2zM1234 217.85h1v28.15h-1zM1245 217.85h1v28.15h-1zM1248 217.85h2v28.15h-2zM1250 217.85h1v28.15h-1z" fill="#3820ff" shape-rendering="crispEdges"/>
<path d="M957 217.85h2v28.15h-2zM965 217.85h1v28.15h-1zM970 217.85h2v28.15h-2zM974 217.85h1v28.15h-1zM995 217.85h2v28.15h-2zM1031 217.85h1v28.15h-1zM1055 217.85h3v28.15h-3zM1076 217.85h1v28.15h-1zM1080 217.85h2v28.15h-2zM1134 217.85h2v28.15h-2zM1163 217.85h1v28.15h-1zM1168 217.85h2v28.15h-2zM1188 217.85h2v28.15h-2zM1207 217.85h1v28.15h-1zM1212 217.85h1v28.15h-1zM1217 217.85h1v28.15h-1zM1226 217.85h2v28.15h-2z" fill="#623dff" shape-rendering="crispEdges"/>
<path d="M960 217.85h2v28.15h-2zM985 217.85h1v28.15h-1zM989 217.85h2v28.15h-2zM1014 217.85h1v28.15h-1zM1096 217.85h2v28.15h-2zM1127 217.85h1v28.15h-1zM1191 217.85h1v28.15h-1zM1193 217.85h2v28.15h-2zM1209 217.85h3v28.15h-3zM1231 217.85h1v28.15h-1zM1237 217.85h1v28.15h-1zM1244 217.85h1v28.15h-1zM1251 217.85h1v28.15h-1z" fill="#7a4eff" shape-rendering="crispEdges"/>
<path d="M963 217.85h2v28.15h-2zM994 217.85h1v28.15h-1zM1002 217.85h1v28.15h-1zM1030 217.85h1v28.15h-1zM1036 217.85h1v28.15h-1zM1095 217.85h1v28.15h-1zM1131 217.85h2v28.15h-2zM1136 217.85h3v28.15h-3zM1143 217.85h1v28.15h-1zM1153 217.85h1v28.15h-1zM1179 217.85h1v28.15h-1zM1204 217.85h2v28.15h-2zM1255 217.85h1v28.15h-1z" fill="#6e46ff" shape-rendering="crispEdges"/>
<path d="M966 217.85h2v28.15h-2zM969 217.85h1v28.15h-1zM983 217.85h2v28.15h-2zM988 217.85h1v28.15h-1zM1008 217.85h2v28.15h-2zM1037 217.85h2v28.15h-2zM1047 217.85h1v28.15h-1zM1107 217.85h1v28.15h-1zM1109 217.85h1v28.15h-1zM1118 217.85h2v28.15h-2zM1120 217.85h1v28.15h-1zM1197 217.85h1v28.15h-1zM1208 217.85h1v28.15h-1zM1243 217.85h1v28.15h-1z" fill="#845aff" shape-rendering="crispEdges"/>
<path d="M968 217.85h1v28.15h-1z" fill="#fffa00" shape-rendering="crispEdges"/>
<path d="M972 217.85h2v28.15h-2zM981 217.85h1v28.15h-1zM998 217.85h1v28.15h-1zM1021 217.85h1v28.15h-1zM1064 217.85h2v28.15h-2zM1123 217.85h2v28.15h-2zM1125 217.85h1v28.15h-1zM1151 217.85h2v28.15h-2zM1195 217.85h1v28.15h-1zM1218 217.85h2v28.15h-2zM1221 217.85h1v28.15h-1zM1228 217.85h1v28.15h-1zM1229 217.85h1v28.15h-1zM1238 217.85h1v28.15h-1zM1252 217.85h1v28.15h-1zM1253 217.85h1v28.15h-1zM1256 217.85h1v28.15h-1zM1257 217.85h1v28.15h-1z" fill="#321dff" shape-rendering="crispEdges"/>
<path d="M975 217.85h2v28.15h-2zM1007 217.85h1v28.15h-1zM1018 217.85h1v28.15h-1zM1019 217.85h2v28.15h-2zM1023 217.85h1v28.15h-1zM1032 217.85h2v28.15h-2zM1034 217.85h2v28.15h-2zM1043 217.85h1v28.15h-1zM1049 217.85h2v28.15h-2zM1054 217.85h1v28.15h-1zM1102 217.85h3v28.15h-3zM1113 217.85h1v28.15h-1zM1114 217.85h2v28.15h-2zM1133 217.85h1v28.15h-1zM1203 217.85h1v28.15h-1zM1213 217.85h2v28.15h-2zM1215 217.85h1v28.15h-1zM1220 217.85h1v28.15h-1zM1232 217.85h2v28.15h-2z" fill="#3e24ff" shape-rendering="crispEdges"/>
<path d="M977 217.85h2v28.15h-2zM1198 217.85h2v28.15h-2z" fill="#d5c2ff" shape-rendering="crispEdges"/>
<path d="M979 217.85h2v28.15h-2zM1005 217.85h2v28.15h-2zM1010 217.85h1v28.15h-1zM1025 217.85h2v28.15h-2zM1039 217.85h1v28.15h-1zM1045 217.85h2v28.15h-2zM1048 217.85h1v28.15h-1zM1058 217.85h1v28.15h-1zM1059 217.85h2v28.15h-2zM1099 217.85h1v28.15h-1zM1105 217.85h1v28.15h-1zM1121 217.85h1v28.15h-1zM1148 217.85h3v28.15h-3zM1156 217.85h1v28.15h-1zM1161 217.85h2v28.15h-2zM1164 217.85h1v28.15h-1zM1167 217.85h1v28.15h-1zM1216 217.85h1v28.15h-1zM1239 217.85h2v28.15h-2z" fill="#0804ff" shape-rendering="crispEdges"/>
<path d="M982 217.85h1v28.15h-1zM986 217.85h1v28.15h-1zM991 217.85h1v28.15h-1zM997 217.85h1v28.15h-1zM1015 217.85h1v28.15h-1zM1022 217.85h1v28.15h-1zM1041 217.85h1v28.15h-1zM1062 217.85h1v28.15h-1zM1075 217.85h1v28.15h-1zM1100 217.85h1v28.15h-1zM1122 217.85h1v28.15h-1zM1139 217.85h2v28.15h-2zM1165 217.85h2v28.15h-2zM1171 217.85h1v28.15h-1zM1172 217.85h3v28.15h-3zM1175 217.85h1v28.15h-1zM1180 217.85h1v28.15h-1zM1196 217.85h1v28.15h-1zM1222 217.85h2v28.15h-2zM1241 217.85h1v28.15h-1z" fill="#4a2cff" shape-rendering="crispEdges"/>
<path d="M987 217.85h1v28.15h-1zM999 217.85h3v28.15h-3zM1003 217.85h1v28.15h-1zM1004 217.85h1v28.15h-1zM1011 217.85h3v28.15h-3zM1016 217.85h2v28.15h-2zM1027 217.85h3v28.15h-3zM1040 217.85h1v28.15h-1zM1042 217.85h1v28.15h-1zM1061 217.85h1v28.15h-1zM1066 217.85h1v28.15h-1zM1083 217.85h1v28.15h-1zM1084 217.85h3v28.15h-3zM1090 217.85h2v28.15h-2zM1106 217.85h1v28.15h-1zM1128 217.85h3v28.15h-3zM1146 217.85h2v28.15h-2zM1176 217.85h3v28.15h-3z" fill="#4428ff" shape-rendering="crispEdges"/>
<path d="M1024 217.85h1v28.15h-1zM1190 217.85h1v28.15h-1zM1200 217.85h1v28.15h-1zM1201 217.85h1v28.15h-1zM1246 217.85h2v28.15h-2z" fill="#9871ff" shape-rendering="crispEdges"/>
<path d="M1067 217.85h1v28.15h-1zM1087 217.85h3v28.15h-3zM1110 217.85h2v28.15h-2zM1206 217.85h1v28.15h-1z" fill="#b898ff" shape-rendering="crispEdges"/>
<path d="M1068 217.85h1v28.15h-1z" fill="#ffc500" shape-rendering="crispEdges"/>
<path d="M1073 217.85h2v28.15h-2z" fill="#ffff00" shape-rendering="crispEdges"/>
<path d="M1077 217.85h1v28.15h-1z" fill="#ffff26" shape-rendering="crispEdges"/>
<path d="M1082 217.85h1v28.15h-1z" fill="#ffd800" shape-rendering="crispEdges"/>
<path d="M1183 217.85h2v28.15h-2zM1185 217.85h3v28.15h-3z" fill="#ffffff" shape-rendering="crispEdges"/>
<path d="M1192 217.85h1v28.15h-1z" fill="#a884ff" shape-rendering="crispEdges"/>
<path d="M1202 217.85h1v28.15h-1zM1225 217.85h1v28.15h-1z" fill="#c6adff" shape-rendering="crispEdges"/>
<path d="M953 246.00h3v28.15h-3zM962 246.00h1v28.15h-1zM972 246.00h2v28.15h-2zM979 246.00h2v28.15h-2zM983 246.00h1v28.15h-1zM1009 246.00h1v28.15h-1zM1010 246.00h3v28.15h-3zM1030 246.00h1v28.15h-1zM1034 246.00h1v28.15h-1zM1046 246.00h1v28.15h-1zM1073 246.00h1v28.15h-1zM1077 246.00h1v28.15h-1zM1092 246.00h3v28.15h-3zM1118 246.00h1v28.15h-1zM1135 246.00h2v28.15h-2zM1137 246.00h1v28.15h-1zM1157 246.00h2v28.15h-2zM1178 246.00h1v28.15h-1zM1180 246.00h2v28.15h-2zM1196 246.00h2v28.15h-2zM1201 246.00h2v28.15h-2zM1223 246.00h1v28.15h-1zM1251 246.00h2v28.15h-2zM1257 246.00h1v28.15h-1z" fill="#321dff" shape-rendering="crispEdges"/>
<path d="M956 246.00h1v28.15h-1zM966 246.00h2v28.15h-2zM968 246.00h1v28.15h-1zM971 246.00h1v28.15h-1zM981 246.00h1v28.15h-1zM984 246.00h1v28.15h-1zM986 246.00h1v28.15h-1zM989 246.00h2v28.15h-2zM991 246.00h1v28.15h-1zM996 246.00h1v28.15h-1zM997 246.00h1v28.15h-1zM1000 246.00h2v28.15h-2zM1007 246.00h1v28.15h-1zM1013 246.00h2v28.15h-2zM1017 246.00h3v28.15h-3zM1022 246.00h1v28.15h-1zM1027 246.00h2v28.15h-2zM1029 246.00h1v28.15h-1zM1041 246.00h1v28.15h-1zM1042 246.00h1v28.15h-1zM1043 246.00h2v28.15h-2zM1047 246.00h1v28.15h-1zM1048 246.00h1v28.15h-1zM1055 246.00h1v28.15h-1zM1061 246.00h3v28.15h-3zM1111 246.00h1v28.15h-1zM1113 246.00h1v28.15h-1zM1115 246.00h2v28.15h-2zM1119 246.00h1v28.15h-1zM1121 246.00h1v28.15h-1zM1123 246.00h1v28.15h-1zM1124 246.00h1v28.15h-1zM1129 246.00h1v28.15h-1zM1138 246.00h2v28.15h-2zM1140 246.00h3v28.15h-3zM1145 246.00h3v28.15h-3zM1150 246.00h1v28.15h-1zM1151 246.00h3v28.15h-3zM1154 246.00h2v28.15h-2zM1159 246.00h1v28.15h-1zM1160 246.00h1v28.15h-1zM1161 246.00h1v28.15h-1zM1165 246.00h1v28.15h-1zM1168 246.00h1v28.15h-1zM1173 246.00h1v28.15h-1zM1175 246.00h1v28.15h-1zM1188 246.00h3v28.15h-3zM1191 246.00h2v28.15h-2zM1193 246.00h1v28.15h-1zM1194 246.00h2v28.15h-2zM1204 246.00h2v28.15h-2zM1233 246.00h3v28.15h-3z" fill="#0804ff" shape-rendering="crispEdges"/>
<path d="M957 246.00h1v28.15h-1zM958 246.00h1v28.15h-1zM961 246.00h1v28.15h-1zM963 246.00h1v28.15h-1zM964 246.00h2v28.15h-2zM969 246.00h2v28.15h-2zM982 246.00h1v28.15h-1zM987 246.00h2v28.15h-2zM993 246.00h2v28.15h-2zM998 246.00h2v28.15h-2zM1004 246.00h1v28.15h-1zM1005 246.00h2v28.15h-2zM1015 246.00h1v28.15h-1zM1020 246.00h1v28.15h-1zM1024 246.00h1v28.15h-1zM1025 246.00h1v28.15h-1zM1031 246.00h3v28.15h-3zM1039 246.00h2v28.15h-2zM1051 246.00h3v28.15h-3zM1057 246.00h1v28.15h-1zM1070 246.00h1v28.15h-1zM1074 246.00h3v28.15h-3zM1078 246.00h2v28.15h-2zM1102 246.00h1v28.15h-1zM1105 246.00h2v28.15h-2zM1117 246.00h1v28.15h-1zM1132 246.00h1v28.15h-1zM1143 246.00h2v28.15h-2zM1148 246.00h2v28.15h-2zM1162 246.00h2v28.15h-2zM1172 246.00h1v28.15h-1zM1174 246.00h1v28.15h-1zM1199 246.00h2v28.15h-2zM1203 246.00h1v28.15h-1zM1210 246.00h1v28.15h-1zM1214 246.00h2v28.15h-2zM1219 246.00h2v28.15h-2zM1224 246.00h1v28.15h-1zM1225 246.00h3v28.15h-3zM1249 246.00h1v28.15h-1zM1255 246.00h2v28.15h-2z" fill="#3820ff" shape-rendering="crispEdges"/>
<path d="M959 246.00h1v28.15h-1zM995 246.00h1v28.15h-1zM1008 246.00h1v28.15h-1zM1016 246.00h1v28.15h-1zM1035 246.00h1v28.15h-1zM1049 246.00h2v28.15h-2zM1065 246.00h2v28.15h-2zM1086 246.00h1v28.15h-1zM1087 246.00h2v28.15h-2zM1095 246.00h2v28.15h-2zM1097 246.00h3v28.15h-3zM1103 246.00h2v28.15h-2zM1110 246.00h1v28.15h-1zM1130 246.00h1v28.15h-1zM1131 246.00h1v28.15h-1zM1166 246.00h1v28.15h-1zM1169 246.00h3v28.15h-3zM1176 246.00h2v28.15h-2zM1184 246.00h2v28.15h-2zM1186 246.00h2v28.15h-2zM1198 246.00h1v28.15h-1zM1230 246.00h3v28.15h-3zM1239 246.00h1v28.15h-1zM1244 246.00h1v28.15h-1zM1245 246.00h1v28.15h-1zM1246 246.00h2v28.15h-2zM1248 246.00h1v28.15h-1z" fill="#3e24ff" shape-rendering="crispEdges"/>
<path d="M960 246.00h1v28.15h-1zM1036 246.00h3v28.15h-3zM1058 246.00h1v28.15h-1zM1059 246.00h2v28.15h-2zM1064 246.00h1v28.15h-1zM1069 246.00h1v28.15h-1zM1112 246.00h1v28.15h-1zM1133 246.00h1v28.15h-1zM1156 246.00h1v28.15h-1zM1167 246.00h1v28.15h-1zM1179 246.00h1v28.15h-1zM1182 246.00h1v28.15h-1zM1206 246.00h1v28.15h-1zM1238 246.00h1v28.15h-1zM1241 246.00h2v28.15h-2z" fill="#4a2cff" shape-rendering="crispEdges"/>
<path d="M974 246.00h2v28.15h-2zM976 246.00h1v28.15h-1zM985 246.00h1v28.15h-1zM992 246.00h1v28.15h-1zM1021 246.00h1v28.15h-1zM1023 246.00h1v28.15h-1zM1071 246.00h1v28.15h-1zM1084 246.00h1v28.15h-1zM1091 246.00h1v28.15h-1zM1100 246.00h2v28.15h-2zM1114 246.00h1v28.15h-1zM1125 246.00h1v28.15h-1zM1134 246.00h1v28.15h-1zM1183 246.00h1v28.15h-1zM1209 246.00h1v28.15h-1zM1213 246.00h1v28.15h-1zM1216 246.00h3v28.15h-3zM1228 246.00h1v28.15h-1z" fill="#4428ff" shape-rendering="crispEdges"/>
<path d="M977 246.00h2v28.15h-2zM1085 246.00h1v28.15h-1zM1120 246.00h1v28.15h-1zM1207 246.00h2v28.15h-2zM1229 246.00h1v28.15h-1zM1250 246.00h1v28.15h-1z" fill="#6e46ff" shape-rendering="crispEdges"/>
<path d="M1002 246.00h2v28.15h-2zM1221 246.00h1v28.15h-1z" fill="#845aff" shape-rendering="crispEdges"/>
<path d="M1026 246.00h1v28.15h-1zM1045 246.00h1v28.15h-1zM1067 246.00h2v28.15h-2zM1080 246.00h2v28.15h-2zM1082 246.00h1v28.15h-1zM1083 246.00h1v28.15h-1zM1089 246.00h1v28.15h-1zM1107 246.00h3v28.15h-3zM1122 246.00h1v28.15h-1z" fill="#ffffff" shape-rendering="crispEdges"/>
<path d="M1054 246.00h1v28.15h-1z" fill="#fff400" shape-rendering="crispEdges"/>
<path d="M1056 246.00h1v28.15h-1zM1164 246.00h1v28.15h-1z" fill="#fffa00" shape-rendering="crispEdges"/>
<path d="M1072 246.00h1v28.15h-1zM1126 246.00h2v28.15h-2zM1236 246.00h1v28.15h-1zM1237 246.00h1v28.15h-1z" fill="#7a4eff" shape-rendering="crispEdges"/>
<path d="M1090 246.00h1v28.15h-1zM1240 246.00h1v28.15h-1zM1243 246.00h1v28.15h-1z" fill="#623dff" shape-rendering="crispEdges"/>
<path d="M1128 246.00h1v28.15h-1zM1253 246.00h2v28.15h-2z" fill="#b898ff" shape-rendering="crispEdges"/>
<path d="M1211 246.00h2v28.15h-2z" fill="#9871ff" shape-rendering="crispEdges"/>
<path d="M1222 246.00h1v28.15h-1z" fill="#8e65ff" shape-rendering="crispEdges"/>
<path d="M953 274.15h1v28.15h-1zM955 274.15h1v28.15h-1zM956 274.15h3v28.15h-3zM959 274.15h1v28.15h-1zM976 274.15h1v28.15h-1zM978 274.15h3v28.15h-3zM986 274.15h1v28.15h-1zM992 274.15h2v28.15h-2zM1003 274.15h1v28.15h-1zM1011 274.15h2v28.15h-2zM1014 274.15h2v28.15h-2zM1017 274.15h2v28.15h-2zM1019 274.15h2v28.15h-2zM1025 274.15h3v28.15h-3zM1032 274.15h2v28.15h-2zM1036 274.15h2v28.15h-2zM1038 274.15h2v28.15h-2zM1042 274.15h1v28.15h-1zM1046 274.15h2v28.15h-2zM1060 274.15h1v28.15h-1zM1062 274.15h2v28.15h-2zM1067 274.15h2v28.15h-2zM1080 274.15h1v28.15h-1zM1087 274.15h2v28.15h-2zM1094 274.15h1v28.15h-1zM1095 274.15h1v28.15h-1zM1096 274.15h2v28.15h-2zM1098 274.15h2v28.15h-2zM1100 274.15h1v28.15h-1zM1101 274.15h1v28.15h-1zM1102 274.15h1v28.15h-1zM1103 274.15h2v28.15h-2zM1110 274.15h2v28.15h-2zM1113 274.15h1v28.15h-1zM1114 274.15h1v28.15h-1zM1117 274.15h1v28.15h-1zM1119 274.15h1v28.15h-1zM1120 274.15h2v28.15h-2zM1122 274.15h2v28.15h-2zM1125 274.15h1v28.15h-1zM1148 274.15h3v28.15h-3zM1151 274.15h2v28.15h-2zM1155 274.15h1v28.15h-1zM1156 274.15h2v28.15h-2zM1176 274.15h1v28.15h-1zM1180 274.15h1v28.15h-1zM1188 274.15h1v28.15h-1zM1194 274.15h1v28.15h-1zM1209 274.15h1v28.15h-1zM1212 274.15h2v28.15h-2zM1223 274.15h1v28.15h-1zM1226 274.15h1v28.15h-1zM1231 274.15h1v28.15h-1zM1238 274.15h1v28.15h-1zM1239 274.15h1v28.15h-1zM1242 274.15h2v28.15h-2zM1248 274.15h1v28.15h-1zM1249 274.15h2v28.15h-2zM1257 274.15h1v28.15h-1z" fill="#0804ff" shape-rendering="crispEdges"/>
<path d="M954 274.15h1v28.15h-1zM974 274.15h2v28.15h-2zM977 274.15h1v28.15h-1zM981 274.15h3v28.15h-3zM984 274.15h1v28.15h-1zM991 274.15h1v28.15h-1zM1006 274.15h3v28.15h-3zM1013 274.15h1v28.15h-1zM1034 274.15h1v28.15h-1zM1048 274.15h1v28.15h-1zM1061 274.15h1v28.15h-1zM1073 274.15h2v28.15h-2zM1116 274.15h1v28.15h-1zM1124 274.15h1v28.15h-1zM1126 274.15h1v28.15h-1zM1127 274.15h2v28.15h-2zM1131 274.15h1v28.15h-1zM1163 274.15h1v28.15h-1zM1164 274.15h1v28.15h-1zM1168 274.15h3v28.15h-3zM1172 274.15h1v28.15h-1zM1177 274.15h2v28.15h-2zM1193 274.15h1v28.15h-1zM1204 274.15h1v28.15h-1zM1210 274.15h2v28.15h-2zM1227 274.15h1v28.15h-1zM1230 274.15h1v28.15h-1zM1244 274.15h2v28.15h-2z" fill="#321dff" shape-rendering="crispEdges"/>
<path d="M960 274.15h2v28.15h-2zM964 274.15h3v28.15h-3zM967 274.15h1v28.15h-1zM1053 274.15h2v28.15h-2zM1082 274.15h2v28.15h-2zM1086 274.15h1v28.15h-1zM1112 274.15h1v28.15h-1zM1141 274.15h1v28.15h-1zM1161 274.15h2v28.15h-2zM1165 274.15h3v28.15h-3zM1179 274.15h1v28.15h-1zM1181 274.15h1v28.15h-1zM1185 274.15h1v28.15h-1zM1228 274.15h1v28.15h-1zM1233 274.15h1v28.15h-1zM1246 274.15h1v28.15h-1zM1252 274.15h1v28.15h-1z" fill="#3e24ff" shape-rendering="crispEdges"/>
<path d="M962 274.15h2v28.15h-2z" fill="#fffa00" shape-rendering="crispEdges"/>
<path d="M968 274.15h3v28.15h-3zM985 274.15h1v28.15h-1zM997 274.15h2v28.15h-2zM1009 274.15h1v28.15h-1zM1057 274.15h3v28.15h-3zM1066 274.15h1v28.15h-1zM1089 274.15h1v28.15h-1zM1093 274.15h1v28.15h-1zM1129 274.15h2v28.15h-2zM1140 274.15h1v28.15h-1zM1153 274.15h1v28.15h-1zM1158 274.15h3v28.15h-3zM1183 274.15h2v28.15h-2zM1190 274.15h1v28.15h-1zM1192 274.15h1v28.15h-1zM1195 274.15h1v28.15h-1zM1198 274.15h1v28.15h-1zM1205 274.15h1v28.15h-1zM1207 274.15h1v28.15h-1zM1214 274.15h2v28.15h-2zM1217 274.15h2v28.15h-2zM1224 274.15h2v28.15h-2zM1229 274.15h1v28.15h-1zM1240 274.15h1v28.15h-1zM1251 274.15h1v28.15h-1z" fill="#4a2cff" shape-rendering="crispEdges"/>
<path d="M971 274.15h3v28.15h-3zM1028 274.15h1v28.15h-1zM1247 274.15h1v28.15h-1z" fill="#ffff26" shape-rendering="crispEdges"/>
<path d="M987 274.15h3v28.15h-3zM995 274.15h2v28.15h-2zM999 274.15h1v28.15h-1zM1010 274.15h1v28.15h-1zM1016 274.15h1v28.15h-1zM1021 274.15h1v28.15h-1zM1022 274.15h1v28.15h-1zM1023 274.15h2v28.15h-2zM1029 274.15h2v28.15h-2zM1041 274.15h1v28.15h-1zM1045 274.15h1v28.15h-1zM1071 274.15h2v28.15h-2zM1076 274.15h1v28.15h-1zM1078 274.15h2v28.15h-2zM1108 274.15h1v28.15h-1zM1115 274.15h1v28.15h-1zM1118 274.15h1v28.15h-1zM1139 274.15h1v28.15h-1zM1142 274.15h2v28.15h-2zM1171 274.15h1v28.15h-1zM1201 274.15h1v28.15h-1zM1219 274.15h1v28.15h-1zM1241 274.15h1v28.15h-1zM1253 274.15h3v28.15h-3zM1256 274.15h1v28.15h-1z" fill="#3820ff" shape-rendering="crispEdges"/>
<path d="M990 274.15h1v28.15h-1zM1031 274.15h1v28.15h-1zM1208 274.15h1v28.15h-1zM1232 274.15h1v28.15h-1z" fill="#845aff" shape-rendering="crispEdges"/>
<path d="M994 274.15h1v28.15h-1zM1040 274.15h1v28.15h-1zM1084 274.15h2v28.15h-2zM1154 274.15h1v28.15h-1zM1206 274.15h1v28.15h-1z" fill="#ffffff" shape-rendering="crispEdges"/>
<path d="M1000 274.15h3v28.15h-3zM1182 274.15h1v28.15h-1z" fill="#d5c2ff" shape-rendering="crispEdges"/>
<path d="M1004 274.15h2v28.15h-2zM1106 274.15h2v28.15h-2zM1135 274.15h2v28.15h-2zM1196 274.15h2v28.15h-2z" fill="#623dff" shape-rendering="crispEdges"/>
<path d="M1035 274.15h1v28.15h-1zM1051 274.15h2v28.15h-2zM1105 274.15h1v28.15h-1zM1147 274.15h1v28.15h-1zM1221 274.15h2v28.15h-2z" fill="#8e65ff" shape-rendering="crispEdges"/>
<path d="M1043 274.15h2v28.15h-2zM1049 274.15h2v28.15h-2zM1055 274.15h2v28.15h-2zM1064 274.15h2v28.15h-2zM1069 274.15h2v28.15h-2zM1075 274.15h1v28.15h-1zM1081 274.15h1v28.15h-1zM1092 274.15h1v28.15h-1zM1109 274.15h1v28.15h-1zM1132 274.15h3v28.15h-3zM1137 274.15h2v28.15h-2zM1144 274.15h3v28.15h-3zM1173 274.15h3v28.15h-3zM1186 274.15h2v28.15h-2zM1191 274.15h1v28.15h-1zM1220 274.15h1v28.15h-1z" fill="#4428ff" shape-rendering="crispEdges"/>
<path d="M1077 274.15h1v28.15h-1zM1202 274.15h2v28.15h-2zM1216 274.15h1v28.15h-1zM1234 274.15h2v28.15h-2zM1236 274.15h2v28.15h-2z" fill="#6e46ff" shape-rendering="crispEdges"/>
<path d="M1090 274.15h2v28.15h-2zM1189 274.15h1v28.15h-1zM1200 274.15h1v28.15h-1z" fill="#7a4eff" shape-rendering="crispEdges"/>
<path d="M1199 274.15h1v28.15h-1z" fill="#9871ff" shape-rendering="crispEdges"/>
<path d="M953 302.30h1v28.15h-1zM981 302.30h1v28.15h-1zM985 302.30h1v28.15h-1zM1008 302.30h1v28.15h-1zM1046 302.30h1v28.15h-1zM1047 302.30h3v28.15h-3zM1055 302.30h1v28.15h-1zM1056 302.30h1v28.15h-1zM1063 302.30h2v28.15h-2zM1103 302.30h1v28.15h-1zM1105 302.30h3v28.15h-3zM1114 302.30h1v28.15h-1zM1127 302.30h1v28.15h-1zM1133 302.30h3v28.15h-3zM1144 302.30h1v28.15h-1zM1150 302.30h1v28.15h-1zM1154 302.30h3v28.15h-3zM1159 302.30h1v28.15h-1zM1205 302.30h1v28.15h-1zM1226 302.30h1v28.15h-1zM1234 302.30h1v28.15h-1zM1239 302.30h2v28.15h-2zM1253 302.30h2v28.15h-2z" fill="#4a2cff" shape-rendering="crispEdges"/>
<path d="M954 302.30h1v28.15h-1zM960 302.30h1v28.15h-1zM963 302.30h2v28.15h-2zM974 302.30h2v28.15h-2zM982 302.30h2v28.15h-2zM991 302.30h1v28.15h-1zM1004 302.30h1v28.15h-1zM1012 302.30h2v28.15h-2zM1017 302.30h1v28.15h-1zM1019 302.30h2v28.15h-2zM1022 302.30h3v28.15h-3zM1057 302.30h1v28.15h-1zM1061 302.30h1v28.15h-1zM1074 302.30h1v28.15h-1zM1078 302.30h1v28.15h-1zM1082 302.30h1v28.15h-1zM1095 302.30h1v28.15h-1zM1131 302.30h1v28.15h-1zM1149 302.30h1v28.15h-1zM1161 302.30h1v28.15h-1zM1164 302.30h1v28.15h-1zM1166 302.30h1v28.15h-1zM1170 302.30h2v28.15h-2zM1207 302.30h2v28.15h-2zM1244 302.30h1v28.15h-1z" fill="#4428ff" shape-rendering="crispEdges"/>
<path d="M955 302.30h2v28.15h-2zM962 302.30h1v28.15h-1zM999 302.30h1v28.15h-1zM1009 302.30h1v28.15h-1zM1016 302.30h1v28.15h-1zM1034 302.30h1v28.15h-1zM1045 302.30h1v28.15h-1zM1087 302.30h1v28.15h-1zM1096 302.30h3v28.15h-3zM1117 302.30h1v28.15h-1zM1138 302.30h1v28.15h-1zM1179 302.30h3v28.15h-3zM1182 302.30h2v28.15h-2zM1189 302.30h3v28.15h-3zM1204 302.30h1v28.15h-1zM1223 302.30h2v28.15h-2zM1233 302.30h1v28.15h-1zM1246 302.30h2v28.15h-2z" fill="#ffffff" shape-rendering="crispEdges"/>
<path d="M957 302.30h1v28.15h-1zM958 302.30h2v28.15h-2zM966 302.30h2v28.15h-2zM969 302.30h1v28.15h-1zM970 302.30h1v28.15h-1zM971 302.30h1v28.15h-1zM979 302.30h1v28.15h-1zM980 302.30h1v28.15h-1zM984 302.30h1v28.15h-1zM987 302.30h1v28.15h-1zM988 302.30h1v28.15h-1zM996 302.30h3v28.15h-3zM1002 302.30h1v28.15h-1zM1010 302.30h1v28.15h-1zM1011 302.30h1v28.15h-1zM1014 302.30h1v28.15h-1zM1015 302.30h1v28.15h-1zM1018 302.30h1v28.15h-1zM1021 302.30h1v28.15h-1zM1025 302.30h1v28.15h-1zM1029 302.30h1v28.15h-1zM1030 302.30h1v28.15h-1zM1032 302.30h1v28.15h-1zM1035 302.30h2v28.15h-2zM1037 302.30h1v28.15h-1zM1041 302.30h2v28.15h-2zM1043 302.30h1v28.15h-1zM1050 302.30h2v28.15h-2zM1052 302.30h2v28.15h-2zM1054 302.30h1v28.15h-1zM1080 302.30h2v28.15h-2zM1089 302.30h1v28.15h-1zM1093 302.30h2v28.15h-2zM1104 302.30h1v28.15h-1zM1109 302.30h1v28.15h-1zM1113 302.30h1v28.15h-1zM1116 302.30h1v28.15h-1zM1118 302.30h1v28.15h-1zM1119 302.30h1v28.15h-1zM1120 302.30h2v28.15h-2zM1122 302.30h2v28.15h-2zM1124 302.30h3v28.15h-3zM1128 302.30h1v28.15h-1zM1136 302.30h2v28.15h-2zM1142 302.30h1v28.15h-1zM1143 302.30h1v28.15h-1zM1151 302.30h1v28.15h-1zM1157 302.30h1v28.15h-1zM1160 302.30h1v28.15h-1zM1168 302.30h1v28.15h-1zM1174 302.30h2v28.15h-2zM1177 302.30h2v28.15h-2zM1212 302.30h3v28.15h-3zM1236 302.30h2v28.15h-2zM1241 302.30h2v28.15h-2z" fill="#0804ff" shape-rendering="crispEdges"/>
<path d="M961 302.30h1v28.15h-1zM1006 302.30h1v28.15h-1zM1044 302.30h1v28.15h-1zM1139 302.30h2v28.15h-2zM1216 302.30h1v28.15h-1zM1251 302.30h1v28.15h-1z" fill="#623dff" shape-rendering="crispEdges"/>
<path d="M965 302.30h1v28.15h-1zM989 302.30h1v28.15h-1zM990 302.30h1v28.15h-1zM1001 302.30h1v28.15h-1zM1031 302.30h1v28.15h-1zM1033 302.30h1v28.15h-1zM1060 302.30h1v28.15h-1zM1069 302.30h2v28.15h-2zM1073 302.30h1v28.15h-1zM1075 302.30h3v28.15h-3zM1083 302.30h1v28.15h-1zM1086 302.30h1v28.15h-1zM1088 302.30h1v28.15h-1zM1092 302.30h1v28.15h-1zM1100 302.30h2v28.15h-2zM1102 302.30h1v28.15h-1zM1110 302.30h3v28.15h-3zM1145 302.30h2v28.15h-2zM1152 302.30h2v28.15h-2zM1158 302.30h1v28.15h-1zM1167 302.30h1v28.15h-1zM1176 302.30h1v28.15h-1zM1194 302.30h3v28.15h-3zM1211 302.30h1v28.15h-1zM1217 302.30h1v28.15h-1zM1235 302.30h1v28.15h-1zM1238 302.30h1v28.15h-1z" fill="#3e24ff" shape-rendering="crispEdges"/>
<path d="M968 302.30h1v28.15h-1zM978 302.30h1v28.15h-1zM992 302.30h1v28.15h-1zM994 302.30h2v28.15h-2zM1003 302.30h1v28.15h-1zM1038 302.30h2v28.15h-2zM1058 302.30h2v28.15h-2zM1062 302.30h1v28.15h-1zM1066 302.30h1v28.15h-1zM1079 302.30h1v28.15h-1zM1090 302.30h1v28.15h-1zM1091 302.30h1v28.15h-1zM1099 302.30h1v28.15h-1zM1108 302.30h1v28.15h-1zM1132 302.30h1v28.15h-1zM1141 302.30h1v28.15h-1zM1147 302.30h2v28.15h-2zM1163 302.30h1v28.15h-1zM1165 302.30h1v28.15h-1zM1172 302.30h2v28.15h-2zM1206 302.30h1v28.15h-1zM1209 302.30h2v28.15h-2zM1243 302.30h1v28.15h-1zM1245 302.30h1v28.15h-1z" fill="#3820ff" shape-rendering="crispEdges"/>
<path d="M972 302.30h2v28.15h-2zM976 302.30h2v28.15h-2zM993 302.30h1v28.15h-1zM1000 302.30h1v28.15h-1zM1005 302.30h1v28.15h-1zM1007 302.30h1v28.15h-1zM1026 302.30h2v28.15h-2zM1028 302.30h1v28.15h-1zM1040 302.30h1v28.15h-1zM1065 302.30h1v28.15h-1zM1072 302.30h1v28.15h-1zM1115 302.30h1v28.15h-1zM1129 302.30h2v28.15h-2zM1215 302.30h1v28.15h-1zM1218 302.30h1v28.15h-1zM1252 302.30h1v28.15h-1z" fill="#321dff" shape-rendering="crispEdges"/>
<path d="M986 302.30h1v28.15h-1z" fill="#8e65ff" shape-rendering="crispEdges"/>
<path d="M1067 302.30h2v28.15h-2zM1162 302.30h1v28.15h-1zM1192 302.30h2v28.15h-2zM1255 302.30h3v28.15h-3z" fill="#b898ff" shape-rendering="crispEdges"/>
<path d="M1071 302.30h1v28.15h-1zM1229 302.30h2v28.15h-2zM1231 302.30h2v28.15h-2z" fill="#845aff" shape-rendering="crispEdges"/>
<path d="M1084 302.30h2v28.15h-2z" fill="#c6adff" shape-rendering="crispEdges"/>
<path d="M1169 302.30h1v28.15h-1zM1187 302.30h1v28.15h-1zM1220 302.30h3v28.15h-3z" fill="#7a4eff" shape-rendering="crispEdges"/>
<path d="M1184 302.30h1v28.15h-1z" fill="#a884ff" shape-rendering="crispEdges"/>
<path d="M1185 302.30h2v28.15h-2zM1199 302.30h1v28.15h-1zM1200 302.30h1v28.15h-1z" fill="#9871ff" shape-rendering="crispEdges"/>
<path d="M1188 302.30h1v28.15h-1z" fill="#d5c2ff" shape-rendering="crispEdges"/>
<path d="M1197 302.30h2v28.15h-2zM1225 302.30h1v28.15h-1zM1227 302.30h2v28.15h-2zM1250 302.30h1v28.15h-1z" fill="#6e46ff" shape-rendering="crispEdges"/>
<path d="M1201 302.30h3v28.15h-3zM1248 302.30h2v28.15h-2z" fill="#ffff00" shape-rendering="crispEdges"/>
<path d="M1219 302.30h1v28.15h-1z" fill="#fff400" shape-rendering="crispEdges"/>
<path d="M953 330.45h2v28.15h-2zM1000 330.45h1v28.15h-1zM1024 330.45h2v28.15h-2zM1054 330.45h1v28.15h-1zM1056 330.45h2v28.15h-2zM1064 330.45h2v28.15h-2zM1088 330.45h1v28.15h-1zM1092 330.45h2v28.15h-2zM1100 330.45h2v28.15h-2zM1129 330.45h1v28.15h-1zM1130 330.45h2v28.15h-2zM1168 330.45h3v28.15h-3zM1174 330.45h1v28.15h-1zM1182 330.45h2v28.15h-2zM1203 330.45h2v28.15h-2zM1209 330.45h3v28.15h-3zM1221 330.45h3v28.15h-3z" fill="#3e24ff" shape-rendering="crispEdges"/>
<path d="M955 330.45h1v28.15h-1zM958 330.45h1v28.15h-1zM965 330.45h1v28.15h-1zM967 330.45h2v28.15h-2zM970 330.45h3v28.15h-3zM973 330.45h2v28.15h-2zM979 330.45h1v28.15h-1zM981 330.45h1v28.15h-1zM992 330.45h1v28.15h-1zM998 330.45h2v28.15h-2zM1022 330.45h2v28.15h-2zM1026 330.45h2v28.15h-2zM1049 330.45h1v28.15h-1zM1097 330.45h2v28.15h-2zM1112 330.45h1v28.15h-1zM1118 330.45h2v28.15h-2zM1122 330.45h2v28.15h-2zM1127 330.45h1v28.15h-1zM1128 330.45h1v28.15h-1zM1132 330.45h3v28.15h-3zM1135 330.45h2v28.15h-2zM1154 330.45h1v28.15h-1zM1166 330.45h1v28.15h-1zM1171 330.45h3v28.15h-3zM1184 330.45h1v28.15h-1zM1185 330.45h1v28.15h-1zM1187 330.45h2v28.15h-2zM1190 330.45h2v28.15h-2zM1197 330.45h1v28.15h-1zM1198 330.45h1v28.15h-1z" fill="#3820ff" shape-rendering="crispEdges"/>
<path d="M956 330.45h2v28.15h-2zM978 330.45h1v28.15h-1zM980 330.45h1v28.15h-1zM1001 330.45h2v28.15h-2zM1015 330.45h1v28.15h-1zM1016 330.45h1v28.15h-1zM1030 330.45h2v28.15h-2zM1037 330.45h1v28.15h-1zM1041 330.45h1v28.15h-1zM1051 330.45h2v28.15h-2zM1053 330.45h1v28.15h-1zM1074 330.45h1v28.15h-1zM1087 330.45h1v28.15h-1zM1089 330.45h2v28.15h-2zM1094 330.45h2v28.15h-2zM1103 330.45h2v28.15h-2zM1108 330.45h2v28.15h-2zM1111 330.45h1v28.15h-1zM1114 330.45h1v28.15h-1zM1120 330.45h1v28.15h-1zM1121 330.45h1v28.15h-1zM1141 330.45h1v28.15h-1zM1156 330.45h2v28.15h-2zM1161 330.45h1v28.15h-1zM1162 330.45h1v28.15h-1zM1195 330.45h2v28.15h-2zM1200 330.45h2v28.15h-2zM1202 330.45h1v28.15h-1zM1231 330.45h2v28.15h-2zM1242 330.45h2v28.15h-2z" fill="#4a2cff" shape-rendering="crispEdges"/>
<path d="M959 330.45h1v28.15h-1zM985 330.45h2v28.15h-2zM987 330.45h1v28.15h-1zM996 330.45h1v28.15h-1zM1018 330.45h2v28.15h-2zM1028 330.45h1v28.15h-1zM1066 330.45h1v28.15h-1zM1067 330.45h1v28.15h-1zM1068 330.45h2v28.15h-2zM1073 330.45h1v28.15h-1zM1080 330.45h1v28.15h-1zM1081 330.45h3v28.15h-3zM1086 330.45h1v28.15h-1zM1113 330.45h1v28.15h-1zM1147 330.45h1v28.15h-1zM1152 330.45h2v28.15h-2zM1160 330.45h1v28.15h-1zM1225 330.45h3v28.15h-3zM1249 330.45h1v28.15h-1zM1257 330.45h1v28.15h-1z" fill="#321dff" shape-rendering="crispEdges"/>
<path d="M960 330.45h2v28.15h-2zM975 330.45h2v28.15h-2zM982 330.45h1v28.15h-1zM997 330.45h1v28.15h-1zM1007 330.45h2v28.15h-2zM1009 330.45h3v28.15h-3zM1013 330.45h2v28.15h-2zM1020 330.45h1v28.15h-1zM1042 330.45h2v28.15h-2zM1045 330.45h2v28.15h-2zM1050 330.45h1v28.15h-1zM1062 330.45h1v28.15h-1zM1070 330.45h2v28.15h-2zM1077 330.45h1v28.15h-1zM1084 330.45h2v28.15h-2zM1102 330.45h1v28.15h-1zM1138 330.45h3v28.15h-3zM1155 330.45h1v28.15h-1zM1163 330.45h2v28.15h-2zM1165 330.45h1v28.15h-1zM1179 330.45h1v28.15h-1zM1180 330.45h2v28.15h-2zM1199 330.45h1v28.15h-1zM1206 330.45h1v28.15h-1zM1217 330.45h1v28.15h-1zM1218 330.45h1v28.15h-1zM1230 330.45h1v28.15h-1z" fill="#4428ff" shape-rendering="crispEdges"/>
<path d="M962 330.45h2v28.15h-2zM964 330.45h1v28.15h-1zM966 330.45h1v28.15h-1zM969 330.45h1v28.15h-1zM977 330.45h1v28.15h-1zM984 330.45h1v28.15h-1zM988 330.45h1v28.15h-1zM989 330.45h1v28.15h-1zM990 330.45h1v28.15h-1zM991 330.45h1v28.15h-1zM993 330.45h1v28.15h-1zM994 330.45h2v28.15h-2zM1003 330.45h2v28.15h-2zM1005 330.45h2v28.15h-2zM1012 330.45h1v28.15h-1zM1021 330.45h1v28.15h-1zM1029 330.45h1v28.15h-1zM1032 330.45h3v28.15h-3zM1035 330.45h1v28.15h-1zM1036 330.45h1v28.15h-1zM1038 330.45h1v28.15h-1zM1040 330.45h1v28.15h-1zM1044 330.45h1v28.15h-1zM1047 330.45h2v28.15h-2zM1055 330.45h1v28.15h-1zM1058 330.45h1v28.15h-1zM1059 330.45h2v28.15h-2zM1063 330.45h1v28.15h-1zM1072 330.45h1v28.15h-1zM1075 330.45h2v28.15h-2zM1078 330.45h2v28.15h-2zM1091 330.45h1v28.15h-1zM1096 330.45h1v28.15h-1zM1099 330.45h1v28.15h-1zM1107 330.45h1v28.15h-1zM1110 330.45h1v28.15h-1zM1115 330.45h2v28.15h-2zM1137 330.45h1v28.15h-1zM1142 330.45h1v28.15h-1zM1143 330.45h2v28.15h-2zM1146 330.45h1v28.15h-1zM1148 330.45h2v28.15h-2zM1150 330.45h2v28.15h-2zM1158 330.45h1v28.15h-1zM1159 330.45h1v28.15h-1zM1167 330.45h1v28.15h-1zM1176 330.45h2v28.15h-2zM1178 330.45h1v28.15h-1zM1186 330.45h1v28.15h-1zM1192 330.45h1v28.15h-1zM1193 330.45h1v28.15h-1zM1194 330.45h1v28.15h-1zM1205 330.45h1v28.15h-1zM1233 330.45h3v28.15h-3zM1250 330.45h1v28.15h-1z" fill="#0804ff" shape-rendering="crispEdges"/>
<path d="M983 330.45h1v28.15h-1zM1061 330.45h1v28.15h-1z" fill="#6e46ff" shape-rendering="crispEdges"/>
<path d="M1017 330.45h1v28.15h-1zM1039 330.45h1v28.15h-1zM1228 330.45h2v28.15h-2zM1237 330.45h2v28.15h-2z" fill="#ffffff" shape-rendering="crispEdges"/>
<path d="M1105 330.45h1v28.15h-1zM1126 330.45h1v28.15h-1zM1244 330.45h3v28.15h-3z" fill="#fff400" shape-rendering="crispEdges"/>
<path d="M1106 330.45h1v28.15h-1zM1124 330.45h2v28.15h-2zM1236 330.45h1v28.15h-1zM1247 330.45h1v28.15h-1zM1254 330.45h3v28.15h-3z" fill="#8e65ff" shape-rendering="crispEdges"/>
<path d="M1117 330.45h1v28.15h-1zM1189 330.45h1v28.15h-1zM1215 330.45h2v28.15h-2zM1224 330.45h1v28.15h-1z" fill="#845aff" shape-rendering="crispEdges"/>
<path d="M1145 330.45h1v28.15h-1zM1175 330.45h1v28.15h-1z" fill="#7a4eff" shape-rendering="crispEdges"/>
<path d="M1207 330.45h2v28.15h-2zM1213 330.45h2v28.15h-2zM1219 330.45h2v28.15h-2zM1248 330.45h1v28.15h-1z" fill="#623dff" shape-rendering="crispEdges"/>
<path d="M1212 330.45h1v28.15h-1z" fill="#fffa00" shape-rendering="crispEdges"/>
<path d="M1239 330.45h3v28.15h-3z" fill="#9871ff" shape-rendering="crispEdges"/>
<path d="M1251 330.45h1v28.15h-1z" fill="#a884ff" shape-rendering="crispEdges"/>
<path d="M1252 330.45h2v28.15h-2z" fill="#d5c2ff" shape-rendering="crispEdges"/>
<rect x="1050" y="133.40" width="5.5" height="28.15" fill="#ffff00"/><rect x="1058.5" y="133.40" width="5" height="28.15" fill="#ffff00"/>
<rect x="953.0" y="161.55" width="2.4" height="28.15" fill="#ffff00"/>
<rect x="953.0" y="217.85" width="2.4" height="28.15" fill="#ffff00"/>
<rect x="953.0" y="359.1" width="31.9" height="13.5" fill="#c8fa14"/>
<rect x="984.6" y="359.1" width="82.8" height="13.5" fill="#14cd14"/>
<rect x="1067.1" y="359.1" width="25.2" height="13.5" fill="#8ec0ff"/>
<rect x="1092.0" y="359.1" width="87.2" height="13.5" fill="#dc50ff"/>
<rect x="1178.9" y="359.1" width="30.1" height="13.5" fill="#ff5a8c"/>
<rect x="1208.7" y="359.1" width="49.0" height="13.5" fill="#fa0a14"/>
<path d="M897.5 34.9H950.3M897.5 34.9V114.1M897.5 114.1H930.4M930.4 76.9V152.5M930.4 76.9H940.3M940.3 63.0V91.2M940.3 63.0H950.3M940.3 91.2H950.3M930.4 152.5H935.9M935.9 119.3V185.3M935.9 119.3H950.3M935.9 185.3H940.3M940.3 147.5V223.7M940.3 147.5H950.3M940.3 223.7H942.5M942.5 189.7V258.8M942.5 189.7H944.6M944.6 175.6V203.8M944.6 175.6H950.3M944.6 203.8H950.3M942.5 258.8H943.2M943.2 231.9V287.0M943.2 231.9H950.3M943.2 287.0H944.2M944.2 260.1V309.0M944.2 260.1H950.3M944.2 309.0H945.3M945.3 288.2V330.4M945.3 288.2H950.3M945.3 330.4H946.4M946.4 316.4V344.5M946.4 316.4H950.3M946.4 344.5H950.3" stroke="#555" stroke-width="1" fill="none"/>
<text x="1263.2" y="48.8" font-size="25.7" textLength="280.3" lengthAdjust="spacingAndGlyphs">ANIsp_000_s:Escherichia_coli</text>
<text x="1263.2" y="76.9" font-size="25.7" textLength="279.5" lengthAdjust="spacingAndGlyphs">ANIsp_001_g:Prevotella_copri</text>
<text x="1263.2" y="105.0" font-size="25.7" textLength="447.0" lengthAdjust="spacingAndGlyphs">ANIsp_002_g:Prevotella (P. copri A by GTDBTk)</text>
<text x="1263.2" y="133.2" font-size="25.7" textLength="344.7" lengthAdjust="spacingAndGlyphs">ANIsp_040_s:Klebsiella_pneumoniae</text>
<text x="1263.2" y="161.4" font-size="25.7" textLength="352.9" lengthAdjust="spacingAndGlyphs">ANIsp_003_s:Bifidobacterium_longum</text>
<text x="1263.2" y="189.5" font-size="25.7" textLength="392.3" lengthAdjust="spacingAndGlyphs">ANIsp_005_s:Faecalibacterium_prausnitzii</text>
<text x="1263.2" y="217.7" font-size="25.7" textLength="332.0" lengthAdjust="spacingAndGlyphs">ANIsp_004_s:Phocaeicola_vulgatus</text>
<text x="1263.2" y="245.8" font-size="25.7" textLength="287.7" lengthAdjust="spacingAndGlyphs">ANIsp_020_s:Blautia_wexlerae</text>
<text x="1263.2" y="273.9" font-size="25.7" textLength="310.6" lengthAdjust="spacingAndGlyphs">ANIsp_006_s:Bacteroides_fragilis</text>
<text x="1263.2" y="302.1" font-size="25.7" textLength="311.4" lengthAdjust="spacingAndGlyphs">ANIsp_012_s:Bacteroides_ovatus</text>
<text x="1263.2" y="330.2" font-size="25.7" textLength="332.0" lengthAdjust="spacingAndGlyphs">ANIsp_010_s:[Eubacterium]_rectale</text>
<text x="1263.2" y="358.4" font-size="25.7" textLength="262.6" lengthAdjust="spacingAndGlyphs">ANIsp_014_f:Prevotellaceae</text>
<text x="971.9" y="435.0" font-size="20.5" textLength="54.5" lengthAdjust="spacingAndGlyphs" transform="rotate(-90 971.9 435.0)">A_ATL</text>
<text x="1030.0" y="458.1" font-size="20.5" textLength="83.3" lengthAdjust="spacingAndGlyphs" transform="rotate(-90 1030.0 458.1)">A_Maputo</text>
<text x="1086.9" y="434.5" font-size="20.5" textLength="54.3" lengthAdjust="spacingAndGlyphs" transform="rotate(-90 1086.9 434.5)">B_ATL</text>
<text x="1136.8" y="458.1" font-size="20.5" textLength="83.3" lengthAdjust="spacingAndGlyphs" transform="rotate(-90 1136.8 458.1)">B_Maputo</text>
<text x="1201.3" y="435.0" font-size="20.5" textLength="54.8" lengthAdjust="spacingAndGlyphs" transform="rotate(-90 1201.3 435.0)">C_ATL</text>
<text x="1238.5" y="458.9" font-size="20.5" textLength="84.1" lengthAdjust="spacingAndGlyphs" transform="rotate(-90 1238.5 458.9)">C_Maputo</text>
<text x="1762.8" y="222.9" font-size="20.5" textLength="110.0" lengthAdjust="spacingAndGlyphs">A portion of</text>
<text x="1762.8" y="250.3" font-size="20.5" textLength="94.0" lengthAdjust="spacingAndGlyphs">total ARGs</text>
<defs><linearGradient id="gb" x1="0" y1="0" x2="0" y2="1"><stop offset="0" stop-color="#ff0000"/><stop offset="0.10" stop-color="#ff0000"/><stop offset="0.25" stop-color="#ff4d00"/><stop offset="0.42" stop-color="#ff8000"/><stop offset="0.60" stop-color="#ffb000"/><stop offset="0.80" stop-color="#ffee00"/><stop offset="0.885" stop-color="#ffff00"/><stop offset="0.935" stop-color="#ffffff"/><stop offset="0.955" stop-color="#e0d0ff"/><stop offset="0.985" stop-color="#0000ff"/><stop offset="1" stop-color="#0000ff"/></linearGradient></defs>
<rect x="1786.3" y="266.7" width="22.7" height="128.8" fill="url(#gb)"/>
<line x1="1804" x2="1809" y1="268.8" y2="268.8" stroke="#fff" stroke-opacity="0.6" stroke-width="0.6"/>
<text x="1814.2" y="275.7" font-size="17" textLength="9.5" lengthAdjust="spacingAndGlyphs">1</text>
<line x1="1804" x2="1809" y1="293.0" y2="293.0" stroke="#fff" stroke-opacity="0.6" stroke-width="0.6"/>
<text x="1814.2" y="299.9" font-size="17" textLength="25.5" lengthAdjust="spacingAndGlyphs">0.8</text>
<line x1="1804" x2="1809" y1="317.6" y2="317.6" stroke="#fff" stroke-opacity="0.6" stroke-width="0.6"/>
<text x="1814.2" y="324.5" font-size="17" textLength="25.5" lengthAdjust="spacingAndGlyphs">0.6</text>
<line x1="1804" x2="1809" y1="342.0" y2="342.0" stroke="#fff" stroke-opacity="0.6" stroke-width="0.6"/>
<text x="1814.2" y="348.9" font-size="17" textLength="25.5" lengthAdjust="spacingAndGlyphs">0.4</text>
<line x1="1804" x2="1809" y1="366.4" y2="366.4" stroke="#fff" stroke-opacity="0.6" stroke-width="0.6"/>
<text x="1814.2" y="373.3" font-size="17" textLength="25.5" lengthAdjust="spacingAndGlyphs">0.2</text>
<line x1="1804" x2="1809" y1="391.2" y2="391.2" stroke="#fff" stroke-opacity="0.6" stroke-width="0.6"/>
<text x="1814.2" y="398.1" font-size="17" textLength="9.5" lengthAdjust="spacingAndGlyphs">0</text>
</g>
<g id="panelC">
<text x="41.5" y="510.8" font-size="26" textLength="31.5" lengthAdjust="spacingAndGlyphs">(C)</text>
<rect x="118.6" y="573.17" width="40.2" height="2.76" fill="#e6194b"/>
<rect x="118.6" y="575.73" width="40.2" height="0.93" fill="#3cb44b"/>
<rect x="118.6" y="576.46" width="40.2" height="1.30" fill="#ffe119"/>
<rect x="118.6" y="577.56" width="40.2" height="1.30" fill="#bcf60c"/>
<rect x="118.6" y="578.66" width="40.2" height="15.93" fill="#ff8833"/>
<rect x="118.6" y="594.39" width="40.2" height="3.49" fill="#911eb4"/>
<rect x="118.6" y="597.68" width="40.2" height="9.35" fill="#46f0f0"/>
<rect x="118.6" y="606.82" width="40.2" height="0.75" fill="#f032e6"/>
<rect x="118.6" y="607.37" width="40.2" height="15.75" fill="#ffc0c0"/>
<rect x="118.6" y="622.92" width="40.2" height="4.59" fill="#008080"/>
<rect x="118.6" y="627.31" width="40.2" height="8.61" fill="#e6beff"/>
<rect x="118.6" y="635.73" width="40.2" height="137.75" fill="#9a6324"/>
<rect x="118.6" y="773.28" width="40.2" height="2.94" fill="#fffac8"/>
<rect x="118.6" y="776.02" width="40.2" height="21.60" fill="#800000"/>
<rect x="118.6" y="797.42" width="40.2" height="24.53" fill="#aaffc3"/>
<rect x="118.6" y="821.75" width="40.2" height="1.85" fill="#808000"/>
<rect x="163.2" y="555.06" width="40.3" height="6.78" fill="#e6194b"/>
<rect x="163.2" y="561.64" width="40.3" height="2.39" fill="#3cb44b"/>
<rect x="163.2" y="563.84" width="40.3" height="1.66" fill="#ffe119"/>
<rect x="163.2" y="565.30" width="40.3" height="21.05" fill="#ff8833"/>
<rect x="163.2" y="586.16" width="40.3" height="2.39" fill="#911eb4"/>
<rect x="163.2" y="588.35" width="40.3" height="10.63" fill="#46f0f0"/>
<rect x="163.2" y="598.78" width="40.3" height="2.94" fill="#f032e6"/>
<rect x="163.2" y="601.52" width="40.3" height="28.19" fill="#ffc0c0"/>
<rect x="163.2" y="629.51" width="40.3" height="8.07" fill="#008080"/>
<rect x="163.2" y="637.37" width="40.3" height="8.07" fill="#e6beff"/>
<rect x="163.2" y="645.24" width="40.3" height="114.52" fill="#9a6324"/>
<rect x="163.2" y="759.56" width="40.3" height="2.94" fill="#fffac8"/>
<rect x="163.2" y="762.30" width="40.3" height="18.67" fill="#800000"/>
<rect x="163.2" y="780.78" width="40.3" height="39.89" fill="#aaffc3"/>
<rect x="163.2" y="820.47" width="40.3" height="3.13" fill="#808000"/>
<rect x="207.9" y="716.94" width="40.2" height="2.21" fill="#e6194b"/>
<rect x="207.9" y="718.95" width="40.2" height="1.85" fill="#3cb44b"/>
<rect x="207.9" y="720.60" width="40.2" height="7.15" fill="#ff8833"/>
<rect x="207.9" y="727.55" width="40.2" height="4.59" fill="#46f0f0"/>
<rect x="207.9" y="731.94" width="40.2" height="11.54" fill="#ffc0c0"/>
<rect x="207.9" y="743.28" width="40.2" height="1.85" fill="#008080"/>
<rect x="207.9" y="744.93" width="40.2" height="2.21" fill="#e6beff"/>
<rect x="207.9" y="746.94" width="40.2" height="43.37" fill="#9a6324"/>
<rect x="207.9" y="790.11" width="40.2" height="2.03" fill="#fffac8"/>
<rect x="207.9" y="791.94" width="40.2" height="5.69" fill="#800000"/>
<rect x="207.9" y="797.42" width="40.2" height="24.71" fill="#aaffc3"/>
<rect x="207.9" y="821.93" width="40.2" height="1.66" fill="#808000"/>
<rect x="252.3" y="535.12" width="40.3" height="7.52" fill="#e6194b"/>
<rect x="252.3" y="542.44" width="40.3" height="2.39" fill="#3cb44b"/>
<rect x="252.3" y="544.63" width="40.3" height="2.39" fill="#ffe119"/>
<rect x="252.3" y="546.83" width="40.3" height="23.06" fill="#ff8833"/>
<rect x="252.3" y="569.69" width="40.3" height="2.58" fill="#911eb4"/>
<rect x="252.3" y="572.07" width="40.3" height="11.54" fill="#46f0f0"/>
<rect x="252.3" y="583.41" width="40.3" height="3.49" fill="#f032e6"/>
<rect x="252.3" y="586.70" width="40.3" height="30.38" fill="#ffc0c0"/>
<rect x="252.3" y="616.88" width="40.3" height="9.35" fill="#008080"/>
<rect x="252.3" y="626.03" width="40.3" height="9.16" fill="#e6beff"/>
<rect x="252.3" y="634.99" width="40.3" height="118.73" fill="#9a6324"/>
<rect x="252.3" y="753.52" width="40.3" height="2.94" fill="#fffac8"/>
<rect x="252.3" y="756.27" width="40.3" height="21.24" fill="#800000"/>
<rect x="252.3" y="777.30" width="40.3" height="43.37" fill="#aaffc3"/>
<rect x="252.3" y="820.47" width="40.3" height="3.13" fill="#808000"/>
<rect x="296.9" y="733.04" width="40.1" height="2.03" fill="#e6194b"/>
<rect x="296.9" y="734.87" width="40.1" height="2.03" fill="#3cb44b"/>
<rect x="296.9" y="736.69" width="40.1" height="7.15" fill="#ff8833"/>
<rect x="296.9" y="743.65" width="40.1" height="3.13" fill="#46f0f0"/>
<rect x="296.9" y="746.57" width="40.1" height="12.64" fill="#ffc0c0"/>
<rect x="296.9" y="759.01" width="40.1" height="2.39" fill="#008080"/>
<rect x="296.9" y="761.21" width="40.1" height="0.93" fill="#4363d8"/>
<rect x="296.9" y="761.94" width="40.1" height="1.30" fill="#e6beff"/>
<rect x="296.9" y="763.03" width="40.1" height="31.48" fill="#9a6324"/>
<rect x="296.9" y="794.31" width="40.1" height="1.85" fill="#fffac8"/>
<rect x="296.9" y="795.96" width="40.1" height="3.49" fill="#800000"/>
<rect x="296.9" y="799.25" width="40.1" height="22.52" fill="#aaffc3"/>
<rect x="296.9" y="821.57" width="40.1" height="2.03" fill="#808000"/>
<rect x="341.6" y="645.05" width="40.2" height="3.31" fill="#e6194b"/>
<rect x="341.6" y="648.16" width="40.2" height="2.76" fill="#3cb44b"/>
<rect x="341.6" y="650.72" width="40.2" height="1.30" fill="#ffe119"/>
<rect x="341.6" y="651.82" width="40.2" height="19.59" fill="#ff8833"/>
<rect x="341.6" y="671.21" width="40.2" height="3.49" fill="#46f0f0"/>
<rect x="341.6" y="674.50" width="40.2" height="1.66" fill="#f032e6"/>
<rect x="341.6" y="675.97" width="40.2" height="28.00" fill="#ffc0c0"/>
<rect x="341.6" y="703.77" width="40.2" height="9.71" fill="#008080"/>
<rect x="341.6" y="713.28" width="40.2" height="3.49" fill="#e6beff"/>
<rect x="341.6" y="716.57" width="40.2" height="52.33" fill="#9a6324"/>
<rect x="341.6" y="768.70" width="40.2" height="2.39" fill="#fffac8"/>
<rect x="341.6" y="770.90" width="40.2" height="6.60" fill="#800000"/>
<rect x="341.6" y="777.30" width="40.2" height="42.82" fill="#aaffc3"/>
<rect x="341.6" y="819.92" width="40.2" height="3.68" fill="#808000"/>
<path d="M112.4 535.5V823.7H388.2" stroke="#666" stroke-width="1" fill="none"/>
<line x1="109.4" x2="112.4" y1="823.7" y2="823.7" stroke="#666" stroke-width="1"/>
<text x="93.6" y="826.9" font-size="17.5" textLength="11.9" lengthAdjust="spacingAndGlyphs">0</text>
<line x1="109.4" x2="112.4" y1="745.1" y2="745.1" stroke="#666" stroke-width="1"/>
<text x="93.6" y="748.3" font-size="17.5" textLength="11.9" lengthAdjust="spacingAndGlyphs">2</text>
<line x1="109.4" x2="112.4" y1="666.6" y2="666.6" stroke="#666" stroke-width="1"/>
<text x="93.6" y="669.8" font-size="17.5" textLength="11.9" lengthAdjust="spacingAndGlyphs">4</text>
<line x1="109.4" x2="112.4" y1="588.1" y2="588.1" stroke="#666" stroke-width="1"/>
<text x="93.6" y="591.3" font-size="17.5" textLength="11.9" lengthAdjust="spacingAndGlyphs">6</text>
<line x1="138.7" x2="138.7" y1="823.7" y2="826.9" stroke="#666" stroke-width="1"/>
<line x1="183.3" x2="183.3" y1="823.7" y2="826.9" stroke="#666" stroke-width="1"/>
<line x1="228.0" x2="228.0" y1="823.7" y2="826.9" stroke="#666" stroke-width="1"/>
<line x1="272.5" x2="272.5" y1="823.7" y2="826.9" stroke="#666" stroke-width="1"/>
<line x1="316.9" x2="316.9" y1="823.7" y2="826.9" stroke="#666" stroke-width="1"/>
<line x1="361.7" x2="361.7" y1="823.7" y2="826.9" stroke="#666" stroke-width="1"/>
<text x="74.3" y="868.8" font-size="25.8" textLength="336.5" lengthAdjust="spacingAndGlyphs" transform="rotate(-90 74.3 868.8)">Median of Genome equivalents</text>
<text x="144.0" y="905.3" font-size="23.2" textLength="60.8" lengthAdjust="spacingAndGlyphs" transform="rotate(-90 144.0 905.3)">A_ATL</text>
<text x="188.5" y="925.8" font-size="23.2" textLength="93.4" lengthAdjust="spacingAndGlyphs" transform="rotate(-90 188.5 925.8)">A_Maputo</text>
<text x="232.7" y="904.7" font-size="23.2" textLength="60.2" lengthAdjust="spacingAndGlyphs" transform="rotate(-90 232.7 904.7)">B_ATL</text>
<text x="277.4" y="925.8" font-size="23.2" textLength="93.4" lengthAdjust="spacingAndGlyphs" transform="rotate(-90 277.4 925.8)">B_Maputo</text>
<text x="321.8" y="905.3" font-size="23.2" textLength="60.8" lengthAdjust="spacingAndGlyphs" transform="rotate(-90 321.8 905.3)">C_ATL</text>
<text x="366.6" y="926.2" font-size="23.2" textLength="93.8" lengthAdjust="spacingAndGlyphs" transform="rotate(-90 366.6 926.2)">C_Maputo</text>
<text x="404.0" y="534.5" font-size="21.4" font-weight="bold" textLength="170.0" lengthAdjust="spacingAndGlyphs">Antibiotic Class</text>
<rect x="404" y="563.50" width="14.5" height="13.4" fill="#e6194b"/>
<text x="426.8" y="575.5" font-size="19.5" textLength="168.3" lengthAdjust="spacingAndGlyphs">diaminopyrimidine</text>
<text x="769.9" y="577.3" font-size="17.2">***</text>
<text x="807.6" y="577.3" font-size="17.2">***</text>
<text x="845.6" y="577.3" font-size="17.2">*</text>
<rect x="404" y="578.37" width="14.5" height="13.4" fill="#3cb44b"/>
<text x="426.8" y="590.5" font-size="19.5" textLength="127.1" lengthAdjust="spacingAndGlyphs">oxazolidinone</text>
<text x="769.9" y="592.8" font-size="17.2">***</text>
<text x="807.6" y="592.8" font-size="17.2">**</text>
<text x="845.6" y="592.8" font-size="17.2">***</text>
<rect x="404" y="593.24" width="14.5" height="13.4" fill="#ffe119"/>
<text x="426.8" y="605.5" font-size="19.5" textLength="91.5" lengthAdjust="spacingAndGlyphs">polymyxin</text>
<text x="807.6" y="608.2" font-size="17.2">***</text>
<text x="845.6" y="608.2" font-size="17.2">*</text>
<rect x="404" y="608.11" width="14.5" height="13.4" fill="#4363d8"/>
<text x="426.8" y="620.4" font-size="19.5" textLength="82.3" lengthAdjust="spacingAndGlyphs">rifamycin</text>
<text x="807.6" y="623.6" font-size="17.2">***</text>
<rect x="404" y="622.98" width="14.5" height="13.4" fill="#ff8833"/>
<text x="426.8" y="635.4" font-size="19.5" textLength="68.3" lengthAdjust="spacingAndGlyphs">peptide</text>
<text x="807.6" y="639.1" font-size="17.2">***</text>
<text x="845.6" y="639.1" font-size="17.2">***</text>
<rect x="404" y="637.85" width="14.5" height="13.4" fill="#911eb4"/>
<text x="426.8" y="650.4" font-size="19.5" textLength="299.1" lengthAdjust="spacingAndGlyphs">aminoglycoside_aminocoumarin</text>
<text x="807.6" y="654.5" font-size="17.2">**</text>
<rect x="404" y="652.72" width="14.5" height="13.4" fill="#46f0f0"/>
<text x="426.8" y="665.4" font-size="19.5" textLength="143.8" lengthAdjust="spacingAndGlyphs">aminoglycoside</text>
<text x="807.6" y="670.0" font-size="17.2">**</text>
<rect x="404" y="667.59" width="14.5" height="13.4" fill="#f032e6"/>
<text x="426.8" y="680.4" font-size="19.5" textLength="112.3" lengthAdjust="spacingAndGlyphs">sulfonamide</text>
<text x="769.9" y="685.4" font-size="17.2">***</text>
<text x="807.6" y="685.4" font-size="17.2">***</text>
<text x="845.6" y="685.4" font-size="17.2">***</text>
<rect x="404" y="682.46" width="14.5" height="13.4" fill="#bcf60c"/>
<text x="426.8" y="695.3" font-size="19.5" textLength="77.0" lengthAdjust="spacingAndGlyphs">triclosan</text>
<text x="807.6" y="700.9" font-size="17.2">***</text>
<rect x="404" y="697.33" width="14.5" height="13.4" fill="#ffc0c0"/>
<text x="426.8" y="710.3" font-size="19.5" textLength="107.8" lengthAdjust="spacingAndGlyphs">beta.lactam</text>
<text x="769.9" y="716.3" font-size="17.2">***</text>
<text x="807.6" y="716.3" font-size="17.2">***</text>
<text x="845.6" y="716.3" font-size="17.2">**</text>
<rect x="404" y="712.20" width="14.5" height="13.4" fill="#008080"/>
<text x="426.8" y="725.3" font-size="19.5" textLength="126.1" lengthAdjust="spacingAndGlyphs">fosmidomycin</text>
<text x="769.9" y="731.8" font-size="17.2">**</text>
<text x="807.6" y="731.8" font-size="17.2">***</text>
<text x="845.6" y="731.8" font-size="17.2">***</text>
<rect x="404" y="727.07" width="14.5" height="13.4" fill="#e6beff"/>
<text x="426.8" y="740.3" font-size="19.5" textLength="142.3" lengthAdjust="spacingAndGlyphs">fluoroquinolone</text>
<text x="807.6" y="747.2" font-size="17.2">***</text>
<text x="845.6" y="747.2" font-size="17.2">**</text>
<rect x="404" y="741.94" width="14.5" height="13.4" fill="#9a6324"/>
<text x="426.8" y="755.3" font-size="19.5" textLength="85.0" lengthAdjust="spacingAndGlyphs">multidrug</text>
<text x="807.6" y="762.7" font-size="17.2">***</text>
<text x="845.6" y="762.7" font-size="17.2">**</text>
<rect x="404" y="756.81" width="14.5" height="13.4" fill="#fffac8"/>
<text x="426.8" y="770.2" font-size="19.5" textLength="128.1" lengthAdjust="spacingAndGlyphs">nitroimidazole</text>
<text x="807.6" y="778.1" font-size="17.2">**</text>
<text x="845.6" y="778.1" font-size="17.2">*</text>
<rect x="404" y="771.68" width="14.5" height="13.4" fill="#800000"/>
<text x="426.8" y="785.2" font-size="19.5" textLength="108.3" lengthAdjust="spacingAndGlyphs">unclassified</text>
<text x="807.6" y="793.6" font-size="17.2">**</text>
<rect x="404" y="786.55" width="14.5" height="13.4" fill="#aaffc3"/>
<text x="426.8" y="800.2" font-size="19.5" textLength="104.6" lengthAdjust="spacingAndGlyphs">tetracycline</text>
<text x="769.9" y="809.0" font-size="17.2">***</text>
<text x="807.6" y="809.0" font-size="17.2">***</text>
<text x="845.6" y="809.0" font-size="17.2">***</text>
<rect x="404" y="801.42" width="14.5" height="13.4" fill="#808000"/>
<text x="426.8" y="815.2" font-size="19.5" textLength="117.6" lengthAdjust="spacingAndGlyphs">pleuromutilin</text>
<text x="769.9" y="824.5" font-size="17.2">***</text>
<text x="807.6" y="824.5" font-size="17.2">***</text>
<text x="845.6" y="824.5" font-size="17.2">***</text>
<text x="770.8" y="546.0" font-size="22.5" fill="#444" textLength="15.4" lengthAdjust="spacingAndGlyphs">A</text>
<text x="805.8" y="546.0" font-size="22.5" fill="#444" textLength="16.0" lengthAdjust="spacingAndGlyphs">B</text>
<text x="837.8" y="546.0" font-size="22.5" fill="#444" textLength="17.6" lengthAdjust="spacingAndGlyphs">C</text>
<text x="429.5" y="864.0" font-size="20.5" textLength="267.0" lengthAdjust="spacingAndGlyphs">Padj 0.05 * 0.01 ** 0.001 ***</text>
</g>
<g id="panelD">
<text x="19.5" y="972.0" font-size="26" textLength="33.2" lengthAdjust="spacingAndGlyphs">(D)</text>
<text x="1053.4" y="864.9" font-size="23.5" font-weight="bold" textLength="220.5" lengthAdjust="spacingAndGlyphs"># of gene/genome</text>
<defs><linearGradient id="gd" x1="0" y1="0" x2="1" y2="0"><stop offset="0" stop-color="#ffffff"/><stop offset="0.05" stop-color="#fbfff6"/><stop offset="0.25" stop-color="#b4ffa4"/><stop offset="0.475" stop-color="#00ff00"/><stop offset="0.6" stop-color="#98e000"/><stop offset="0.72" stop-color="#ccb400"/><stop offset="0.85" stop-color="#f27400"/><stop offset="0.96" stop-color="#ff1800"/><stop offset="0.965" stop-color="#ff0000"/><stop offset="1" stop-color="#ff0000"/></linearGradient></defs>
<rect x="1051.5" y="886.2" width="209.4" height="26.4" fill="url(#gd)"/>
<rect x="1150.5" y="886.4" width="0.8" height="26.2" fill="#8f8" opacity="0.7"/>
<rect x="1252" y="886.4" width="0.8" height="26.2" fill="#fff" opacity="0.5"/>
<text x="1040.0" y="943.2" font-size="26" textLength="14.6" lengthAdjust="spacingAndGlyphs">0</text>
<text x="1147.5" y="943.2" font-size="26" textLength="12.5" lengthAdjust="spacingAndGlyphs">1</text>
<text x="1249.0" y="940.3" font-size="26" textLength="14.4" lengthAdjust="spacingAndGlyphs">2</text>
<text x="1338.5" y="837.3" font-size="25" font-weight="bold" textLength="503.5" lengthAdjust="spacingAndGlyphs">Co-occurrence of ARGs (1 ARG/genome)</text>
<text x="1338.5" y="869.1" font-size="25" font-weight="bold" textLength="499.0" lengthAdjust="spacingAndGlyphs">and mobile elements on the same contig</text>
<rect x="1342.2" y="886.9" width="29.7" height="24.8" fill="#0000ff"/>
<path d="M54.30 995.00H67.95V1009.91H54.30zM1364.70 1024.82H1378.35V1039.74H1364.70zM231.75 1069.56H259.05V1084.47H231.75zM313.65 1069.56H327.30V1084.47H313.65zM409.20 1069.56H422.85V1084.47H409.20zM586.65 1069.56H600.30V1084.47H586.65zM627.60 1069.56H668.55V1084.47H627.60zM682.20 1069.56H695.85V1084.47H682.20zM750.45 1069.56H764.10V1084.47H750.45zM818.70 1069.56H832.35V1084.47H818.70zM859.65 1069.56H873.30V1084.47H859.65zM900.60 1069.56H914.25V1084.47H900.60zM1037.10 1069.56H1064.40V1084.47H1037.10zM1119.00 1069.56H1132.65V1084.47H1119.00zM1146.30 1069.56H1159.95V1084.47H1146.30zM1296.45 1069.56H1323.75V1084.47H1296.45zM1364.70 1069.56H1378.35V1084.47H1364.70zM1419.30 1069.56H1432.95V1084.47H1419.30zM1446.60 1069.56H1460.25V1084.47H1446.60zM1514.85 1069.56H1528.50V1084.47H1514.85zM1583.10 1069.56H1596.75V1084.47H1583.10zM1624.05 1069.56H1637.70V1084.47H1624.05zM231.75 1084.47H259.05V1099.38H231.75zM313.65 1084.47H327.30V1099.38H313.65zM340.95 1084.47H354.60V1099.38H340.95zM395.55 1084.47H422.85V1099.38H395.55zM532.05 1084.47H545.70V1099.38H532.05zM613.95 1084.47H668.55V1099.38H613.95zM682.20 1084.47H695.85V1099.38H682.20zM736.80 1084.47H764.10V1099.38H736.80zM818.70 1084.47H846.00V1099.38H818.70zM859.65 1084.47H873.30V1099.38H859.65zM1050.75 1084.47H1064.40V1099.38H1050.75zM1119.00 1084.47H1132.65V1099.38H1119.00zM1146.30 1084.47H1159.95V1099.38H1146.30zM1214.55 1084.47H1228.20V1099.38H1214.55zM1282.80 1084.47H1323.75V1099.38H1282.80zM1364.70 1084.47H1378.35V1099.38H1364.70zM1419.30 1084.47H1432.95V1099.38H1419.30zM1446.60 1084.47H1460.25V1099.38H1446.60zM1487.55 1084.47H1542.15V1099.38H1487.55zM1624.05 1084.47H1637.70V1099.38H1624.05zM67.95 1099.38H81.60V1114.30H67.95zM190.80 1099.38H204.45V1114.30H190.80zM300.00 1099.38H313.65V1114.30H300.00zM340.95 1099.38H381.90V1114.30H340.95zM491.10 1099.38H504.75V1114.30H491.10zM832.35 1099.38H846.00V1114.30H832.35zM873.30 1099.38H886.95V1114.30H873.30zM900.60 1099.38H941.55V1114.30H900.60zM996.15 1099.38H1009.80V1114.30H996.15zM1037.10 1099.38H1050.75V1114.30H1037.10zM1078.05 1099.38H1091.70V1114.30H1078.05zM1214.55 1099.38H1228.20V1114.30H1214.55zM1282.80 1099.38H1310.10V1114.30H1282.80zM1378.35 1099.38H1392.00V1114.30H1378.35zM1473.90 1099.38H1501.20V1114.30H1473.90zM1583.10 1099.38H1596.75V1114.30H1583.10zM1624.05 1099.38H1637.70V1114.30H1624.05zM177.15 1114.30H190.80V1129.21H177.15zM272.70 1114.30H286.35V1129.21H272.70zM327.30 1114.30H340.95V1129.21H327.30zM532.05 1114.30H559.35V1129.21H532.05zM600.30 1114.30H613.95V1129.21H600.30zM654.90 1114.30H668.55V1129.21H654.90zM736.80 1114.30H750.45V1129.21H736.80zM805.05 1114.30H832.35V1129.21H805.05zM886.95 1114.30H900.60V1129.21H886.95zM941.55 1114.30H955.20V1129.21H941.55zM968.85 1114.30H982.50V1129.21H968.85zM1050.75 1114.30H1064.40V1129.21H1050.75zM1241.85 1114.30H1255.50V1129.21H1241.85zM1351.05 1114.30H1364.70V1129.21H1351.05zM1419.30 1114.30H1432.95V1129.21H1419.30zM1460.25 1114.30H1473.90V1129.21H1460.25zM1501.20 1114.30H1528.50V1129.21H1501.20zM1610.40 1114.30H1624.05V1129.21H1610.40zM108.90 1129.21H122.55V1144.12H108.90zM204.45 1129.21H231.75V1144.12H204.45zM245.40 1129.21H259.05V1144.12H245.40zM286.35 1129.21H300.00V1144.12H286.35zM313.65 1129.21H327.30V1144.12H313.65zM381.90 1129.21H395.55V1144.12H381.90zM422.85 1129.21H491.10V1144.12H422.85zM504.75 1129.21H532.05V1144.12H504.75zM559.35 1129.21H573.00V1144.12H559.35zM586.65 1129.21H600.30V1144.12H586.65zM641.25 1129.21H654.90V1144.12H641.25zM668.55 1129.21H682.20V1144.12H668.55zM695.85 1129.21H709.50V1144.12H695.85zM764.10 1129.21H777.75V1144.12H764.10zM982.50 1129.21H996.15V1144.12H982.50zM1064.40 1129.21H1078.05V1144.12H1064.40zM1173.60 1129.21H1187.25V1144.12H1173.60zM1255.50 1129.21H1269.15V1144.12H1255.50zM1323.75 1129.21H1337.40V1144.12H1323.75zM1364.70 1129.21H1378.35V1144.12H1364.70zM1392.00 1129.21H1405.65V1144.12H1392.00zM1528.50 1129.21H1542.15V1144.12H1528.50zM1569.45 1129.21H1583.10V1144.12H1569.45zM1596.75 1129.21H1610.40V1144.12H1596.75zM81.60 1144.12H95.25V1159.03H81.60zM54.30 1159.03H67.95V1173.94H54.30zM122.55 1159.03H136.20V1173.94H122.55zM149.85 1159.03H177.15V1173.94H149.85zM709.50 1159.03H736.80V1173.94H709.50zM777.75 1159.03H805.05V1173.94H777.75zM859.65 1159.03H873.30V1173.94H859.65zM1009.80 1159.03H1023.45V1173.94H1009.80zM1091.70 1159.03H1105.35V1173.94H1091.70zM1187.25 1159.03H1214.55V1173.94H1187.25zM1269.15 1159.03H1282.80V1173.94H1269.15zM1337.40 1159.03H1351.05V1173.94H1337.40zM1405.65 1159.03H1419.30V1173.94H1405.65zM1555.80 1159.03H1569.45V1173.94H1555.80zM95.25 1173.94H108.90V1188.86H95.25zM136.20 1173.94H149.85V1188.86H136.20zM573.00 1173.94H586.65V1188.86H573.00zM627.60 1173.94H641.25V1188.86H627.60zM955.20 1173.94H968.85V1188.86H955.20zM1105.35 1173.94H1173.60V1188.86H1105.35zM1228.20 1173.94H1241.85V1188.86H1228.20zM1310.10 1173.94H1323.75V1188.86H1310.10zM1432.95 1173.94H1460.25V1188.86H1432.95zM1542.15 1173.94H1555.80V1188.86H1542.15zM54.30 1203.77H67.95V1218.68H54.30zM108.90 1203.77H122.55V1218.68H108.90zM231.75 1203.77H327.30V1218.68H231.75zM354.60 1203.77H381.90V1218.68H354.60zM395.55 1203.77H409.20V1218.68H395.55zM422.85 1203.77H436.50V1218.68H422.85zM477.45 1203.77H491.10V1218.68H477.45zM504.75 1203.77H518.40V1218.68H504.75zM532.05 1203.77H545.70V1218.68H532.05zM573.00 1203.77H600.30V1218.68H573.00zM613.95 1203.77H641.25V1218.68H613.95zM654.90 1203.77H668.55V1218.68H654.90zM682.20 1203.77H695.85V1218.68H682.20zM709.50 1203.77H764.10V1218.68H709.50zM777.75 1203.77H805.05V1218.68H777.75zM859.65 1203.77H873.30V1218.68H859.65zM886.95 1203.77H914.25V1218.68H886.95zM927.90 1203.77H941.55V1218.68H927.90zM955.20 1203.77H1023.45V1218.68H955.20zM1037.10 1203.77H1200.90V1218.68H1037.10zM1214.55 1203.77H1241.85V1218.68H1214.55zM1269.15 1203.77H1323.75V1218.68H1269.15zM1337.40 1203.77H1364.70V1218.68H1337.40zM1378.35 1203.77H1419.30V1218.68H1378.35zM1432.95 1203.77H1460.25V1218.68H1432.95zM1487.55 1203.77H1542.15V1218.68H1487.55zM1583.10 1203.77H1596.75V1218.68H1583.10zM1419.30 1218.68H1432.95V1233.59H1419.30zM1542.15 1218.68H1555.80V1233.59H1542.15zM968.85 1248.50H982.50V1263.42H968.85zM1364.70 1248.50H1378.35V1263.42H1364.70zM259.05 1278.33H272.70V1293.24H259.05zM300.00 1278.33H313.65V1293.24H300.00zM586.65 1278.33H600.30V1293.24H586.65zM641.25 1278.33H654.90V1293.24H641.25zM818.70 1278.33H832.35V1293.24H818.70zM1009.80 1278.33H1023.45V1293.24H1009.80zM1037.10 1278.33H1050.75V1293.24H1037.10zM1064.40 1278.33H1078.05V1293.24H1064.40zM1105.35 1278.33H1119.00V1293.24H1105.35zM1146.30 1278.33H1159.95V1293.24H1146.30zM1310.10 1278.33H1323.75V1293.24H1310.10zM1364.70 1278.33H1378.35V1293.24H1364.70zM1487.55 1278.33H1501.20V1293.24H1487.55zM1514.85 1278.33H1542.15V1293.24H1514.85zM1583.10 1278.33H1596.75V1293.24H1583.10zM1624.05 1278.33H1637.70V1293.24H1624.05zM1323.75 1293.24H1337.40V1308.15H1323.75zM300.00 1323.06H313.65V1337.98H300.00zM941.55 1323.06H955.20V1337.98H941.55zM1050.75 1323.06H1064.40V1337.98H1050.75zM245.40 1337.98H259.05V1352.89H245.40zM300.00 1337.98H313.65V1352.89H300.00zM491.10 1337.98H504.75V1352.89H491.10zM941.55 1337.98H955.20V1352.89H941.55zM968.85 1337.98H982.50V1352.89H968.85zM1050.75 1337.98H1078.05V1352.89H1050.75zM1228.20 1337.98H1241.85V1352.89H1228.20zM1282.80 1337.98H1310.10V1352.89H1282.80zM1378.35 1337.98H1392.00V1352.89H1378.35zM1446.60 1337.98H1460.25V1352.89H1446.60zM1501.20 1337.98H1514.85V1352.89H1501.20zM1105.35 1352.89H1119.00V1367.80H1105.35zM1146.30 1352.89H1159.95V1367.80H1146.30zM1460.25 1352.89H1473.90V1367.80H1460.25zM518.40 1367.80H532.05V1382.71H518.40zM300.00 1382.71H313.65V1397.62H300.00zM791.40 1382.71H805.05V1397.62H791.40zM955.20 1382.71H968.85V1397.62H955.20zM1037.10 1382.71H1050.75V1397.62H1037.10zM1064.40 1382.71H1078.05V1397.62H1064.40zM1105.35 1382.71H1119.00V1397.62H1105.35zM1200.90 1382.71H1214.55V1397.62H1200.90zM1487.55 1382.71H1501.20V1397.62H1487.55zM1528.50 1382.71H1542.15V1397.62H1528.50zM491.10 1412.54H504.75V1427.45H491.10zM764.10 1412.54H777.75V1427.45H764.10zM873.30 1412.54H886.95V1427.45H873.30zM1023.45 1412.54H1037.10V1427.45H1023.45zM1050.75 1412.54H1064.40V1427.45H1050.75zM1091.70 1412.54H1105.35V1427.45H1091.70zM1173.60 1412.54H1187.25V1427.45H1173.60zM1200.90 1412.54H1214.55V1427.45H1200.90zM1323.75 1412.54H1337.40V1427.45H1323.75zM231.75 1427.45H259.05V1442.36H231.75zM286.35 1427.45H300.00V1442.36H286.35zM313.65 1427.45H340.95V1442.36H313.65zM627.60 1427.45H641.25V1442.36H627.60zM654.90 1427.45H668.55V1442.36H654.90zM750.45 1427.45H777.75V1442.36H750.45zM791.40 1427.45H805.05V1442.36H791.40zM818.70 1427.45H846.00V1442.36H818.70zM859.65 1427.45H886.95V1442.36H859.65zM900.60 1427.45H914.25V1442.36H900.60zM968.85 1427.45H996.15V1442.36H968.85zM1023.45 1427.45H1064.40V1442.36H1023.45zM1105.35 1427.45H1132.65V1442.36H1105.35zM1146.30 1427.45H1173.60V1442.36H1146.30zM1214.55 1427.45H1228.20V1442.36H1214.55zM1296.45 1427.45H1310.10V1442.36H1296.45zM1364.70 1427.45H1378.35V1442.36H1364.70zM1392.00 1427.45H1405.65V1442.36H1392.00zM1419.30 1427.45H1460.25V1442.36H1419.30zM1487.55 1427.45H1555.80V1442.36H1487.55zM1583.10 1427.45H1596.75V1442.36H1583.10zM1624.05 1427.45H1637.70V1442.36H1624.05zM259.05 1442.36H272.70V1457.27H259.05zM791.40 1442.36H805.05V1457.27H791.40zM1105.35 1442.36H1119.00V1457.27H1105.35zM1200.90 1442.36H1214.55V1457.27H1200.90zM1378.35 1442.36H1392.00V1457.27H1378.35zM1542.15 1442.36H1555.80V1457.27H1542.15zM313.65 1457.27H327.30V1472.18H313.65zM491.10 1457.27H504.75V1472.18H491.10zM750.45 1457.27H764.10V1472.18H750.45zM968.85 1457.27H982.50V1472.18H968.85zM1501.20 1457.27H1514.85V1472.18H1501.20zM245.40 1472.18H259.05V1487.10H245.40zM873.30 1472.18H886.95V1487.10H873.30zM1064.40 1472.18H1078.05V1487.10H1064.40zM1105.35 1472.18H1119.00V1487.10H1105.35zM1173.60 1472.18H1187.25V1487.10H1173.60zM1446.60 1472.18H1473.90V1487.10H1446.60zM245.40 1487.10H259.05V1502.01H245.40zM1023.45 1487.10H1037.10V1502.01H1023.45zM1446.60 1487.10H1460.25V1502.01H1446.60zM846.00 1502.01H873.30V1516.92H846.00zM1337.40 1502.01H1351.05V1516.92H1337.40zM1378.35 1502.01H1392.00V1516.92H1378.35zM245.40 1516.92H259.05V1531.83H245.40zM286.35 1516.92H300.00V1531.83H286.35zM846.00 1516.92H859.65V1531.83H846.00zM1337.40 1516.92H1351.05V1531.83H1337.40zM54.30 1531.83H204.45V1546.74H54.30zM218.10 1531.83H340.95V1546.74H218.10zM354.60 1531.83H395.55V1546.74H354.60zM409.20 1531.83H573.00V1546.74H409.20zM586.65 1531.83H613.95V1546.74H586.65zM641.25 1531.83H668.55V1546.74H641.25zM695.85 1531.83H709.50V1546.74H695.85zM736.80 1531.83H764.10V1546.74H736.80zM777.75 1531.83H791.40V1546.74H777.75zM805.05 1531.83H846.00V1546.74H805.05zM859.65 1531.83H941.55V1546.74H859.65zM955.20 1531.83H1078.05V1546.74H955.20zM1091.70 1531.83H1187.25V1546.74H1091.70zM1214.55 1531.83H1255.50V1546.74H1214.55zM1282.80 1531.83H1296.45V1546.74H1282.80zM1310.10 1531.83H1337.40V1546.74H1310.10zM1351.05 1531.83H1637.70V1546.74H1351.05zM54.30 1546.74H108.90V1561.66H54.30zM122.55 1546.74H231.75V1561.66H122.55zM245.40 1546.74H272.70V1561.66H245.40zM286.35 1546.74H395.55V1561.66H286.35zM409.20 1546.74H914.25V1561.66H409.20zM927.90 1546.74H1119.00V1561.66H927.90zM1132.65 1546.74H1187.25V1561.66H1132.65zM1214.55 1546.74H1282.80V1561.66H1214.55zM1310.10 1546.74H1405.65V1561.66H1310.10zM1419.30 1546.74H1555.80V1561.66H1419.30zM1569.45 1546.74H1610.40V1561.66H1569.45zM1624.05 1546.74H1637.70V1561.66H1624.05zM54.30 1561.66H81.60V1576.57H54.30zM95.25 1561.66H108.90V1576.57H95.25zM122.55 1561.66H136.20V1576.57H122.55zM149.85 1561.66H163.50V1576.57H149.85zM190.80 1561.66H231.75V1576.57H190.80zM245.40 1561.66H259.05V1576.57H245.40zM272.70 1561.66H286.35V1576.57H272.70zM300.00 1561.66H573.00V1576.57H300.00zM586.65 1561.66H709.50V1576.57H586.65zM723.15 1561.66H777.75V1576.57H723.15zM805.05 1561.66H818.70V1576.57H805.05zM832.35 1561.66H859.65V1576.57H832.35zM873.30 1561.66H914.25V1576.57H873.30zM941.55 1561.66H1009.80V1576.57H941.55zM1023.45 1561.66H1105.35V1576.57H1023.45zM1132.65 1561.66H1173.60V1576.57H1132.65zM1187.25 1561.66H1228.20V1576.57H1187.25zM1241.85 1561.66H1255.50V1576.57H1241.85zM1269.15 1561.66H1296.45V1576.57H1269.15zM1310.10 1561.66H1337.40V1576.57H1310.10zM1351.05 1561.66H1405.65V1576.57H1351.05zM1419.30 1561.66H1432.95V1576.57H1419.30zM1446.60 1561.66H1473.90V1576.57H1446.60zM1487.55 1561.66H1542.15V1576.57H1487.55zM1555.80 1561.66H1610.40V1576.57H1555.80zM54.30 1576.57H95.25V1591.48H54.30zM122.55 1576.57H136.20V1591.48H122.55zM149.85 1576.57H190.80V1591.48H149.85zM204.45 1576.57H231.75V1591.48H204.45zM395.55 1576.57H409.20V1591.48H395.55zM450.15 1576.57H477.45V1591.48H450.15zM532.05 1576.57H545.70V1591.48H532.05zM600.30 1576.57H613.95V1591.48H600.30zM818.70 1576.57H832.35V1591.48H818.70zM873.30 1576.57H886.95V1591.48H873.30zM900.60 1576.57H914.25V1591.48H900.60zM1009.80 1576.57H1023.45V1591.48H1009.80zM1037.10 1576.57H1050.75V1591.48H1037.10zM1105.35 1576.57H1119.00V1591.48H1105.35zM1132.65 1576.57H1146.30V1591.48H1132.65zM1323.75 1576.57H1337.40V1591.48H1323.75zM1419.30 1576.57H1432.95V1591.48H1419.30zM1610.40 1576.57H1624.05V1591.48H1610.40z" fill="#00ff00" shape-rendering="crispEdges"/>
<path d="M54.30 1009.91H67.95V1024.82H54.30zM695.85 1009.91H709.50V1024.82H695.85zM873.30 1009.91H886.95V1024.82H873.30zM1159.95 1009.91H1173.60V1024.82H1159.95zM1214.55 1009.91H1228.20V1024.82H1214.55zM1282.80 1009.91H1296.45V1024.82H1282.80zM1310.10 1009.91H1323.75V1024.82H1310.10zM791.40 1039.74H805.05V1054.65H791.40zM1105.35 1039.74H1119.00V1054.65H1105.35zM1228.20 1039.74H1241.85V1054.65H1228.20zM1200.90 1054.65H1214.55V1069.56H1200.90zM259.05 1069.56H272.70V1084.47H259.05zM286.35 1069.56H313.65V1084.47H286.35zM422.85 1069.56H436.50V1084.47H422.85zM491.10 1069.56H518.40V1084.47H491.10zM573.00 1069.56H586.65V1084.47H573.00zM709.50 1069.56H736.80V1084.47H709.50zM764.10 1069.56H777.75V1084.47H764.10zM791.40 1069.56H818.70V1084.47H791.40zM846.00 1069.56H859.65V1084.47H846.00zM873.30 1069.56H900.60V1084.47H873.30zM914.25 1069.56H982.50V1084.47H914.25zM996.15 1069.56H1037.10V1084.47H996.15zM1064.40 1069.56H1119.00V1084.47H1064.40zM1173.60 1069.56H1200.90V1084.47H1173.60zM1228.20 1069.56H1282.80V1084.47H1228.20zM1337.40 1069.56H1364.70V1084.47H1337.40zM1378.35 1069.56H1419.30V1084.47H1378.35zM1432.95 1069.56H1446.60V1084.47H1432.95zM1473.90 1069.56H1487.55V1084.47H1473.90zM259.05 1084.47H313.65V1099.38H259.05zM422.85 1084.47H436.50V1099.38H422.85zM491.10 1084.47H518.40V1099.38H491.10zM573.00 1084.47H586.65V1099.38H573.00zM709.50 1084.47H736.80V1099.38H709.50zM764.10 1084.47H777.75V1099.38H764.10zM791.40 1084.47H818.70V1099.38H791.40zM846.00 1084.47H859.65V1099.38H846.00zM873.30 1084.47H900.60V1099.38H873.30zM914.25 1084.47H982.50V1099.38H914.25zM996.15 1084.47H1037.10V1099.38H996.15zM1064.40 1084.47H1119.00V1099.38H1064.40zM1173.60 1084.47H1200.90V1099.38H1173.60zM1228.20 1084.47H1282.80V1099.38H1228.20zM1337.40 1084.47H1364.70V1099.38H1337.40zM1378.35 1084.47H1419.30V1099.38H1378.35zM1432.95 1084.47H1446.60V1099.38H1432.95zM1473.90 1084.47H1487.55V1099.38H1473.90zM805.05 1188.86H818.70V1203.77H805.05zM67.95 1203.77H81.60V1218.68H67.95zM409.20 1203.77H422.85V1218.68H409.20zM450.15 1203.77H463.80V1218.68H450.15zM491.10 1203.77H504.75V1218.68H491.10zM518.40 1203.77H532.05V1218.68H518.40zM641.25 1203.77H654.90V1218.68H641.25zM695.85 1203.77H709.50V1218.68H695.85zM764.10 1203.77H777.75V1218.68H764.10zM805.05 1203.77H818.70V1218.68H805.05zM914.25 1203.77H927.90V1218.68H914.25zM941.55 1203.77H955.20V1218.68H941.55zM1023.45 1203.77H1037.10V1218.68H1023.45zM1255.50 1203.77H1269.15V1218.68H1255.50zM1364.70 1203.77H1378.35V1218.68H1364.70zM1473.90 1203.77H1487.55V1218.68H1473.90zM1596.75 1203.77H1610.40V1218.68H1596.75zM846.00 1218.68H859.65V1233.59H846.00zM231.75 1233.59H245.40V1248.50H231.75zM422.85 1233.59H436.50V1248.50H422.85zM450.15 1233.59H463.80V1248.50H450.15zM695.85 1233.59H723.15V1248.50H695.85zM791.40 1233.59H805.05V1248.50H791.40zM927.90 1233.59H941.55V1248.50H927.90zM982.50 1233.59H996.15V1248.50H982.50zM1132.65 1233.59H1146.30V1248.50H1132.65zM1282.80 1233.59H1296.45V1248.50H1282.80zM1392.00 1233.59H1405.65V1248.50H1392.00zM54.30 1248.50H67.95V1263.42H54.30zM627.60 1248.50H641.25V1263.42H627.60zM1159.95 1248.50H1173.60V1263.42H1159.95zM1214.55 1248.50H1228.20V1263.42H1214.55zM1282.80 1248.50H1296.45V1263.42H1282.80zM1310.10 1248.50H1323.75V1263.42H1310.10zM791.40 1263.42H805.05V1278.33H791.40zM1105.35 1263.42H1119.00V1278.33H1105.35zM1228.20 1263.42H1241.85V1278.33H1228.20zM491.10 1278.33H504.75V1293.24H491.10zM805.05 1278.33H818.70V1293.24H805.05zM846.00 1278.33H859.65V1293.24H846.00zM886.95 1278.33H900.60V1293.24H886.95zM1351.05 1278.33H1364.70V1293.24H1351.05zM1460.25 1278.33H1473.90V1293.24H1460.25zM873.30 1293.24H886.95V1308.15H873.30zM1200.90 1308.15H1214.55V1323.06H1200.90zM245.40 1323.06H259.05V1337.98H245.40zM422.85 1323.06H436.50V1337.98H422.85zM450.15 1323.06H463.80V1337.98H450.15zM518.40 1323.06H532.05V1337.98H518.40zM668.55 1323.06H682.20V1337.98H668.55zM709.50 1323.06H723.15V1337.98H709.50zM955.20 1323.06H968.85V1337.98H955.20zM996.15 1323.06H1009.80V1337.98H996.15zM1091.70 1323.06H1105.35V1337.98H1091.70zM1132.65 1323.06H1146.30V1337.98H1132.65zM1173.60 1323.06H1187.25V1337.98H1173.60zM1337.40 1323.06H1351.05V1337.98H1337.40zM1392.00 1323.06H1405.65V1337.98H1392.00zM1119.00 1382.71H1132.65V1397.62H1119.00zM1228.20 1382.71H1241.85V1397.62H1228.20zM1596.75 1382.71H1610.40V1397.62H1596.75zM805.05 1397.62H818.70V1412.54H805.05zM245.40 1412.54H259.05V1427.45H245.40zM422.85 1412.54H436.50V1427.45H422.85zM450.15 1412.54H463.80V1427.45H450.15zM518.40 1412.54H532.05V1427.45H518.40zM695.85 1412.54H709.50V1427.45H695.85zM791.40 1412.54H805.05V1427.45H791.40zM955.20 1412.54H968.85V1427.45H955.20zM996.15 1412.54H1009.80V1427.45H996.15zM1105.35 1412.54H1119.00V1427.45H1105.35zM1132.65 1412.54H1146.30V1427.45H1132.65zM1159.95 1412.54H1173.60V1427.45H1159.95zM1228.20 1412.54H1241.85V1427.45H1228.20zM1310.10 1412.54H1323.75V1427.45H1310.10zM1392.00 1412.54H1405.65V1427.45H1392.00zM300.00 1427.45H313.65V1442.36H300.00zM422.85 1427.45H436.50V1442.36H422.85zM491.10 1427.45H518.40V1442.36H491.10zM709.50 1427.45H736.80V1442.36H709.50zM805.05 1427.45H818.70V1442.36H805.05zM846.00 1427.45H859.65V1442.36H846.00zM886.95 1427.45H900.60V1442.36H886.95zM914.25 1427.45H927.90V1442.36H914.25zM941.55 1427.45H968.85V1442.36H941.55zM1009.80 1427.45H1023.45V1442.36H1009.80zM1064.40 1427.45H1078.05V1442.36H1064.40zM1091.70 1427.45H1105.35V1442.36H1091.70zM1173.60 1427.45H1187.25V1442.36H1173.60zM1255.50 1427.45H1282.80V1442.36H1255.50zM1337.40 1427.45H1351.05V1442.36H1337.40zM1405.65 1427.45H1419.30V1442.36H1405.65zM886.95 1442.36H900.60V1457.27H886.95zM1282.80 1442.36H1296.45V1457.27H1282.80zM641.25 1457.27H654.90V1472.18H641.25zM218.10 1472.18H231.75V1487.10H218.10zM1146.30 1472.18H1159.95V1487.10H1146.30zM1323.75 1472.18H1337.40V1487.10H1323.75z" fill="#0000ff" shape-rendering="crispEdges"/>
<path d="M1392.00 1576.57H1405.65V1591.48H1392.00z" fill="#ff0000" shape-rendering="crispEdges"/>
<path d="M54.3 1592.98V994.8" stroke="#c090e0" stroke-width="1.2" fill="none"/>
<path d="M54.3 994.8H218.10000000000002" stroke="#e0b0f0" stroke-width="1.7" fill="none"/>
<path d="M218.1 994.8V1592.98" stroke="#e68ae6" stroke-width="1.5" fill="none"/>
<path d="M54.3 1592.68H218.1" stroke="#d8a0e8" stroke-width="1" fill="none"/>
<path d="M218.1 993.7H1638.0V1593.48" stroke="#ffb8d0" stroke-width="1" fill="none"/>
<rect x="54.3" y="1595" width="163.8" height="44.6" fill="#cfd3fb"/>
<rect x="218.1" y="1593.5" width="1420.6" height="46.5" fill="#ffbbcc"/>
<text x="54.5" y="1625.8" font-size="19" fill="#1a1a4d" textLength="169" lengthAdjust="spacingAndGlyphs">Atlanta <tspan font-style="italic">E. coli</tspan> MAGs</text>
<text x="792" y="1625.8" font-size="19" fill="#5a2a3a" textLength="176" lengthAdjust="spacingAndGlyphs">Maputo <tspan font-style="italic">E. coli</tspan> MAGs</text>
<text x="1641.6" y="1007.4" font-size="16">aac(3)−IId</text>
<text x="1641.6" y="1022.3" font-size="16">aadA1</text>
<text x="1641.6" y="1037.2" font-size="16">aadA1bt</text>
<text x="1641.6" y="1052.1" font-size="16">aadA2</text>
<text x="1641.6" y="1067.0" font-size="16">aadA5</text>
<text x="1641.6" y="1082.0" font-size="16">aph(3)−Ib</text>
<text x="1641.6" y="1096.9" font-size="16">aph(6)−Id</text>
<text x="1641.6" y="1111.8" font-size="16">blaEC</text>
<text x="1641.6" y="1126.7" font-size="16">blaEC−15</text>
<text x="1641.6" y="1141.6" font-size="16">blaEC−18</text>
<text x="1641.6" y="1156.5" font-size="16">blaEC−19</text>
<text x="1641.6" y="1171.4" font-size="16">blaEC−5</text>
<text x="1641.6" y="1186.3" font-size="16">blaEC−8</text>
<text x="1641.6" y="1201.3" font-size="16">blaLAP−2</text>
<text x="1641.6" y="1216.2" font-size="16">blaTEM−1</text>
<text x="1641.6" y="1231.1" font-size="16">blaTEM−235</text>
<text x="1641.6" y="1246.0" font-size="16">catA1</text>
<text x="1641.6" y="1260.9" font-size="16">dfrA1</text>
<text x="1641.6" y="1275.8" font-size="16">dfrA12</text>
<text x="1641.6" y="1290.7" font-size="16">dfrA14</text>
<text x="1641.6" y="1305.6" font-size="16">dfrA15</text>
<text x="1641.6" y="1320.6" font-size="16">dfrA17</text>
<text x="1641.6" y="1335.5" font-size="16">dfrA7</text>
<text x="1641.6" y="1350.4" font-size="16">dfrA8</text>
<text x="1641.6" y="1365.3" font-size="16">dfrF</text>
<text x="1641.6" y="1380.2" font-size="16">fosA7.5</text>
<text x="1641.6" y="1395.1" font-size="16">mph(A)</text>
<text x="1641.6" y="1410.0" font-size="16">qnrS1</text>
<text x="1641.6" y="1424.9" font-size="16">sul1</text>
<text x="1641.6" y="1439.8" font-size="16">sul2</text>
<text x="1641.6" y="1454.8" font-size="16">tet(A)</text>
<text x="1641.6" y="1469.7" font-size="16">tet(B)</text>
<text x="1641.6" y="1484.6" font-size="16">tet(M)</text>
<text x="1641.6" y="1499.5" font-size="16">tet(O)</text>
<text x="1641.6" y="1514.4" font-size="16">tet(Q)</text>
<text x="1641.6" y="1529.3" font-size="16">tet(W)</text>
<text x="1641.6" y="1544.2" font-size="16">acrF</text>
<text x="1641.6" y="1559.1" font-size="16">emrD</text>
<text x="1641.6" y="1574.1" font-size="16">mdtM</text>
<text x="1641.6" y="1589.0" font-size="16">SMR_efflux_emrE</text>
<line x1="1747.6" x2="1747.6" y1="1012.9" y2="1096" stroke="#333" stroke-width="1.5"/>
<line x1="1747.6" x2="1747.6" y1="1104.3" y2="1229.6" stroke="#333" stroke-width="1.5"/>
<line x1="1748.1" x2="1748.1" y1="1253.3" y2="1366.9" stroke="#333" stroke-width="1.5"/>
<line x1="1746.6" x2="1746.6" y1="1414.8" y2="1443.5" stroke="#333" stroke-width="1.5"/>
<line x1="1746.6" x2="1746.6" y1="1447.8" y2="1531.4" stroke="#333" stroke-width="1.5"/>
<line x1="1775.8" x2="1775.8" y1="1533.4" y2="1592.8" stroke="#333" stroke-width="1.5"/>
<text x="1774.6" y="1007.4" font-size="21.6" textLength="145.5" lengthAdjust="spacingAndGlyphs">GENTAMYCIN</text>
<text x="1775.0" y="1062.3" font-size="21.6" textLength="175.5" lengthAdjust="spacingAndGlyphs">STREPTOMYCIN</text>
<text x="1776.6" y="1178.9" font-size="21.6" textLength="151.0" lengthAdjust="spacingAndGlyphs">BETA-LACTAM</text>
<text x="1774.6" y="1248.3" font-size="21.6" textLength="224.5" lengthAdjust="spacingAndGlyphs">CHLORAMPHENICOL</text>
<text x="1776.6" y="1320.7" font-size="21.5" textLength="144.8" lengthAdjust="spacingAndGlyphs">TRIMETHOPRIM</text>
<text x="1777.0" y="1382.9" font-size="16" textLength="96.6" lengthAdjust="spacingAndGlyphs">FOSFOMYCIN</text>
<text x="1777.0" y="1398.1" font-size="16" textLength="86.9" lengthAdjust="spacingAndGlyphs">MACROLIDE</text>
<text x="1777.0" y="1413.6" font-size="16" textLength="88.9" lengthAdjust="spacingAndGlyphs">QUINOLONE</text>
<text x="1778.8" y="1436.0" font-size="20.5" textLength="138.5" lengthAdjust="spacingAndGlyphs">SULFONAMIDE</text>
<text x="1784.6" y="1489.7" font-size="21" textLength="136.8" lengthAdjust="spacingAndGlyphs">TETRACYCLINE</text>
<text x="1799.6" y="1569.1" font-size="21" textLength="116.0" lengthAdjust="spacingAndGlyphs">MULTI DRUG</text>
</g>
</svg></body></html>
